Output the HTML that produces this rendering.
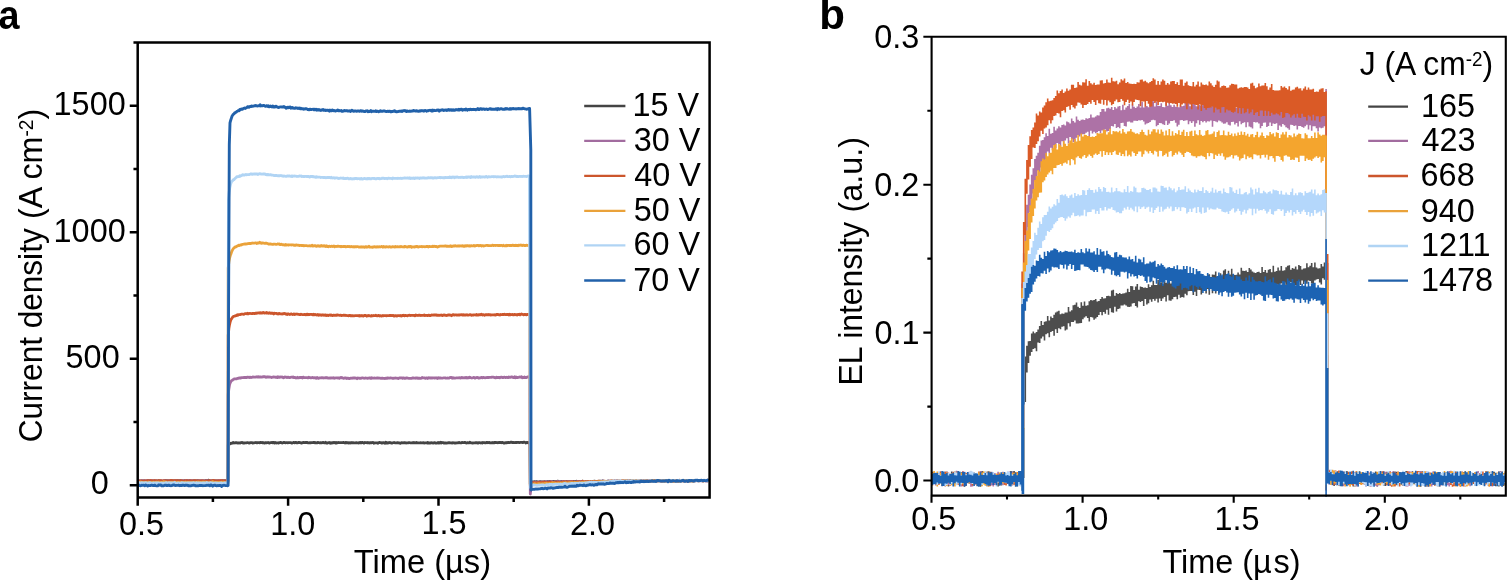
<!DOCTYPE html>
<html><head><meta charset="utf-8"><title>Figure</title>
<style>
html,body{margin:0;padding:0;background:#fff;}
body{width:1507px;height:580px;overflow:hidden;}
svg{display:block;}
text{font-family:"Liberation Sans",Arial,Helvetica,sans-serif;fill:#000;}
</style></head><body>
<svg width="1507" height="580" viewBox="0 0 1507 580">
<rect width="1507" height="580" fill="#fff"/>
<g clip-path="url(#ca)">
<path d="M137.7 480.9l1 -0.1 1 0 1 0.2 1 -0.2 1 0.1 1 0 1 0.3 1 -0.2 1 0 1 -0.2 1 -0.2 1 0.5 1 0 1 -0.2 1 0.1 1 0.1 1 0 1 0 1 -0.3 1 0.4 1 -0.6 1 0.5 1 -0.1 1 0.1 1 0.2 1 -0.1 1 -0.6 1 -0.1 1 0.6 1 -0.4 1 0.2 1 0.2 1 -0.6 1 -0.1 1 0.6 1 -0.1 1 -0.1 1 0.1 1 -0.2 1 -0.1 1 0.3 1 -0.2 1 -0.2 1 0.5 1 -0.1 1 0.1 1 -0.3 1 0.1 1 -0.1 1 0 1 0.2 1 -0.2 1 0.3 1 0 1 0.3 1 -0.7 1 0.5 1 -0.2 1 0 1 -0.3 1 0.2 1 0.3 1 -0.2 1 0 1 -0.1 1 0.4 1 -0.3 1 -0.5 1 0.3 1 -0.2 1 -0.3 1 0.6 1 0.4 1 -0.3 1 -0.3 1 0.1 1 0.4 1 -0.2 1 0 1 0 1 0 1 0.2 1 -0.1 1 -0.1 1 -0.2 1 0.3 1 -0.3 1 0.4 1 -0.5 1 0.3 0.3 0 0.2 -35.9 0.7 -1 0.7 0.1 0.7 -0.4 0.7 -0.5 0.7 0.1 0.7 -0.1 0.7 -0.8 0.7 0.6 0.7 -0.1 0.7 0 0.7 -0.3 0.7 0.1 0.7 0.1 0.7 0.3 0.7 -0.2 0.7 -0.1 0.7 0.3 0.7 -0.4 0.7 0 0.7 -0.3 0.7 0.7 0.7 -0.1 0.7 0 0.7 -0.1 0.7 -0.1 0.7 0 0.7 -0.1 0.7 0 0.7 0.1 0.7 0.3 0.7 -0.2 0.7 -0.2 0.7 -0.1 0.7 0 0.7 0.5 0.7 -0.2 0.7 -0.1 0.7 -0.1 0.7 -0.2 0.7 0.2 0.7 0.2 0.7 -0.3 0.7 0.1 0.7 0 0.7 0.1 0.7 -0.4 0.7 0.3 0.7 -0.2 0.7 0.4 0.7 -0.3 0.7 0.3 0.7 0.2 0.7 -0.4 0.7 -0.1 0.7 0.2 0.7 -0.1 0.7 -0.2 0.7 0.3 0.7 0.4 0.7 -0.5 0.7 0 0.7 -0.2 0.7 0.3 0.7 -0.4 0.7 0.1 0.7 0.5 0.7 -0.5 0.7 0.4 0.7 0.1 0.7 -0.2 0.7 0 0.7 0.3 0.7 -0.4 0.7 -0.1 0.7 -0.2 0.7 0.3 0.7 0.3 0.7 -0.1 0.7 -0.4 0.7 0 0.7 0.1 0.7 0.2 0.7 -0.1 0.7 0 0.7 0.1 0.7 -0.2 0.7 0.1 0.7 0 0.7 0 0.7 0.1 0.7 0.3 0.7 -0.3 0.7 -0.1 0.7 -0.4 0.7 0.5 0.7 -0.5 0.7 0.1 0.7 0.5 0.7 0 0.7 -0.2 0.7 -0.4 0.7 0.3 0.7 0 0.7 0.2 0.7 0.4 0.7 -0.5 0.7 -0.2 0.7 -0.1 0.7 0.3 0.7 0 0.7 -0.3 0.7 0.3 0.7 -0.3 0.7 0.5 0.7 0 0.7 0 0.7 -0.3 0.7 0.2 0.7 -0.1 0.7 -0.1 0.7 0 0.7 -0.2 0.7 0 0.7 0.5 0.7 -0.2 0.7 0.1 0.7 0.1 0.7 -0.6 0.7 0.2 0.7 0.3 0.7 0 0.7 -0.2 0.7 0.3 0.7 -0.1 0.7 -0.3 0.7 0 0.7 0.4 0.7 -0.1 0.7 -0.5 0.7 0.7 0.7 -0.1 0.7 0.1 0.7 -0.4 0.7 0.1 0.7 -0.2 0.7 0.8 0.7 -0.6 0.7 0.4 0.7 -0.5 0.7 0.2 0.7 -0.4 0.7 0.3 0.7 0.3 0.7 -0.5 0.7 0.5 0.7 -0.2 0.7 -0.3 0.7 0.1 0.7 0 0.7 0.1 0.7 -0.1 0.7 0 0.7 0.1 0.7 -0.2 0.7 0 0.7 0.3 0.7 0.2 0.7 -0.6 0.7 0.4 0.7 -0.2 0.7 0 0.7 0.4 0.7 -0.3 0.7 0.4 0.7 -0.5 0.7 0.3 0.7 -0.2 0.7 -0.1 0.7 0.3 0.7 -0.1 0.7 0.1 0.7 -0.1 0.7 -0.2 0.7 0.2 0.7 0 0.7 0.2 0.7 -0.4 0.7 0.2 0.7 -0.4 0.7 0.5 0.7 -0.3 0.7 -0.2 0.7 0.4 0.7 0.3 0.7 -0.6 0.7 0.1 0.7 0.1 0.7 -0.1 0.7 0.3 0.7 -0.3 0.7 0.1 0.7 0.3 0.7 -0.3 0.7 0.2 0.7 -0.3 0.7 0 0.7 -0.2 0.7 0.8 0.7 -0.4 0.7 0.1 0.7 -0.1 0.7 0.1 0.7 0 0.7 0.4 0.7 -0.7 0.7 -0.1 0.7 0.1 0.7 0 0.7 0.4 0.7 0 0.7 -0.4 0.7 0 0.7 0.2 0.7 0.4 0.7 -1 0.7 0.8 0.7 -0.4 0.7 0.5 0.7 -0.5 0.7 0.2 0.7 -0.3 0.7 0.2 0.7 0.5 0.7 -0.1 0.7 -0.3 0.7 -0.1 0.7 -0.2 0.7 0.3 0.7 0.1 0.7 0 0.7 0 0.7 -0.3 0.7 0.3 0.7 0 0.7 0.3 0.7 0.1 0.7 -0.4 0.7 -0.2 0.7 0.2 0.7 -0.1 0.7 -0.1 0.7 0.2 0.7 -0.2 0.7 0.3 0.7 -0.1 0.7 0 0.7 0 0.7 -0.2 0.7 0 0.7 0.1 0.7 0 0.7 0.1 0.7 0 0.7 -0.3 0.7 0.3 0.7 -0.3 0.7 0.2 0.7 0 0.7 -0.4 0.7 0.5 0.7 0 0.7 0 0.7 -0.1 0.7 0 0.7 -0.1 0.7 0.1 0.7 0 0.7 0.1 0.7 -0.3 0.7 0.4 0.7 -0.1 0.7 0 0.7 -0.1 0.7 0.2 0.7 -0.5 0.7 0.5 0.7 -0.1 0.7 0.1 0.7 0 0.7 -0.3 0.7 0.1 0.7 0.2 0.7 0 0.7 -0.1 0.7 -0.3 0.7 0.4 0.7 0.1 0.7 0 0.7 -0.2 0.7 -0.4 0.7 0.6 0.7 -0.3 0.7 -0.5 0.7 0.7 0.7 -0.5 0.7 0.1 0.7 0.1 0.7 0.4 0.7 -0.3 0.7 0.1 0.7 0.3 0.7 0 0.7 -0.4 0.7 0 0.7 -0.2 0.7 0.1 0.7 0.2 0.7 0 0.7 0 0.7 0.2 0.7 -0.4 0.7 0.1 0.7 0.2 0.7 0 0.7 0.1 0.7 -0.2 0.7 -0.1 0.7 0.1 0.7 -0.3 0.7 -0.1 0.7 0.4 0.7 -0.1 0.7 0.1 0.7 -0.5 0.7 0.3 0.7 0 0.7 -0.1 0.7 -0.3 0.7 0.4 0.7 0.3 0.7 -0.1 0.7 -0.2 0.7 0.1 0.7 0.1 0.7 -0.7 0.7 0.5 0.7 0.2 0.7 0 0.7 0.2 0.7 -0.1 0.7 -0.2 0.7 0 0.7 0.1 0.7 -0.3 0.7 0.1 0.7 0.2 0.7 0.3 0.7 -0.5 0.7 0 0.7 0.1 0.7 0.2 0.7 -0.3 0.7 0.3 0.7 -0.5 0.7 0.2 0.7 0 0.7 0.2 0.7 0 0.7 -0.5 0.7 0.1 0.7 0.3 0.7 -0.3 0.7 -0.2 0.7 0.6 0.7 -0.1 0.7 0 0.7 -0.2 0.7 0.3 0.7 -0.3 0.7 0.3 0.7 -0.5 0.7 0 0.7 0.3 0.7 -0.2 0.7 0.3 0.7 -0.1 0.7 -0.3 0.7 0.2 0.7 -0.1 0.7 0.3 0.7 -0.3 0.7 0 0.7 0.4 0.7 0.2 0.7 -0.1 0.7 -0.4 0.7 0 0.7 0.3 0.7 -0.4 0.7 -0.2 0.7 0.3 0.7 0 0.7 -0.2 0.7 -0.2 0.7 0 0.7 0.5 0.7 -0.4 0.7 0.2 0.7 0.1 0.7 0 0.7 -0.2 0.7 0.2 0.7 -0.3 0.7 0.1 0.7 -0.1 0.7 0.4 0.7 -0.2 0.7 -0.2 0.7 0.1 0.7 0 0.7 0.2 0.7 -0.5 0.7 0.1 0.7 0.1 0.7 0.7 0.7 -0.4 0.7 -0.2 0.7 0.2 0.7 0.3 0.7 -0.6 0.7 0 0.4 41.6 1.2 -2 1 0.1 1 -0.2 1 -0.1 1 0.1 1 -0.2 1 0.3 1 0.2 1 -0.4 1 0 1 0.2 1 0 1 -0.1 1 -0.2 1 0.2 1 0.1 1 -0.4 1 0.2 1 -0.4 1 0.2 1 -0.2 1 0.4 1 -0.3 1 0.4 1 -0.1 1 0 1 -0.6 1 0.5 1 0.1 1 0 1 -0.4 1 0.2 1 -0.1 1 0.1 1 0.4 1 -0.5 1 0.2 1 0.2 1 -0.3 1 0.1 1 0 1 0 1 -0.3 1 0.3 1 0.3 1 -0.7 1 0.5 1 -0.1 1 -0.2 1 0.6 1 -0.3 1 -0.5 1 0.3 1 0.1 1 -0.2 1 0.2 1 -0.2 1 0.2 1 0.2 1 -0.5 1 0.2 1 -0.2 1 0.1 1 -0.3 1 0.2 1 0 1 0.3 1 0 1 -0.5 1 0.1 1 0.3 1 -0.6 1 0.3 1 0.1 1 0.3 1 -0.1 1 -0.3 1 0 1 0 1 0.4 1 -0.4 1 0 1 0.1 1 -0.1 1 0 1 -0.2 1 0.2 1 -0.1 1 0.4 1 -0.2 1 -0.1 1 0.1 1 -0.2 1 0.3 1 -0.2 1 0.1 1 -0.4 1 0.3 1 -0.4 1 -0.1 1 0.4 1 -0.2 1 0.2 1 0.5 1 -0.7 1 0.1 1 0.1 1 0.1 1 -0.2 1 0 1 0.2 1 0 1 -0.4 1 0.2 1 0 1 -0.2 1 0.3 1 -0.3 1 0.4 1 -0.2 1 0 1 -0.1 1 0 1 -0.4 1 0.2 1 0.3 1 -0.5 1 0.6 1 -0.5 1 0.5 1 -0.4 1 0.4 1 -0.2 1 -0.3 1 0.6 1 0 1 -0.3 1 -0.1 1 0 1 -0.2 1 0.5 1 -0.4 1 0.1 1 -0.1 1 0 1 -0.2 1 0.6 1 -0.3 1 0.2 1 -0.2 1 -0.2 1 0.1 1 0 1 0.1 1 -0.1 1 0 1 -0.3 1 0.2 1 0.5 1 -0.5 1 -0.1 1 0.3 1 0.2 1 -0.6 1 0.2 1 -0.1 1 -0.2 1 0.5 1 -0.1 1 0 1 -0.2 1 0.2 1 -0.2 1 0.1 1 -0.2 1 0 1 0.5 1 -0.4 1 0.2" fill="none" stroke="#444444" stroke-width="2.8" stroke-linejoin="round"/>
<path d="M137.7 481.2l1 -0.6 1 0.2 1 0.1 1 0.1 1 -0.3 1 0.2 1 -0.2 1 0.1 1 0 1 -0.3 1 0.3 1 0.2 1 -0.4 1 0.1 1 0.2 1 -0.3 1 0.2 1 -0.2 1 0.4 1 0.3 1 -0.1 1 -0.4 1 0.2 1 -0.2 1 0 1 0.3 1 -0.6 1 0.5 1 -0.2 1 0.3 1 -0.3 1 -0.1 1 0.2 1 0.1 1 -0.2 1 0.1 1 -0.2 1 -0.4 1 0.7 1 0 1 -0.2 1 0 1 0.2 1 -0.3 1 -0.1 1 0.2 1 0.3 1 -0.6 1 0.6 1 -0.4 1 -0.1 1 0.5 1 -0.3 1 -0.3 1 0.2 1 0.3 1 0.1 1 -0.4 1 0.2 1 0.1 1 -0.3 1 0.2 1 -0.1 1 -0.1 1 0 1 0.1 1 0 1 -0.1 1 0 1 0.3 1 -0.2 1 0.2 1 0.1 1 -0.2 1 0.4 1 -0.7 1 0.4 1 -0.3 1 0.5 1 0 1 -0.8 1 0.2 1 0.3 1 0.1 1 0 1 -0.2 1 0.1 1 0 1 -0.1 1 0.2 0.3 -0.2 0.2 -86.3 0.7 -5.8 0.7 -4.3 0.7 -1.7 0.7 -1.4 0.7 -0.8 0.7 -0.3 0.7 -0.7 0.7 -0.3 0.7 -0.4 0.7 0.1 0.7 -0.1 0.7 0 0.7 -0.5 0.7 0.1 0.7 -0.3 0.7 -0.2 0.7 0.1 0.7 0 0.7 -0.4 0.7 0 0.7 0 0.7 0 0.7 -0.3 0.7 0.4 0.7 -0.4 0.7 0.2 0.7 -0.4 0.7 0.3 0.7 -0.1 0.7 -0.2 0.7 0.5 0.7 -0.4 0.7 0.3 0.7 -0.2 0.7 -0.3 0.7 0 0.7 0.2 0.7 -0.1 0.7 0 0.7 -0.1 0.7 -0.3 0.7 0.4 0.7 -0.5 0.7 0.6 0.7 -0.3 0.7 0 0.7 0.2 0.7 0.1 0.7 -0.4 0.7 -0.1 0.7 0.2 0.7 -0.2 0.7 0.2 0.7 0.5 0.7 -0.5 0.7 0.3 0.7 -0.4 0.7 0.4 0.7 -0.2 0.7 0.1 0.7 0.1 0.7 0.3 0.7 -0.4 0.7 0 0.7 -0.2 0.7 0.3 0.7 -0.1 0.7 0.2 0.7 -0.2 0.7 0.4 0.7 -0.8 0.7 0.4 0.7 0.3 0.7 -0.3 0.7 -0.1 0.7 0.2 0.7 -0.3 0.7 0.4 0.7 0.5 0.7 -0.3 0.7 -0.5 0.7 0.1 0.7 0.1 0.7 0.4 0.7 -0.4 0.7 0 0.7 0.4 0.7 0 0.7 -0.3 0.7 -0.1 0.7 -0.1 0.7 0.2 0.7 -0.3 0.7 0.7 0.7 -0.3 0.7 0.2 0.7 0.4 0.7 -0.2 0.7 -0.5 0.7 0.5 0.7 0 0.7 -0.4 0.7 0 0.7 0.2 0.7 -0.3 0.7 0.7 0.7 -0.9 0.7 0.3 0.7 0.2 0.7 0 0.7 0.1 0.7 0 0.7 -0.1 0.7 0.3 0.7 -0.7 0.7 0.5 0.7 -0.1 0.7 0.2 0.7 0 0.7 -0.3 0.7 0.1 0.7 0.3 0.7 -0.1 0.7 -0.2 0.7 0.6 0.7 0.1 0.7 -0.8 0.7 0.4 0.7 0.5 0.7 -0.4 0.7 -0.1 0.7 -0.1 0.7 -0.1 0.7 0.1 0.7 -0.1 0.7 0.3 0.7 -0.2 0.7 0 0.7 -0.2 0.7 0.3 0.7 -0.2 0.7 0.2 0.7 0.3 0.7 -0.2 0.7 0.1 0.7 -0.1 0.7 0 0.7 -0.1 0.7 0 0.7 0.2 0.7 -0.4 0.7 0.6 0.7 -0.3 0.7 -0.2 0.7 0.1 0.7 0 0.7 0.2 0.7 -0.2 0.7 0.4 0.7 -0.4 0.7 -0.4 0.7 0.4 0.7 -0.3 0.7 0.5 0.7 0.2 0.7 -0.1 0.7 -0.4 0.7 0.1 0.7 0.6 0.7 -0.3 0.7 -0.1 0.7 0.2 0.7 0.4 0.7 -0.3 0.7 -0.2 0.7 0 0.7 0.1 0.7 -0.3 0.7 -0.1 0.7 0.3 0.7 -0.3 0.7 0.2 0.7 0.1 0.7 0.5 0.7 -0.7 0.7 0.1 0.7 0 0.7 0.2 0.7 0.1 0.7 -0.3 0.7 -0.1 0.7 -0.2 0.7 0.2 0.7 0.3 0.7 -0.1 0.7 -0.2 0.7 0.1 0.7 0.1 0.7 0.1 0.7 -0.2 0.7 0 0.7 -0.3 0.7 0.1 0.7 0.7 0.7 -0.9 0.7 0.4 0.7 0.1 0.7 -0.1 0.7 -0.1 0.7 0.2 0.7 0 0.7 0 0.7 -0.4 0.7 0.4 0.7 -0.2 0.7 0.1 0.7 0.1 0.7 0.1 0.7 0.1 0.7 -0.3 0.7 0.3 0.7 0 0.7 0 0.7 0.1 0.7 -0.3 0.7 -0.1 0.7 0.3 0.7 -0.5 0.7 0.3 0.7 -0.1 0.7 0 0.7 -0.3 0.7 0.2 0.7 0.2 0.7 0.2 0.7 0 0.7 -0.3 0.7 0 0.7 -0.1 0.7 0.2 0.7 -0.1 0.7 0.2 0.7 0.2 0.7 -0.4 0.7 -0.3 0.7 0.2 0.7 -0.2 0.7 0.1 0.7 0.5 0.7 -0.2 0.7 -0.4 0.7 0.5 0.7 0.1 0.7 -0.4 0.7 0 0.7 0 0.7 0.2 0.7 0.1 0.7 0.1 0.7 0 0.7 0 0.7 0 0.7 -0.2 0.7 -0.4 0.7 0.3 0.7 0.1 0.7 -0.2 0.7 0.3 0.7 -0.3 0.7 -0.1 0.7 0.5 0.7 -0.2 0.7 -0.1 0.7 0.2 0.7 0 0.7 -0.2 0.7 -0.6 0.7 0.4 0.7 0 0.7 -0.1 0.7 0.3 0.7 0.2 0.7 -0.4 0.7 -0.1 0.7 0.7 0.7 -0.6 0.7 -0.2 0.7 0.3 0.7 0.1 0.7 -0.3 0.7 0.4 0.7 -0.3 0.7 -0.1 0.7 0.2 0.7 0.1 0.7 -0.3 0.7 0.2 0.7 -0.1 0.7 0.7 0.7 -0.8 0.7 0.4 0.7 -0.3 0.7 0 0.7 0.2 0.7 0 0.7 0.1 0.7 -0.2 0.7 -0.2 0.7 0 0.7 0.2 0.7 0 0.7 0.2 0.7 -0.2 0.7 0.1 0.7 0.1 0.7 -0.3 0.7 -0.4 0.7 0.1 0.7 -0.1 0.7 0.7 0.7 -0.6 0.7 0.5 0.7 -0.1 0.7 0.2 0.7 -0.2 0.7 -0.2 0.7 0 0.7 0 0.7 0 0.7 -0.1 0.7 0.1 0.7 0.3 0.7 -0.7 0.7 0.4 0.7 -0.2 0.7 0.2 0.7 0.1 0.7 -0.2 0.7 0.2 0.7 -0.5 0.7 0.6 0.7 -0.4 0.7 0.3 0.7 -0.1 0.7 -0.7 0.7 0.4 0.7 0.3 0.7 0.2 0.7 -0.2 0.7 -0.1 0.7 -0.3 0.7 0.6 0.7 0.1 0.7 -0.4 0.7 -0.1 0.7 -0.3 0.7 0.5 0.7 0.4 0.7 -0.4 0.7 0.1 0.7 -0.2 0.7 -0.3 0.7 0.5 0.7 -0.6 0.7 0.3 0.7 0.1 0.7 0.1 0.7 -0.1 0.7 0 0.7 -0.3 0.7 -0.1 0.7 0.3 0.7 -0.2 0.7 -0.1 0.7 0 0.7 0.1 0.7 -0.3 0.7 0.1 0.7 0 0.7 0.3 0.7 0.1 0.7 0.3 0.7 -0.7 0.7 0.1 0.7 0.4 0.7 -0.3 0.7 0 0.7 0.4 0.7 -0.4 0.7 -0.2 0.7 -0.1 0.7 0.4 0.7 0 0.7 -0.4 0.7 0.1 0.7 0.3 0.7 0 0.7 -0.3 0.7 0.3 0.7 0 0.7 -0.5 0.7 0.3 0.7 0.1 0.7 -0.2 0.7 -0.4 0.7 0.4 0.7 0.3 0.7 0.1 0.7 -0.8 0.7 1 0.7 -0.8 0.7 0.5 0.7 0 0.7 0 0.7 -0.2 0.7 -0.3 0.7 0.3 0.7 -0.3 0.7 -0.4 0.7 1.2 0.7 -0.5 0.7 0.3 0.7 -0.6 0.7 0.5 0.7 0 0.7 0 0.7 -0.4 0.7 -0.2 0.7 0.2 0.7 -0.5 0.7 0.1 0.4 117.3 1.2 -11.5 1 -0.2 1 0 1 -0.2 1 0.5 1 -0.1 1 -0.2 1 0 1 -0.6 1 0.5 1 -0.2 1 0.2 1 0 1 -0.2 1 -0.3 1 0.4 1 -0.2 1 0 1 0 1 0 1 -0.4 1 0.7 1 -0.2 1 0.2 1 0.2 1 -0.5 1 -0.4 1 0.2 1 -0.1 1 0.2 1 0.1 1 -0.5 1 0.5 1 -0.4 1 0.4 1 -0.1 1 -0.1 1 0.1 1 -0.1 1 -0.1 1 -0.2 1 0.3 1 0.4 1 0 1 -0.1 1 -0.2 1 -0.3 1 0.5 1 -0.4 1 0 1 0 1 0 1 -0.1 1 0.1 1 -0.2 1 0.1 1 0.6 1 -0.6 1 0 1 0.2 1 0 1 -0.4 1 0.2 1 0.2 1 -0.2 1 0 1 0.3 1 -0.5 1 0.1 1 -0.1 1 0.4 1 -0.7 1 0.2 1 0.1 1 0.2 1 0 1 0.1 1 -0.6 1 0.5 1 -0.3 1 -0.1 1 0.3 1 -0.3 1 -0.3 1 0.4 1 -0.3 1 0.2 1 0.2 1 0 1 0.2 1 -0.4 1 -0.3 1 0.2 1 0 1 -0.1 1 0.4 1 -0.3 1 -0.3 1 0.6 1 -0.2 1 0.1 1 -0.1 1 0.1 1 -0.1 1 0.3 1 -0.2 1 0 1 0 1 -0.5 1 0.3 1 0 1 0.1 1 -0.4 1 0.7 1 -0.3 1 -0.3 1 -0.2 1 0.3 1 0.1 1 -0.2 1 0.2 1 -0.2 1 0.3 1 -0.3 1 0.2 1 0.2 1 0.3 1 -0.8 1 0.1 1 -0.1 1 0.4 1 -0.4 1 0.1 1 0.1 1 -0.2 1 0 1 0.1 1 -0.4 1 0.2 1 0.2 1 0.1 1 -0.1 1 -0.3 1 0.2 1 0.3 1 -0.1 1 -0.1 1 -0.2 1 0.3 1 -0.2 1 -0.2 1 0.1 1 0.5 1 -0.3 1 0.2 1 -0.4 1 0.4 1 -0.4 1 0.1 1 0.6 1 -0.4 1 -0.3 1 0.1 1 0.1 1 0.2 1 -0.4 1 -0.3 1 0.3 1 0.1 1 0 1 0.2 1 -0.2 1 0.1 1 -0.4 1 0.4 1 0.3 1 -0.3 1 -0.1 1 -0.1" fill="none" stroke="#a26c9f" stroke-width="2.8" stroke-linejoin="round"/>
<path d="M137.7 480.8l1 0.2 1 0.2 1 -0.2 1 -0.1 1 0.5 1 -0.3 1 -0.3 1 0.3 1 -0.1 1 -0.3 1 0.2 1 0 1 -0.4 1 0.4 1 -0.1 1 0 1 -0.3 1 0.3 1 0.1 1 0 1 -0.3 1 0.4 1 -0.4 1 0.2 1 0.4 1 -0.5 1 0.1 1 0.3 1 -0.3 1 0 1 0.2 1 0.1 1 -0.7 1 0.3 1 0 1 0 1 0 1 0 1 0.3 1 -0.3 1 0.2 1 0.1 1 -0.3 1 0.2 1 0.4 1 -0.3 1 -0.2 1 0.1 1 -0.2 1 0.3 1 0.1 1 -0.4 1 0.2 1 0.3 1 -0.4 1 0.1 1 -0.2 1 0 1 0.1 1 0.6 1 -0.6 1 0 1 0 1 0.1 1 0.1 1 -0.1 1 0.5 1 -0.5 1 0.3 1 -0.2 1 0 1 -0.4 1 0.3 1 0 1 -0.1 1 -0.4 1 0.7 1 -0.3 1 0 1 0 1 0 1 0.2 1 -0.4 1 0.1 1 0.3 1 -0.1 1 -0.1 1 0 1 -0.1 1 0.2 0.3 0 0.2 -145.6 0.7 -7 0.7 -4 0.7 -2.9 0.7 -1.9 0.7 -0.8 0.7 -1.3 0.7 -0.7 0.7 -0.4 0.7 -0.1 0.7 -0.3 0.7 -0.3 0.7 -0.1 0.7 -0.7 0.7 0.4 0.7 -0.6 0.7 0 0.7 0 0.7 -0.3 0.7 -0.2 0.7 0 0.7 0.1 0.7 0.1 0.7 -0.1 0.7 -0.5 0.7 0 0.7 -0.1 0.7 0.2 0.7 -0.6 0.7 0.7 0.7 -0.4 0.7 -0.2 0.7 0.2 0.7 0.2 0.7 -0.2 0.7 0.1 0.7 -0.3 0.7 0.2 0.7 0 0.7 -0.4 0.7 0.3 0.7 -0.3 0.7 0 0.7 -0.3 0.7 0.1 0.7 0.2 0.7 -0.5 0.7 0.5 0.7 -0.1 0.7 0 0.7 -0.6 0.7 0.5 0.7 0.2 0.7 -0.3 0.7 0.2 0.7 -0.5 0.7 0.7 0.7 -0.3 0.7 0.4 0.7 -0.6 0.7 0.6 0.7 -0.1 0.7 0.2 0.7 -0.3 0.7 0.1 0.7 0.7 0.7 -0.7 0.7 0.1 0.7 0.1 0.7 -0.1 0.7 0.5 0.7 0.2 0.7 -0.5 0.7 -0.2 0.7 0.6 0.7 0 0.7 0 0.7 0.1 0.7 -0.4 0.7 0.2 0.7 -0.3 0.7 0.1 0.7 0.5 0.7 -0.3 0.7 0.7 0.7 -0.5 0.7 -0.1 0.7 0.3 0.7 0.3 0.7 -0.3 0.7 -0.3 0.7 0.3 0.7 0.3 0.7 -0.4 0.7 -0.1 0.7 0.5 0.7 -0.2 0.7 -0.3 0.7 0.2 0.7 0 0.7 0.2 0.7 0 0.7 0.2 0.7 0 0.7 -0.5 0.7 0.4 0.7 0.2 0.7 -0.1 0.7 0.1 0.7 -0.3 0.7 -0.1 0.7 0.5 0.7 -0.5 0.7 -0.2 0.7 0.7 0.7 -0.3 0.7 0.1 0.7 -0.2 0.7 0 0.7 0 0.7 0.2 0.7 0.2 0.7 -0.6 0.7 0.7 0.7 -0.4 0.7 0.1 0.7 0.4 0.7 -0.2 0.7 -0.3 0.7 0.8 0.7 -0.6 0.7 0.3 0.7 0 0.7 0.3 0.7 -0.4 0.7 0.3 0.7 -0.4 0.7 0.5 0.7 -0.4 0.7 0.1 0.7 0.5 0.7 -0.4 0.7 0 0.7 0.5 0.7 -0.4 0.7 -0.2 0.7 0.3 0.7 -0.4 0.7 0.5 0.7 0.1 0.7 -0.4 0.7 0 0.7 0.2 0.7 0 0.7 -0.2 0.7 0.3 0.7 -0.5 0.7 0.3 0.7 0 0.7 0.1 0.7 0.1 0.7 -0.3 0.7 0.4 0.7 -0.1 0.7 -0.1 0.7 -0.2 0.7 0.1 0.7 0.3 0.7 -0.3 0.7 0.3 0.7 0.2 0.7 0 0.7 0.1 0.7 -0.4 0.7 -0.1 0.7 0.5 0.7 -0.2 0.7 0.2 0.7 -0.2 0.7 0.2 0.7 0 0.7 -0.1 0.7 0 0.7 0 0.7 0 0.7 0 0.7 0.1 0.7 -0.3 0.7 0.5 0.7 -0.4 0.7 0.3 0.7 -0.3 0.7 0 0.7 0.5 0.7 -0.5 0.7 -0.2 0.7 0.1 0.7 0.1 0.7 0.6 0.7 -0.5 0.7 0.2 0.7 -0.4 0.7 0.3 0.7 0 0.7 0.3 0.7 -0.6 0.7 0.3 0.7 0 0.7 -0.3 0.7 0.2 0.7 -0.1 0.7 -0.4 0.7 0.6 0.7 0 0.7 -0.2 0.7 -0.2 0.7 0.6 0.7 -0.3 0.7 0.2 0.7 0.1 0.7 -0.4 0.7 0.3 0.7 -0.3 0.7 0.1 0.7 0 0.7 0 0.7 0.2 0.7 -0.2 0.7 -0.1 0.7 0 0.7 0.1 0.7 -0.3 0.7 0.1 0.7 0.1 0.7 -0.1 0.7 0.1 0.7 -0.1 0.7 0.6 0.7 -0.2 0.7 -0.2 0.7 -0.1 0.7 0.5 0.7 -0.4 0.7 -0.1 0.7 0 0.7 0 0.7 0.3 0.7 -0.3 0.7 0.4 0.7 -0.6 0.7 0.3 0.7 -0.4 0.7 0.6 0.7 -0.4 0.7 0 0.7 0.2 0.7 0.1 0.7 -0.5 0.7 0.1 0.7 -0.2 0.7 0.3 0.7 -0.1 0.7 0 0.7 -0.1 0.7 0.1 0.7 -0.1 0.7 0.3 0.7 0.2 0.7 -0.8 0.7 0.4 0.7 -0.1 0.7 0.2 0.7 -0.3 0.7 0.2 0.7 -0.2 0.7 0.3 0.7 -0.1 0.7 -0.1 0.7 0.1 0.7 -0.1 0.7 -0.3 0.7 0.5 0.7 -0.1 0.7 -0.1 0.7 0.2 0.7 0.1 0.7 -0.5 0.7 0 0.7 0.5 0.7 0 0.7 -0.5 0.7 -0.1 0.7 0.1 0.7 0 0.7 -0.2 0.7 0.3 0.7 -0.3 0.7 0.1 0.7 0.4 0.7 -0.3 0.7 0.1 0.7 0.1 0.7 0.1 0.7 -0.3 0.7 0.1 0.7 -0.2 0.7 0.6 0.7 -0.3 0.7 -0.4 0.7 0.3 0.7 0.1 0.7 -0.1 0.7 0.3 0.7 -0.1 0.7 -0.4 0.7 0.1 0.7 -0.3 0.7 0.4 0.7 -0.1 0.7 0.6 0.7 -0.6 0.7 -0.5 0.7 0.3 0.7 0.2 0.7 -0.3 0.7 0.1 0.7 0.1 0.7 0.1 0.7 -0.1 0.7 -0.2 0.7 0.4 0.7 -0.3 0.7 0 0.7 -0.2 0.7 0.1 0.7 0.3 0.7 -0.5 0.7 0.4 0.7 0.1 0.7 -0.2 0.7 0.1 0.7 -0.3 0.7 0.5 0.7 0 0.7 -0.2 0.7 -0.4 0.7 0.1 0.7 0.4 0.7 0.2 0.7 -0.3 0.7 0.2 0.7 -0.4 0.7 0.1 0.7 0 0.7 0.1 0.7 -0.5 0.7 0.6 0.7 0.1 0.7 -0.6 0.7 0 0.7 0.3 0.7 -0.2 0.7 -0.4 0.7 0.7 0.7 -0.1 0.7 -0.2 0.7 0.6 0.7 -0.5 0.7 -0.2 0.7 0.2 0.7 -0.2 0.7 0 0.7 0.3 0.7 -0.3 0.7 0.1 0.7 0.4 0.7 -0.2 0.7 0 0.7 0 0.7 -0.1 0.7 0.2 0.7 -0.3 0.7 0.4 0.7 -0.6 0.7 0.1 0.7 -0.2 0.7 0.2 0.7 0.2 0.7 0.2 0.7 -0.5 0.7 0.2 0.7 -0.1 0.7 -0.1 0.7 -0.1 0.7 0.2 0.7 -0.4 0.7 0.4 0.7 0 0.7 -0.1 0.7 -0.1 0.7 -0.1 0.7 0.7 0.7 -0.7 0.7 0.6 0.7 -0.2 0.7 -0.2 0.7 -0.2 0.7 0.5 0.7 0.1 0.7 -0.6 0.7 0.2 0.7 0.3 0.7 -0.2 0.7 0.4 0.7 -0.6 0.7 0.2 0.7 -0.4 0.7 0.7 0.7 -0.6 0.7 -0.3 0.7 0.4 0.7 0 0.7 0.5 0.7 -0.5 0.7 0 0.7 0.2 0.7 0.2 0.7 -0.4 0.7 0.2 0.7 -0.1 0.7 -0.2 0.7 0.1 0.4 170.3 1.2 -2 1 -0.2 1 0.1 1 0 1 0.5 1 -0.2 1 -0.3 1 0.2 1 -0.4 1 0.1 1 0.2 1 -0.5 1 0.2 1 -0.2 1 0.3 1 0.3 1 -0.5 1 0.2 1 -0.3 1 -0.1 1 0 1 0.6 1 0.1 1 -0.4 1 -0.3 1 0.3 1 -0.2 1 0.2 1 -0.1 1 0 1 0 1 -0.3 1 0.1 1 -0.3 1 0.2 1 -0.2 1 0.3 1 -0.2 1 0.2 1 0 1 -0.4 1 0.1 1 0 1 0.3 1 0.2 1 -0.2 1 -0.3 1 0.4 1 -0.6 1 0.6 1 -0.5 1 -0.5 1 1.2 1 -0.3 1 -0.5 1 0.2 1 -0.1 1 0.1 1 -0.4 1 0.2 1 0.2 1 -0.1 1 0.2 1 -0.3 1 0.5 1 -0.7 1 0.2 1 -0.5 1 0.2 1 0.5 1 -0.5 1 0.3 1 -0.1 1 -0.3 1 0.2 1 -0.1 1 0 1 0.3 1 -0.1 1 -0.3 1 -0.1 1 0.3 1 -0.1 1 0.2 1 0.4 1 -0.5 1 -0.2 1 0 1 -0.2 1 0 1 0 1 0.1 1 0 1 0.2 1 -0.2 1 0 1 -0.2 1 0.6 1 -0.3 1 0.3 1 -0.2 1 0.1 1 -0.3 1 0.2 1 0.4 1 -0.9 1 0.5 1 0.1 1 -0.2 1 0 1 0.1 1 -0.4 1 0.2 1 -0.3 1 0.1 1 0 1 0.1 1 0 1 0.1 1 -0.4 1 0.7 1 -0.2 1 -0.1 1 -0.2 1 0 1 0.2 1 -0.1 1 -0.4 1 0.5 1 0.5 1 -1.1 1 0.6 1 -0.1 1 -0.1 1 0.3 1 -0.6 1 0.3 1 0.3 1 -0.4 1 0 1 0.1 1 -0.2 1 0.5 1 -0.6 1 0.4 1 -0.5 1 0.5 1 -0.2 1 -0.6 1 0.6 1 -0.3 1 0.2 1 0.4 1 -0.6 1 0 1 0.6 1 -0.3 1 0.3 1 -0.3 1 -0.3 1 0.2 1 0.3 1 -0.1 1 -0.2 1 0 1 0 1 -0.1 1 0.5 1 -0.4 1 -0.3 1 0.1 1 0.3 1 0 1 -0.2 1 -0.1 1 0.1 1 -0.4 1 0.1 1 0.5" fill="none" stroke="#cc562c" stroke-width="2.8" stroke-linejoin="round"/>
<path d="M137.7 482.6l1 -0.1 1 0.2 1 -0.7 1 0.3 1 0 1 0.1 1 -0.1 1 0 1 0.3 1 -0.2 1 -0.3 1 0.6 1 -0.1 1 -0.3 1 0.3 1 -0.4 1 0.4 1 -0.2 1 -0.2 1 0.1 1 -0.1 1 0.2 1 0 1 0 1 -0.1 1 -0.7 1 0.8 1 -0.4 1 0.5 1 0.1 1 -0.1 1 -0.2 1 0.1 1 0 1 -0.1 1 0 1 -0.1 1 0.5 1 -0.3 1 0.2 1 -0.3 1 0.1 1 0 1 0.1 1 0.1 1 -0.1 1 -0.2 1 -0.1 1 0.6 1 -0.5 1 0 1 0.4 1 -0.1 1 -0.1 1 -0.2 1 0.6 1 -0.4 1 0 1 -0.1 1 -0.3 1 0 1 0.4 1 0 1 -0.2 1 -0.2 1 0 1 0.2 1 -0.2 1 0.5 1 0.1 1 0.3 1 -0.4 1 -0.3 1 -0.1 1 -0.6 1 0.7 1 0.1 1 0.2 1 -0.1 1 0 1 -0.1 1 0.1 1 0.2 1 -0.5 1 0.1 1 -0.2 1 0.7 1 -0.1 1 -0.1 1 -0.5 0.3 0.3 0.2 -214.4 0.7 -5.9 0.7 -4.1 0.7 -2.4 0.7 -1.8 0.7 -2.2 0.7 -1.5 0.7 -1.2 0.7 -0.8 0.7 -0.6 0.7 -0.5 0.7 -0.1 0.7 -0.6 0.7 -0.2 0.7 -0.4 0.7 -0.5 0.7 0.4 0.7 -0.7 0.7 0.2 0.7 -0.2 0.7 -0.6 0.7 0 0.7 -0.1 0.7 -0.1 0.7 -0.2 0.7 0.3 0.7 -0.3 0.7 0 0.7 -0.2 0.7 0 0.7 -0.3 0.7 0.1 0.7 0 0.7 -0.1 0.7 -0.2 0.7 -0.2 0.7 0.2 0.7 0 0.7 -0.2 0.7 -0.2 0.7 0.3 0.7 0.4 0.7 -0.7 0.7 0.2 0.7 0 0.7 -0.7 0.7 0.7 0.7 -0.2 0.7 0.5 0.7 -0.3 0.7 0 0.7 0.2 0.7 0.1 0.7 -0.1 0.7 0.2 0.7 -0.2 0.7 0.3 0.7 0.3 0.7 0.4 0.7 -0.2 0.7 -0.1 0.7 0.3 0.7 0 0.7 0.2 0.7 -0.1 0.7 -0.2 0.7 0.1 0.7 0 0.7 0.1 0.7 0 0.7 -0.1 0.7 -0.3 0.7 0.3 0.7 -0.2 0.7 0.5 0.7 0 0.7 -0.3 0.7 0.5 0.7 0.1 0.7 -0.1 0.7 0.3 0.7 0.1 0.7 -0.6 0.7 0.5 0.7 -0.1 0.7 0 0.7 0.2 0.7 -0.3 0.7 0 0.7 0 0.7 0.1 0.7 0.1 0.7 -0.2 0.7 0.1 0.7 0.4 0.7 -0.1 0.7 0.1 0.7 -0.5 0.7 0.3 0.7 0.1 0.7 0.1 0.7 -0.1 0.7 0.4 0.7 -0.2 0.7 0 0.7 0.1 0.7 0.1 0.7 -0.2 0.7 0.4 0.7 -0.2 0.7 0 0.7 0 0.7 0.1 0.7 0.1 0.7 0.1 0.7 -0.1 0.7 0.1 0.7 -0.2 0.7 0.3 0.7 -0.3 0.7 -0.4 0.7 0.8 0.7 -0.3 0.7 -0.2 0.7 0.2 0.7 -0.1 0.7 0.7 0.7 -0.4 0.7 -0.4 0.7 0.5 0.7 -0.2 0.7 0.5 0.7 -0.6 0.7 -0.3 0.7 0.6 0.7 -0.1 0.7 0 0.7 -0.4 0.7 0.6 0.7 0.3 0.7 -0.7 0.7 0.7 0.7 -0.4 0.7 0.6 0.7 -0.4 0.7 -0.1 0.7 0.3 0.7 -0.1 0.7 -0.2 0.7 0.3 0.7 -0.3 0.7 -0.2 0.7 0.8 0.7 -0.5 0.7 0 0.7 0.2 0.7 -0.4 0.7 0.1 0.7 0.2 0.7 0 0.7 0.1 0.7 0.3 0.7 -0.4 0.7 0.3 0.7 0 0.7 -0.4 0.7 0.4 0.7 -0.3 0.7 0.5 0.7 -0.2 0.7 0 0.7 -0.3 0.7 0.3 0.7 -0.2 0.7 0.4 0.7 -0.2 0.7 -0.2 0.7 0.4 0.7 0 0.7 -0.3 0.7 0.4 0.7 -0.3 0.7 0 0.7 0.1 0.7 -0.2 0.7 0.1 0.7 0.1 0.7 0.4 0.7 0 0.7 -0.4 0.7 0.4 0.7 -0.4 0.7 0.1 0.7 0.2 0.7 -0.2 0.7 0.5 0.7 -0.5 0.7 -0.3 0.7 0.6 0.7 -0.4 0.7 0 0.7 -0.6 0.7 0.9 0.7 0 0.7 0 0.7 0 0.7 0.2 0.7 -0.4 0.7 0.2 0.7 -0.4 0.7 0.1 0.7 0.3 0.7 -0.1 0.7 -0.4 0.7 0.4 0.7 -0.1 0.7 -0.2 0.7 0.3 0.7 -0.2 0.7 -0.3 0.7 0.1 0.7 0.7 0.7 -0.8 0.7 0.4 0.7 0.1 0.7 0 0.7 -0.4 0.7 0.2 0.7 0.1 0.7 0.1 0.7 -0.3 0.7 -0.1 0.7 0.5 0.7 0 0.7 -0.2 0.7 -0.2 0.7 0.2 0.7 0 0.7 0.1 0.7 -0.5 0.7 0.3 0.7 0 0.7 -0.2 0.7 0.2 0.7 0 0.7 -0.1 0.7 0.2 0.7 -0.4 0.7 0.3 0.7 0.1 0.7 -0.1 0.7 0.2 0.7 -0.5 0.7 -0.1 0.7 0.4 0.7 0 0.7 0.4 0.7 -0.3 0.7 -0.4 0.7 0.4 0.7 -0.4 0.7 -0.1 0.7 0.9 0.7 -0.5 0.7 0 0.7 0 0.7 0.3 0.7 -0.4 0.7 0.2 0.7 -0.5 0.7 -0.1 0.7 0.7 0.7 0 0.7 -0.3 0.7 0 0.7 0 0.7 -0.2 0.7 0.4 0.7 -0.2 0.7 0 0.7 0 0.7 0.1 0.7 -0.1 0.7 0 0.7 -0.4 0.7 0.4 0.7 0.3 0.7 -0.6 0.7 0.1 0.7 0.2 0.7 0 0.7 -0.1 0.7 -0.5 0.7 0.5 0.7 -0.4 0.7 0.1 0.7 0.3 0.7 -0.2 0.7 0.2 0.7 0.5 0.7 -0.5 0.7 -0.1 0.7 -0.3 0.7 0 0.7 -0.1 0.7 0.1 0.7 -0.1 0.7 0.1 0.7 0 0.7 -0.1 0.7 -0.2 0.7 0 0.7 0.4 0.7 -0.1 0.7 0.2 0.7 0 0.7 -0.3 0.7 0.2 0.7 -0.5 0.7 0.8 0.7 -0.2 0.7 -0.3 0.7 -0.3 0.7 0.4 0.7 -0.5 0.7 0.2 0.7 0.3 0.7 -0.1 0.7 -0.2 0.7 0.3 0.7 -0.4 0.7 0.2 0.7 -0.1 0.7 -0.1 0.7 0.3 0.7 -0.4 0.7 0.6 0.7 -0.5 0.7 0.5 0.7 -0.6 0.7 0.3 0.7 -0.4 0.7 0 0.7 0.3 0.7 0.1 0.7 -0.4 0.7 0.5 0.7 -0.5 0.7 0.2 0.7 0.1 0.7 0 0.7 -0.5 0.7 0.7 0.7 -0.2 0.7 -0.2 0.7 -0.2 0.7 -0.1 0.7 0 0.7 0.4 0.7 -0.2 0.7 -0.1 0.7 0.1 0.7 0.4 0.7 -0.4 0.7 0 0.7 0.4 0.7 -0.2 0.7 -0.1 0.7 -0.2 0.7 -0.2 0.7 0.1 0.7 0.1 0.7 0.1 0.7 0.1 0.7 0 0.7 -0.1 0.7 0 0.7 -0.2 0.7 -0.3 0.7 0.4 0.7 -0.1 0.7 0 0.7 0.1 0.7 -0.2 0.7 0 0.7 0.2 0.7 0.1 0.7 -0.2 0.7 0.2 0.7 -0.1 0.7 -0.2 0.7 0.2 0.7 0.4 0.7 -0.6 0.7 0.4 0.7 0.1 0.7 0 0.7 -0.5 0.7 0.6 0.7 -0.4 0.7 -0.1 0.7 0 0.7 0.2 0.7 -0.2 0.7 0 0.7 0.3 0.7 -0.5 0.7 0 0.7 0.4 0.7 -0.1 0.7 0.1 0.7 -0.5 0.7 0.5 0.7 -0.1 0.7 0.3 0.7 -0.7 0.7 0.3 0.7 -0.1 0.7 -0.3 0.7 0.2 0.7 0.4 0.7 -0.4 0.7 0 0.7 0.3 0.7 0 0.7 0 0.7 -0.4 0.7 0.2 0.7 0.2 0.7 -0.3 0.7 -0.1 0.7 0.4 0.4 240.5 1.2 -2 1 -0.2 1 0.4 1 -0.6 1 0.5 1 0 1 -0.3 1 -0.2 1 0.1 1 0.1 1 0 1 -0.1 1 0.1 1 -0.3 1 0.1 1 -0.4 1 0.5 1 -0.2 1 -0.2 1 0.4 1 -0.2 1 -0.8 1 0.6 1 -0.3 1 0.5 1 0.3 1 -0.7 1 0.1 1 -0.1 1 0.1 1 0 1 0.1 1 -0.5 1 0.5 1 -0.6 1 0.3 1 0.1 1 -0.1 1 -0.4 1 0 1 0 1 0.1 1 0.2 1 -0.5 1 0.3 1 0 1 0 1 -0.1 1 0.2 1 -0.2 1 0 1 -0.1 1 0.2 1 -0.8 1 0.7 1 -0.4 1 0 1 -0.2 1 -0.2 1 0.2 1 0 1 0.2 1 -0.5 1 0.6 1 -0.3 1 -0.1 1 -0.1 1 -0.1 1 -0.1 1 0.1 1 0.1 1 -0.1 1 -0.3 1 0.2 1 -0.1 1 0.2 1 0.3 1 -0.3 1 -0.2 1 -0.4 1 0.1 1 -0.1 1 0.5 1 -0.4 1 0.2 1 -0.2 1 0.1 1 0.3 1 -0.5 1 0 1 -0.1 1 0.4 1 -0.4 1 -0.1 1 0 1 -0.1 1 0.5 1 0.4 1 -0.8 1 0.4 1 -0.1 1 -0.3 1 0.1 1 0.1 1 -0.2 1 0.6 1 -0.8 1 0.5 1 -0.1 1 -0.2 1 0.2 1 0.1 1 -0.1 1 0 1 0.1 1 -0.6 1 0.7 1 0.2 1 -0.3 1 0 1 -0.5 1 0.3 1 -0.2 1 0 1 0.4 1 -0.4 1 0.1 1 -0.4 1 0.4 1 0 1 -0.1 1 0 1 0.5 1 -0.7 1 0.1 1 0 1 0.4 1 0.2 1 -0.4 1 -0.2 1 0.1 1 0.3 1 -0.5 1 0.6 1 -0.1 1 -0.3 1 0.2 1 0 1 0.1 1 -0.5 1 0.4 1 -0.3 1 -0.1 1 0.2 1 -0.1 1 -0.2 1 -0.1 1 0.1 1 0.6 1 0.1 1 -0.3 1 0.1 1 -0.4 1 0.1 1 0.1 1 -0.4 1 0.1 1 0.2 1 -0.1 1 -0.2 1 0.3 1 -0.1 1 0.3 1 -0.3 1 0 1 0 1 0 1 -0.1 1 0" fill="none" stroke="#eaa23a" stroke-width="2.8" stroke-linejoin="round"/>
<path d="M137.7 483.1l1 -0.6 1 0.4 1 -0.1 1 -0.1 1 0.2 1 0.1 1 -0.1 1 -0.2 1 0.2 1 0.5 1 -0.6 1 -0.2 1 0.5 1 0 1 0 1 -0.3 1 0.4 1 -0.4 1 0 1 0.1 1 0.1 1 0.2 1 -0.1 1 -0.1 1 0.2 1 -0.2 1 0.2 1 -0.5 1 0 1 0.5 1 -0.5 1 0.2 1 0.1 1 -0.1 1 0 1 0.4 1 -0.9 1 0.8 1 0.3 1 -0.5 1 0 1 0.2 1 0.2 1 -0.7 1 0.3 1 0 1 0.1 1 -0.1 1 0.1 1 -0.2 1 0.1 1 -0.1 1 0 1 0.1 1 0 1 -0.3 1 0.6 1 -0.3 1 -0.3 1 0.5 1 -0.4 1 0.3 1 -0.1 1 0.1 1 -0.1 1 -0.1 1 0.1 1 0.4 1 -0.9 1 0.5 1 0.1 1 -0.3 1 -0.1 1 0.8 1 -0.6 1 0.6 1 -0.4 1 -0.1 1 0.1 1 0 1 0.2 1 -0.2 1 -0.1 1 0 1 0.3 1 -0.1 1 -0.4 1 0.1 1 0.2 1 -0.2 0.3 0.1 0.4 -283.1 0.7 -7.4 0.7 -4.7 0.7 -3.2 0.7 -2 0.7 -1.4 0.7 -0.4 0.7 -1.2 0.7 0.1 0.7 -1 0.7 -0.6 0.7 -0.6 0.7 -0.9 0.7 0.2 0.7 -0.2 0.7 0.1 0.7 -0.9 0.7 0.5 0.7 -0.7 0.7 0 0.7 -0.8 0.7 0.4 0.7 -0.3 0.7 0.2 0.7 -0.3 0.7 -0.4 0.7 0.4 0.7 -0.1 0.7 -0.1 0.7 0 0.7 -0.1 0.7 -0.3 0.7 -0.3 0.7 -0.1 0.7 0.6 0.7 -0.2 0.7 -0.2 0.7 -0.1 0.7 0.1 0.7 0 0.7 -0.1 0.7 -0.1 0.7 0.7 0.7 -0.4 0.7 -0.2 0.7 -0.2 0.7 0.1 0.7 0.4 0.7 0 0.7 -0.2 0.7 0 0.7 0 0.7 -0.2 0.7 0.7 0.7 -0.2 0.7 0.6 0.7 -0.6 0.7 0.3 0.7 0.3 0.7 -0.1 0.7 -0.2 0.7 0.2 0.7 0.3 0.7 0.1 0.7 0 0.7 0.3 0.7 0.1 0.7 -0.1 0.7 0 0.7 0 0.7 0.2 0.7 0.2 0.7 -0.2 0.7 0.2 0.7 -0.2 0.7 -0.2 0.7 0.2 0.7 0.4 0.7 -0.1 0.7 0.3 0.7 -0.3 0.7 0.2 0.7 0.1 0.7 0 0.7 -0.4 0.7 0.1 0.7 0.1 0.7 -0.2 0.7 0.3 0.7 0.1 0.7 -0.3 0.7 0.5 0.7 -0.5 0.7 0.1 0.7 0 0.7 -0.1 0.7 0.2 0.7 0 0.7 0.3 0.7 -0.2 0.7 0 0.7 -0.2 0.7 -0.2 0.7 0.3 0.7 -0.2 0.7 0.5 0.7 -0.2 0.7 0.3 0.7 -0.1 0.7 0 0.7 -0.1 0.7 0 0.7 0.1 0.7 0.1 0.7 -0.3 0.7 0.3 0.7 0.5 0.7 -0.6 0.7 0 0.7 0 0.7 -0.2 0.7 0.6 0.7 -0.2 0.7 0.1 0.7 0.4 0.7 0.2 0.7 -0.7 0.7 0.5 0.7 -0.1 0.7 0 0.7 0 0.7 0 0.7 0.4 0.7 -0.2 0.7 0 0.7 0.2 0.7 0 0.7 -0.1 0.7 0.1 0.7 0.3 0.7 -0.2 0.7 -0.1 0.7 -0.1 0.7 0.1 0.7 -0.1 0.7 0.3 0.7 0.1 0.7 -0.5 0.7 0.5 0.7 0.2 0.7 -0.1 0.7 -0.2 0.7 0.6 0.7 -0.4 0.7 -0.1 0.7 0.1 0.7 0.2 0.7 0.3 0.7 0.1 0.7 -0.2 0.7 -0.3 0.7 0.2 0.7 0 0.7 0.1 0.7 -0.3 0.7 0.5 0.7 0.1 0.7 -0.1 0.7 0.1 0.7 -0.3 0.7 -0.1 0.7 0.2 0.7 0.5 0.7 -0.1 0.7 -0.3 0.7 0.4 0.7 -0.3 0.7 0.4 0.7 -0.2 0.7 -0.2 0.7 0.3 0.7 -0.4 0.7 0 0.7 -0.1 0.7 0.4 0.7 -0.1 0.7 0 0.7 -0.1 0.7 0.4 0.7 -0.4 0.7 -0.1 0.7 0.5 0.7 0 0.7 -0.2 0.7 -0.5 0.7 0.2 0.7 0.3 0.7 -0.1 0.7 0.3 0.7 -0.6 0.7 0.4 0.7 -0.3 0.7 0.4 0.7 -0.3 0.7 0.3 0.7 -0.4 0.7 -0.2 0.7 0.1 0.7 0.1 0.7 -0.1 0.7 0.5 0.7 0 0.7 -0.3 0.7 -0.3 0.7 0.2 0.7 -0.1 0.7 0.5 0.7 -0.3 0.7 0 0.7 -0.2 0.7 -0.3 0.7 0.2 0.7 -0.1 0.7 0.4 0.7 -0.1 0.7 -0.2 0.7 0.1 0.7 0.4 0.7 -0.6 0.7 0 0.7 0.2 0.7 -0.1 0.7 0 0.7 0.2 0.7 0.3 0.7 -0.8 0.7 0.4 0.7 0 0.7 -0.1 0.7 0 0.7 0 0.7 0.2 0.7 -0.3 0.7 0.1 0.7 0 0.7 0 0.7 -0.1 0.7 0.3 0.7 -0.3 0.7 0.1 0.7 -0.1 0.7 -0.2 0.7 0 0.7 0 0.7 0.2 0.7 -0.2 0.7 -0.1 0.7 0.3 0.7 0.1 0.7 -0.5 0.7 0.7 0.7 -0.4 0.7 0 0.7 0.2 0.7 -0.2 0.7 -0.1 0.7 0.6 0.7 -0.8 0.7 0.2 0.7 0.2 0.7 -0.4 0.7 0.2 0.7 0.1 0.7 0.4 0.7 -0.7 0.7 0.2 0.7 0.1 0.7 -0.1 0.7 -0.3 0.7 0.3 0.7 0 0.7 0 0.7 0.2 0.7 -0.1 0.7 -0.1 0.7 -0.1 0.7 -0.3 0.7 0.2 0.7 0.1 0.7 -0.2 0.7 0.1 0.7 -0.2 0.7 0.5 0.7 0.1 0.7 -0.5 0.7 0.1 0.7 -0.1 0.7 0.3 0.7 -0.2 0.7 -0.1 0.7 -0.1 0.7 0.1 0.7 -0.3 0.7 0.4 0.7 -0.3 0.7 0.2 0.7 -0.1 0.7 0.2 0.7 -0.2 0.7 0.2 0.7 -0.4 0.7 0.3 0.7 -0.2 0.7 0.1 0.7 -0.1 0.7 0.2 0.7 -0.7 0.7 0.5 0.7 -0.4 0.7 0.6 0.7 -0.7 0.7 0.2 0.7 -0.2 0.7 0.8 0.7 -0.7 0.7 0.3 0.7 -0.2 0.7 -0.3 0.7 0.4 0.7 0.2 0.7 -0.2 0.7 0.2 0.7 -0.3 0.7 0.1 0.7 -0.1 0.7 0.1 0.7 0.4 0.7 -0.4 0.7 0 0.7 -0.2 0.7 -0.1 0.7 0.5 0.7 -0.6 0.7 0.1 0.7 0.1 0.7 -0.1 0.7 0.6 0.7 -1 0.7 0.6 0.7 0 0.7 -0.4 0.7 0.1 0.7 0.3 0.7 0.2 0.7 -0.6 0.7 -0.1 0.7 0.5 0.7 0.1 0.7 -0.4 0.7 -0.4 0.7 0.8 0.7 -0.4 0.7 0.3 0.7 -0.3 0.7 -0.1 0.7 0 0.7 0.4 0.7 0 0.7 -0.8 0.7 0.3 0.7 0.6 0.7 -0.5 0.7 -0.2 0.7 0.2 0.7 0 0.7 0 0.7 -0.1 0.7 0 0.7 0 0.7 0.2 0.7 -0.3 0.7 0.1 0.7 0 0.7 0.3 0.7 -0.2 0.7 -0.1 0.7 0.1 0.7 0 0.7 0.1 0.7 -0.1 0.7 0.3 0.7 -0.1 0.7 -0.4 0.7 -0.1 0.7 0.3 0.7 -0.1 0.7 -0.1 0.7 -0.3 0.7 -0.1 0.7 0.5 0.7 0 0.7 0 0.7 -0.4 0.7 0.5 0.7 -0.4 0.7 0.2 0.7 0 0.7 -0.3 0.7 0.1 0.7 -0.4 0.7 0.3 0.7 -0.2 0.7 0.5 0.7 -0.1 0.7 0.1 0.7 -0.1 0.7 -0.2 0.7 0.2 0.7 -0.2 0.7 0.2 0.7 0 0.7 -0.3 0.7 0.2 0.7 0 0.7 -0.1 0.7 0.2 0.7 0.2 0.7 -0.5 0.7 0 0.7 -0.4 0.7 0.5 0.9 311.3 1.2 -1.7 1 -0.6 1 -0.4 1 0.2 1 0.1 1 0.1 1 0.1 1 -0.2 1 -0.2 1 0.2 1 -0.3 1 0.1 1 -0.1 1 0.6 1 -0.4 1 -0.4 1 -0.1 1 0.1 1 -0.4 1 0.2 1 -0.1 1 0.4 1 -0.4 1 -0.1 1 -0.2 1 0 1 0.2 1 -0.1 1 0.3 1 -0.5 1 0.3 1 -0.2 1 -0.1 1 -0.5 1 0.1 1 0.4 1 0.1 1 -0.3 1 0.1 1 -0.3 1 -0.1 1 -0.1 1 0.3 1 -0.2 1 -0.1 1 -0.1 1 0.1 1 -0.1 1 -0.3 1 0.5 1 -0.3 1 -0.1 1 0.2 1 -0.1 1 -0.3 1 0.1 1 -0.4 1 0 1 -0.4 1 0.7 1 -0.7 1 0.5 1 -0.4 1 0 1 0.1 1 0 1 0.1 1 0.2 1 -0.4 1 0.1 1 -0.4 1 0.2 1 -0.1 1 -0.2 1 0 1 0 1 0 1 0 1 -0.3 1 -0.1 1 0.3 1 -0.6 1 0.2 1 0.4 1 -1 1 0.4 1 0.3 1 -0.6 1 0.9 1 -1.2 1 0.9 1 0 1 -0.1 1 -0.3 1 0.1 1 -0.2 1 0.3 1 -0.4 1 0.2 1 0.2 1 -0.4 1 0.1 1 0.1 1 -0.3 1 0.6 1 -0.2 1 -0.5 1 0.4 1 -0.2 1 0 1 0.2 1 -0.2 1 0.4 1 -0.4 1 0.3 1 -0.2 1 0.2 1 -0.3 1 0 1 -0.2 1 0.4 1 0.1 1 0.2 1 -0.1 1 -0.3 1 -0.1 1 0.1 1 -0.1 1 0.4 1 -0.2 1 -0.4 1 0.1 1 0.4 1 -0.2 1 -0.2 1 0.3 1 -0.3 1 0 1 0 1 -0.4 1 0.6 1 -0.4 1 0.1 1 0 1 0.3 1 -0.2 1 0 1 -0.4 1 0.4 1 -0.3 1 0.4 1 0 1 -0.1 1 0.4 1 -0.3 1 0 1 -0.1 1 -0.1 1 0.2 1 0.1 1 -0.6 1 0.5 1 -0.1 1 0.1 1 -0.1 1 -0.4 1 0 1 0.7 1 -0.4 1 -0.4 1 0.4 1 -0.1 1 -0.4 1 -0.1 1 0.2 1 0.4 1 -0.1 1 0 1 0.1" fill="none" stroke="#b0d4f4" stroke-width="2.8" stroke-linejoin="round"/>
<path d="M137.7 485.4l1 -0.5 1 0.7 1 0.1 1 -0.4 1 0.1 1 -0.2 1 0.5 1 -0.7 1 0.4 1 0.7 1 -0.6 1 0.1 1 -0.1 1 -0.4 1 0.4 1 0.1 1 -0.4 1 0.4 1 0.3 1 -0.1 1 -0.8 1 0.2 1 -0.2 1 0.8 1 -0.1 1 0 1 -0.5 1 0 1 0.3 1 0 1 -0.3 1 0.3 1 0.2 1 -0.1 1 -0.4 1 -0.3 1 0.5 1 0.1 1 -0.1 1 0 1 -0.1 1 0.4 1 -0.2 1 0 1 -0.3 1 0.1 1 0.2 1 -0.3 1 -0.1 1 0.3 1 0.5 1 -0.3 1 0.3 1 -0.4 1 -0.1 1 -0.3 1 0.2 1 0.6 1 -0.3 1 0.1 1 0 1 -0.2 1 -0.1 1 0.1 1 0.2 1 -0.1 1 0 1 -0.1 1 -0.2 1 0.1 1 -0.2 1 0.6 1 -0.9 1 0.5 1 0.8 1 -0.8 1 -0.2 1 0.3 1 0.4 1 -0.4 1 0.2 1 -0.2 1 -0.1 1 1 1 -0.9 1 -0.2 1 0.1 1 0.2 1 0 1 0.1 0.4 -0.2 0.2 -65.5 0.3 -120 0.7 -155.4 0.7 -21.7 0.7 -2.7 0.7 -2.1 0.7 -2.1 0.7 -1 0.7 -0.9 0.7 -0.5 0.7 -1 0.7 -0.1 0.7 -0.4 0.7 -0.8 0.7 -0.3 0.7 -0.4 0.7 0.1 0.7 -1.3 0.7 0.3 0.7 -0.7 0.7 0.1 0.7 0.1 0.7 -0.7 0.7 -0.1 0.7 -0.5 0.7 0.5 0.7 -0.5 0.7 -0.2 0.7 -0.9 0.7 -0.1 0.7 0.5 0.7 -0.5 0.7 -0.2 0.7 0.1 0.7 -0.7 0.7 0.5 0.7 -0.3 0.7 0 0.7 -0.4 0.7 0.2 0.7 -0.4 0.7 0.4 0.7 0.1 0.7 -0.1 0.7 -0.1 0.7 0 0.7 -1 0.7 1.1 0.7 -0.3 0.7 0.1 0.7 0 0.7 -0.3 0.7 0.3 0.7 0.4 0.7 0.3 0.7 -0.6 0.7 0 0.7 0.7 0.7 -0.6 0.7 0.9 0.7 -0.5 0.7 -0.3 0.7 0.6 0.7 0.3 0.7 -0.9 0.7 1 0.7 -0.5 0.7 0.5 0.7 -0.5 0.7 -0.3 0.7 0.7 0.7 0.2 0.7 0.4 0.7 -0.1 0.7 -0.3 0.7 -0.2 0.7 0 0.7 0.1 0.7 -0.1 0.7 0.2 0.7 -0.6 0.7 0.8 0.7 0 0.7 0.9 0.7 -0.5 0.7 -0.4 0.7 0.4 0.7 -0.5 0.7 0.3 0.7 -0.4 0.7 1.1 0.7 -0.2 0.7 -0.5 0.7 0.4 0.7 0.3 0.7 -0.1 0.7 0.1 0.7 -0.4 0.7 0.2 0.7 0.2 0.7 0.3 0.7 -0.4 0.7 -0.1 0.7 0.7 0.7 -0.5 0.7 0.6 0.7 -0.2 0.7 0.3 0.7 0.3 0.7 -0.3 0.7 0.1 0.7 -0.4 0.7 0.1 0.7 0.4 0.7 0.4 0.7 0 0.7 0.3 0.7 -0.5 0.7 0 0.7 0.3 0.7 -0.2 0.7 0 0.7 -0.2 0.7 0.6 0.7 -0.5 0.7 0.5 0.7 -0.5 0.7 0.8 0.7 -0.6 0.7 0.6 0.7 -0.6 0.7 0.4 0.7 0.5 0.7 -0.5 0.7 0.3 0.7 -0.2 0.7 -0.5 0.7 0.9 0.7 0 0.7 -0.4 0.7 0.6 0.7 -0.4 0.7 0 0.7 0.3 0.7 -0.2 0.7 0.9 0.7 -1.1 0.7 0.7 0.7 0.1 0.7 -0.9 0.7 0.1 0.7 0.7 0.7 -0.3 0.7 0.3 0.7 0.2 0.7 -0.4 0.7 -0.2 0.7 -0.5 0.7 0.9 0.7 -0.3 0.7 0.4 0.7 0 0.7 -0.5 0.7 0.9 0.7 -0.1 0.7 -0.1 0.7 -0.6 0.7 0.2 0.7 0 0.7 0.1 0.7 -0.2 0.7 0.4 0.7 0 0.7 0.1 0.7 -0.3 0.7 0.6 0.7 -0.4 0.7 -0.8 0.7 0.6 0.7 0.2 0.7 0.3 0.7 -0.4 0.7 0.1 0.7 -0.1 0.7 0.4 0.7 -0.4 0.7 0 0.7 0 0.7 0.4 0.7 -0.4 0.7 -0.3 0.7 0.7 0.7 -0.4 0.7 0.3 0.7 0.1 0.7 0.2 0.7 0 0.7 -0.5 0.7 0.1 0.7 -0.3 0.7 0.9 0.7 -0.4 0.7 0.3 0.7 -0.5 0.7 -0.5 0.7 1.1 0.7 -0.4 0.7 0 0.7 0 0.7 0.1 0.7 0 0.7 -0.6 0.7 0.8 0.7 -0.5 0.7 0 0.7 0.7 0.7 -0.2 0.7 -0.4 0.7 -0.5 0.7 0.6 0.7 0.1 0.7 -0.1 0.7 -0.4 0.7 0.2 0.7 -0.2 0.7 0.5 0.7 0.1 0.7 0.1 0.7 -0.5 0.7 0.3 0.7 0.1 0.7 -0.4 0.7 0.2 0.7 0.6 0.7 -0.5 0.7 0.2 0.7 -0.4 0.7 0.1 0.7 -0.5 0.7 0.5 0.7 0.3 0.7 0.3 0.7 -0.3 0.7 -0.1 0.7 -0.2 0.7 -0.2 0.7 0.1 0.7 0.2 0.7 -0.4 0.7 0.5 0.7 -0.6 0.7 -0.3 0.7 0.3 0.7 -0.3 0.7 0.1 0.7 0.8 0.7 -0.5 0.7 0.2 0.7 0.2 0.7 0 0.7 -0.5 0.7 0.5 0.7 -0.3 0.7 -0.1 0.7 0.1 0.7 -0.6 0.7 0.2 0.7 0.2 0.7 0.2 0.7 -0.3 0.7 0 0.7 0.3 0.7 0.2 0.7 -0.3 0.7 0.2 0.7 -0.5 0.7 0 0.7 0.1 0.7 -0.2 0.7 0 0.7 0.6 0.7 -0.6 0.7 -0.2 0.7 0.4 0.7 0.4 0.7 -0.6 0.7 0.3 0.7 -0.5 0.7 0 0.7 -0.1 0.7 0.2 0.7 0.5 0.7 -0.9 0.7 0.8 0.7 -0.8 0.7 0.2 0.7 0.3 0.7 0 0.7 -0.2 0.7 -0.5 0.7 0.5 0.7 -0.4 0.7 1.1 0.7 -0.9 0.7 0.1 0.7 -0.4 0.7 0.2 0.7 -0.3 0.7 0.7 0.7 -0.4 0.7 0.2 0.7 -0.4 0.7 0.1 0.7 0.5 0.7 -0.7 0.7 -0.3 0.7 0.7 0.7 -0.5 0.7 0.2 0.7 0.4 0.7 -0.6 0.7 0.5 0.7 -0.5 0.7 0.7 0.7 -0.1 0.7 -0.6 0.7 0.1 0.7 -0.2 0.7 0.3 0.7 0.2 0.7 -0.8 0.7 0.7 0.7 -0.7 0.7 0.2 0.7 -0.3 0.7 1.1 0.7 -0.6 0.7 0 0.7 -0.3 0.7 0.5 0.7 -0.9 0.7 0.6 0.7 0.6 0.7 -0.8 0.7 0.1 0.7 0.2 0.7 -0.5 0.7 0.3 0.7 0.2 0.7 -0.2 0.7 0 0.7 -0.2 0.7 0.2 0.7 -0.1 0.7 0.4 0.7 -0.3 0.7 -0.3 0.7 -0.6 0.7 0.9 0.7 0 0.7 -0.5 0.7 -0.4 0.7 0.3 0.7 0.6 0.7 -0.6 0.7 0.1 0.7 0.2 0.7 0.3 0.7 -0.4 0.7 0 0.7 -0.1 0.7 0.6 0.7 -0.2 0.7 -0.3 0.7 -0.4 0.7 0.1 0.7 0.5 0.7 -0.4 0.7 0.4 0.7 -0.1 0.7 -0.1 0.7 0.1 0.7 0 0.7 -0.4 0.7 0.1 0.7 0.8 0.7 -1.1 0.7 0.3 0.7 0.4 0.7 -0.4 0.7 -0.2 0.7 -0.1 0.7 0.5 0.7 0.2 0.7 0.1 0.7 -0.4 0.7 0.2 0.7 -0.6 0.7 0.4 0.7 -0.3 0.7 0.3 0.7 0.1 0.7 0.1 0.7 -0.6 0.7 0.7 0.7 -0.6 0.7 -0.1 0.7 0.2 0.7 -0.4 0.7 0.5 0.7 0 0.7 -0.1 0.7 0.2 0.7 -0.3 0.7 0.1 0.7 -0.4 0.7 0.4 0.7 -0.2 0.7 0.1 0.7 0.1 0.7 0.1 0.7 -0.6 0.7 0 0.7 0.4 0.7 0.2 0.7 0 0.7 0.2 0.7 0.1 0.7 -0.2 0.7 -0.2 0.7 -0.3 0.7 0 1.2 41.5 0.2 340 1 -0.7 1 0.1 1 -0.1 1 -0.1 1 -0.2 1 0.2 1 -0.2 1 -0.1 1 0 1 -0.4 1 -0.2 1 0.4 1 -0.1 1 -0.3 1 -0.1 1 0.7 1 -1 1 0.1 1 0.1 1 -0.5 1 0.3 1 0.4 1 -0.3 1 -0.2 1 -0.1 1 -0.2 1 0.1 1 -0.4 1 -0.1 1 0.1 1 0.1 1 -0.2 1 0 1 -0.9 1 0.9 1 0.3 1 -0.4 1 -0.6 1 -0.2 1 0.2 1 -0.4 1 0.4 1 -0.4 1 0.3 1 0.1 1 -1.1 1 0.6 1 -0.4 1 -0.3 1 0.2 1 0 1 0.3 1 -0.8 1 0.7 1 0.2 1 -0.5 1 -0.1 1 -0.3 1 -0.4 1 0.5 1 -0.2 1 0.1 1 0.4 1 -0.6 1 -0.2 1 0.3 1 -0.9 1 -0.1 1 0.2 1 -0.2 1 0.3 1 -0.3 1 0.5 1 -0.1 1 -0.3 1 -0.5 1 0.2 1 0 1 -0.6 1 0.3 1 0.1 1 -0.3 1 0.4 1 -0.2 1 -0.7 1 0.2 1 -0.4 1 0.4 1 -0.6 1 0.5 1 -0.2 1 0.2 1 -0.4 1 -0.5 1 1 1 -0.7 1 0.5 1 -0.4 1 0.1 1 0.3 1 -0.5 1 0.3 1 -1 1 0.7 1 -0.4 1 0 1 0 1 0.1 1 0.3 1 -1.1 1 0.6 1 -0.3 1 0.5 1 -0.5 1 0.2 1 -0.3 1 0.3 1 0 1 -0.4 1 0.1 1 -0.5 1 0.6 1 0.1 1 -0.4 1 0.5 1 -1 1 0 1 0.2 1 0.2 1 0.2 1 -0.1 1 0 1 0.2 1 -0.3 1 -0.3 1 0 1 1 1 -1.4 1 0.7 1 0.5 1 -0.3 1 -0.5 1 0.3 1 0.2 1 0.1 1 -0.6 1 0.5 1 -0.2 1 0.2 1 0.1 1 -0.5 1 -0.4 1 0.6 1 0.4 1 -0.4 1 -0.1 1 0.6 1 -1 1 0.5 1 -0.4 1 0.2 1 0 1 0.4 1 -0.8 1 0.1 1 -0.3 1 0.6 1 -0.3 1 0.3 1 -0.5 1 0.2 1 0.4 1 -0.4 1 0.3 1 -0.1 1 -0.3 1 -0.3 1 0.7" fill="none" stroke="#2161aa" stroke-width="2.9" stroke-linejoin="round"/>
</g>
<path d="M137.7 42.5H709.6V497.6H137.7Z M137.7 497.6v6.8 M288.1 497.6v6.8 M438.5 497.6v6.8 M588.9 497.6v6.8 M212.9 497.6v3.1 M363.3 497.6v3.1 M513.7 497.6v3.1 M664.1 497.6v3.1 M137.7 485.3h-6.7 M137.7 358.8h-6.7 M137.7 232.2h-6.7 M137.7 105.7h-6.7 M137.7 422h-3 M137.7 295.5h-3 M137.7 169h-3 M137.7 42.4h-3" fill="none" stroke="#000" stroke-width="2.5" stroke-linecap="square"/>
<text transform="matrix(1 0 0 1.04 53.6 115)" font-size="32.4">1500</text>
<text transform="matrix(1 0 0 1.04 53.6 241.8)" font-size="32.4">1000</text>
<text transform="matrix(1 0 0 1.04 65.6 368)" font-size="32.4">500</text>
<text transform="matrix(1 0 0 1.04 90.8 494.4)" font-size="32.4">0</text>
<text transform="matrix(1 0 0 1.04 118.9 534.6)" font-size="32.4">0.5</text>
<text transform="matrix(1 0 0 1.04 270.3 534.5)" font-size="32.4">1.0</text>
<text transform="matrix(1 0 0 1.04 421.5 534.4)" font-size="32.4">1.5</text>
<text transform="matrix(1 0 0 1.04 570 534.6)" font-size="32.4">2.0</text>
<text transform="matrix(1.0075 0 0 1.04 353.8 573.4)" font-size="32.4">Time (&#181;s)</text>
<text transform="matrix(0 -0.974 1.04 0 42 442.2)" font-size="32.4">Current density</text>
<text transform="matrix(0 -0.995 1.04 0 42 218.9)" font-size="32.4">(A cm<tspan font-size="19.2" dy="-9.1">-2</tspan><tspan dy="9.1">)</tspan></text>
<text transform="matrix(0.9 0 0 0.97 -1.4 29.1)" font-size="42" font-weight="bold">a</text>
<path d="M584.2 106H625.4" stroke="#444444" stroke-width="2.3"/>
<text transform="matrix(1 0 0 1.04 632.5 116)" font-size="32.4">15 V</text>
<path d="M584.2 140.9H625.4" stroke="#a26c9f" stroke-width="2.3"/>
<text transform="matrix(1 0 0 1.04 633.8 150.9)" font-size="32.4">30 V</text>
<path d="M584.2 175.9H625.4" stroke="#cc562c" stroke-width="2.3"/>
<text transform="matrix(1 0 0 1.04 634.3 185.9)" font-size="32.4">40 V</text>
<path d="M584.2 210.9H625.4" stroke="#eaa23a" stroke-width="2.3"/>
<text transform="matrix(1 0 0 1.04 633.7 220.9)" font-size="32.4">50 V</text>
<path d="M584.2 245.3H625.4" stroke="#b0d4f4" stroke-width="2.3"/>
<text transform="matrix(1 0 0 1.04 633.4 255.3)" font-size="32.4">60 V</text>
<path d="M584.2 280.5H625.4" stroke="#2161aa" stroke-width="2.3"/>
<text transform="matrix(1 0 0 1.04 633.3 290.5)" font-size="32.4">70 V</text>
<g clip-path="url(#cb)"><g filter="url(#bl)">
<path d="M930.1 473.1l1.6 0 0 -1.3 1.6 0 0 0.9 1.6 0 0 2 1.6 0 0 -0.7 1.6 0 0 -1.1 1.6 0 0 -1 1.6 0 0 1 1.6 0 0 1 1.6 0 0 1.6 1.6 0 0 -3.8 1.6 0 0 3.3 1.6 0 0 -0.6 1.6 0 0 -2.8 1.6 0 0 3.6 1.6 0 0 -3.8 1.6 0 0 3.8 1.6 0 0 0.4 1.6 0 0 -1.8 1.6 0 0 -1.6 1.6 0 0 2.2 1.6 0 0 -2.5 1.6 0 0 2.5 1.6 0 0 -2.4 1.6 0 0 3.6 1.6 0 0 -0.7 1.6 0 0 0.6 1.6 0 0 -3 1.6 0 0 1.6 1.6 0 0 -1.1 1.6 0 0 2.1 1.6 0 0 -2.5 1.6 0 0 -1.7 1.6 0 0 4.8 1.6 0 0 -0.9 1.6 0 0 -3.1 1.6 0 0 0.1 1.6 0 0 -0.1 1.6 0 0 3.5 1.6 0 0 -1.6 1.6 0 0 2 1.6 0 0 -1.3 1.6 0 0 -0.8 1.6 0 0 1.5 1.6 0 0 -0.7 1.6 0 0 0.3 1.6 0 0 1 1.6 0 0 0.1 1.6 0 0 -3.4 1.6 0 0 3.5 1.6 0 0 -4.9 1.6 0 0 0.6 1.6 0 0 -0.6 1.6 0 0 1.3 1.6 0 0 3.6 1.6 0 0 -0.2 1.6 0 0 -0.8 1.6 0 0 -47.6 1.6 0 0 -30.2 1.6 0 0 -40.5 1.6 0 0 -10.8 1.6 0 0 -4.5 1.6 0 0 -0.1 1.6 0 0 -7.5 1.6 0 0 -2 1.6 0 0 1.6 1.6 0 0 -1.3 1.6 0 0 -2.4 1.6 0 0 -3.5 1.6 0 0 -5 1.6 0 0 3.9 1.6 0 0 -3.1 1.6 0 0 -0.5 1.6 0 0 -5.3 1.6 0 0 4.6 1.6 0 0 -4.2 1.6 0 0 1.6 1.6 0 0 -3.3 1.6 0 0 -2.3 1.6 0 0 -0.8 1.6 0 0 -0.9 1.6 0 0 3.5 1.6 0 0 -0.6 1.6 0 0 0.1 1.6 0 0 -1.3 1.6 0 0 0 1.6 0 0 -5.3 1.6 0 0 4.3 1.6 0 0 -1.2 1.6 0 0 -5 1.6 0 0 -0.4 1.6 0 0 -2.4 1.6 0 0 4.3 1.6 0 0 1.2 1.6 0 0 -5.7 1.6 0 0 3.5 1.6 0 0 -4.2 1.6 0 0 4.3 1.6 0 0 -0.6 1.6 0 0 -3.9 1.6 0 0 -1.3 1.6 0 0 0.4 1.6 0 0 -0.3 1.6 0 0 -1.1 1.6 0 0 2.4 1.6 0 0 -0.3 1.6 0 0 -2.1 1.6 0 0 -2 1.6 0 0 1.5 1.6 0 0 -0.2 1.6 0 0 -2.2 1.6 0 0 -0.3 1.6 0 0 0.4 1.6 0 0 -5.7 1.6 0 0 -0.7 1.6 0 0 5.9 1.6 0 0 -2.8 1.6 0 0 1.1 1.6 0 0 -1 1.6 0 0 1.1 1.6 0 0 -0.6 1.6 0 0 -0.2 1.6 0 0 -0.7 1.6 0 0 -3.9 1.6 0 0 3.3 1.6 0 0 -6.1 1.6 0 0 0.4 1.6 0 0 3.7 1.6 0 0 -3.4 1.6 0 0 -2.7 1.6 0 0 5.8 1.6 0 0 -3.1 1.6 0 0 0.4 1.6 0 0 0.7 1.6 0 0 -0.2 1.6 0 0 0.6 1.6 0 0 -3.9 1.6 0 0 2.7 1.6 0 0 -1.7 1.6 0 0 -4.5 1.6 0 0 4.4 1.6 0 0 -0.1 1.6 0 0 -5.3 1.6 0 0 2.7 1.6 0 0 -0.2 1.6 0 0 2.1 1.6 0 0 -3.2 1.6 0 0 1.6 1.6 0 0 -1.4 1.6 0 0 0.8 1.6 0 0 1.4 1.6 0 0 -5.9 1.6 0 0 1.4 1.6 0 0 -2.7 1.6 0 0 5 1.6 0 0 -0.1 1.6 0 0 0.5 1.6 0 0 -1.2 1.6 0 0 -0.4 1.6 0 0 0.6 1.6 0 0 -0.7 1.6 0 0 -0.4 1.6 0 0 -4.7 1.6 0 0 3.2 1.6 0 0 -3.3 1.6 0 0 4.9 1.6 0 0 -0.8 1.6 0 0 -6.1 1.6 0 0 6.2 1.6 0 0 -0.3 1.6 0 0 -2.8 1.6 0 0 1.3 1.6 0 0 0.3 1.6 0 0 -3 1.6 0 0 -0.2 1.6 0 0 2.6 1.6 0 0 -2.5 1.6 0 0 0.4 1.6 0 0 -3.4 1.6 0 0 5.2 1.6 0 0 -0.9 1.6 0 0 -2.5 1.6 0 0 3 1.6 0 0 -5.7 1.6 0 0 -1.3 1.6 0 0 5.1 1.6 0 0 -3.6 1.6 0 0 3.7 1.6 0 0 -5.6 1.6 0 0 5.5 1.6 0 0 0.7 1.6 0 0 -0.3 1.6 0 0 -2.3 1.6 0 0 2.2 1.6 0 0 -6.9 1.6 0 0 3 1.6 0 0 0.4 1.6 0 0 -0.6 1.6 0 0 1.5 1.6 0 0 -3.9 1.6 0 0 1.4 1.6 0 0 2.1 1.6 0 0 0.9 1.6 0 0 0.6 1.6 0 0 -1 1.6 0 0 -0.4 1.6 0 0 1.4 1.6 0 0 -6.2 1.6 0 0 5.1 1.6 0 0 -2 1.6 0 0 2.7 1.6 0 0 -3 1.6 0 0 -0.8 1.6 0 0 3.4 1.6 0 0 -6.6 1.6 0 0 6.1 1.6 0 0 -0.7 1.6 0 0 -3.6 1.6 0 0 2.9 1.6 0 0 -4.4 1.6 0 0 4.8 1.6 0 0 -0.6 1.6 0 0 -2.9 1.6 0 0 -1.6 1.6 0 0 -0.4 1.6 0 0 4.5 1.6 0 0 -1.8 1.6 0 0 0.8 1.6 0 0 -2.2 1.6 0 0 3 1.6 0 0 -4.7 1.6 0 0 1 1.6 0 0 3.6 1.6 0 0 -0.9 1.6 0 0 -0.3 1.6 0 0 -5 1.6 0 0 3.9 1.6 0 0 -1.4 1.6 0 0 -2.9 1.6 0 0 4.3 1.6 0 0 -4.8 1.6 0 0 5.1 1.6 0 0 1.1 1.6 0 0 -0.4 1.6 0 0 -4.1 1.6 0 0 2.3 1.6 0 0 -3.8 1.6 0 0 -9.6 1.6 0 0 102.3 1.6 0 0 116.7 1.6 0 0 -0.5 1.6 0 0 -0.1 1.6 0 0 2.1 1.6 0 0 -0.3 1.6 0 0 -1.9 1.6 0 0 -0.4 1.6 0 0 3.5 1.6 0 0 1.1 1.6 0 0 -3.8 1.6 0 0 2.4 1.6 0 0 -3.2 1.6 0 0 1.4 1.6 0 0 2.2 1.6 0 0 -2.7 1.6 0 0 1.8 1.6 0 0 -0.9 1.6 0 0 -1.1 1.6 0 0 1.9 1.6 0 0 -2.3 1.6 0 0 3.2 1.6 0 0 0.1 1.6 0 0 -1.4 1.6 0 0 1.3 1.6 0 0 -1.7 1.6 0 0 1 1.6 0 0 -1.2 1.6 0 0 -0.5 1.6 0 0 1.5 1.6 0 0 -2.1 1.6 0 0 0.9 1.6 0 0 -0.5 1.6 0 0 4 1.6 0 0 0 1.6 0 0 -2.6 1.6 0 0 1.5 1.6 0 0 -3 1.6 0 0 2.8 1.6 0 0 -2 1.6 0 0 2.6 1.6 0 0 -1.9 1.6 0 0 -1.7 1.6 0 0 0.2 1.6 0 0 2.9 1.6 0 0 -0.6 1.6 0 0 -0.3 1.6 0 0 1 1.6 0 0 -0.7 1.6 0 0 -3 1.6 0 0 0.6 1.6 0 0 3.2 1.6 0 0 -1.9 1.6 0 0 -1.7 1.6 0 0 3.4 1.6 0 0 -2.8 1.6 0 0 0.4 1.6 0 0 -0.6 1.6 0 0 4 1.6 0 0 -4.3 1.6 0 0 -0.4 1.6 0 0 4.2 1.6 0 0 -1.9 1.6 0 0 2.4 1.6 0 0 -2.3 1.6 0 0 -0.6 1.6 0 0 -0.2 1.6 0 0 -0.7 1.6 0 0 3.1 1.6 0 0 0.7 1.6 0 0 -3.6 1.6 0 0 3.8 1.6 0 0 -0.7 1.6 0 0 0 1.6 0 0 -2.8 1.6 0 0 1.9 1.6 0 0 -2.3 1.6 0 0 1.1 1.6 0 0 -1.1 1.6 0 0 0.3 1.6 0 0 -0.6 1.6 0 0 3.4 1.6 0 0 -0.4 1.6 0 0 -1.4 1.6 0 0 0.3 1.6 0 0 -1.2 1.6 0 0 -0.2 1.6 0 0 2.8 1.6 0 0 0.6 1.6 0 0 -3 1.6 0 0 0.3 1.6 0 0 2.2 1.6 0 0 0.7 1.6 0 0 0.1 1.6 0 0 -0.7 1.6 0 0 -0.1 1.6 0 0 0.2 1.6 0 0 0.5 1.6 0 0 -0.3 1.6 0 0 -0.7 1.6 0 0 0.9 1.6 0 0 -0.3 1.6 0 0 -1.1 1.6 0 0 -2.4 1.6 0 0 -0.1 1.6 0 0 2.7 1.6 0 0 1.1 1.6 0 0 -0.5 1.6 0 0 -2.1 1.6 0 0 1.5 1.6 0 0 -0.9 1.6 0 0 -1 1.6 0 0 0.5 1.6 0 0 -1.2 1.6 0 0 13.8 -1.6 0 0 0.5 -1.6 0 0 -2.1 -1.6 0 0 1.9 -1.6 0 0 0.1 -1.6 0 0 -2.5 -1.6 0 0 3.1 -1.6 0 0 -1 -1.6 0 0 0.7 -1.6 0 0 -4.3 -1.6 0 0 1.2 -1.6 0 0 1.6 -1.6 0 0 -0.4 -1.6 0 0 0.8 -1.6 0 0 -3.1 -1.6 0 0 3 -1.6 0 0 -1 -1.6 0 0 0 -1.6 0 0 0.4 -1.6 0 0 -0.9 -1.6 0 0 0.4 -1.6 0 0 -2 -1.6 0 0 2 -1.6 0 0 -1.1 -1.6 0 0 1.7 -1.6 0 0 -1.9 -1.6 0 0 1.5 -1.6 0 0 2 -1.6 0 0 -2.3 -1.6 0 0 -0.6 -1.6 0 0 -0.2 -1.6 0 0 -1.1 -1.6 0 0 4.6 -1.6 0 0 -0.9 -1.6 0 0 -2.3 -1.6 0 0 1 -1.6 0 0 -2.6 -1.6 0 0 0.1 -1.6 0 0 0.2 -1.6 0 0 3 -1.6 0 0 -1.2 -1.6 0 0 0.5 -1.6 0 0 0.5 -1.6 0 0 -1.3 -1.6 0 0 -1.2 -1.6 0 0 2 -1.6 0 0 1 -1.6 0 0 -2.2 -1.6 0 0 1.1 -1.6 0 0 0.7 -1.6 0 0 -2.7 -1.6 0 0 4.3 -1.6 0 0 0 -1.6 0 0 -3.8 -1.6 0 0 -0.8 -1.6 0 0 4.8 -1.6 0 0 -4.9 -1.6 0 0 4.9 -1.6 0 0 -2.4 -1.6 0 0 -2.5 -1.6 0 0 1.7 -1.6 0 0 1.6 -1.6 0 0 -2.6 -1.6 0 0 0.6 -1.6 0 0 0.4 -1.6 0 0 1.1 -1.6 0 0 0.8 -1.6 0 0 -3 -1.6 0 0 -0.7 -1.6 0 0 0.1 -1.6 0 0 1.4 -1.6 0 0 -0.8 -1.6 0 0 3.7 -1.6 0 0 -2 -1.6 0 0 -1.1 -1.6 0 0 -0.4 -1.6 0 0 2.6 -1.6 0 0 0.8 -1.6 0 0 -0.4 -1.6 0 0 -3.5 -1.6 0 0 1.2 -1.6 0 0 1.8 -1.6 0 0 1.2 -1.6 0 0 -2.5 -1.6 0 0 -1.6 -1.6 0 0 0.6 -1.6 0 0 -0.2 -1.6 0 0 3.5 -1.6 0 0 -0.4 -1.6 0 0 -0.5 -1.6 0 0 -0.8 -1.6 0 0 -2.3 -1.6 0 0 0 -1.6 0 0 0.6 -1.6 0 0 1.3 -1.6 0 0 1.6 -1.6 0 0 0.9 -1.6 0 0 0 -1.6 0 0 -2 -1.6 0 0 -0.7 -1.6 0 0 1.4 -1.6 0 0 -1.9 -1.6 0 0 -1.6 -1.6 0 0 3.3 -1.6 0 0 0.9 -1.6 0 0 -2.4 -1.6 0 0 -0.7 -1.6 0 0 -1.3 -1.6 0 0 3.1 -1.6 0 0 1.3 -1.6 0 0 -1.8 -1.6 0 0 -3.7 -1.6 0 0 -0.4 -1.6 0 0 3.7 -1.6 0 0 1 -1.6 0 0 -205.1 -1.6 0 0 -1.4 -1.6 0 0 6.2 -1.6 0 0 -1.9 -1.6 0 0 -3.5 -1.6 0 0 0.4 -1.6 0 0 1.1 -1.6 0 0 5 -1.6 0 0 -2.2 -1.6 0 0 -2.3 -1.6 0 0 -0.6 -1.6 0 0 3.2 -1.6 0 0 -2.3 -1.6 0 0 2.6 -1.6 0 0 -3.6 -1.6 0 0 4.5 -1.6 0 0 -3.4 -1.6 0 0 4.3 -1.6 0 0 -0.8 -1.6 0 0 0.2 -1.6 0 0 1.7 -1.6 0 0 -4.9 -1.6 0 0 0.7 -1.6 0 0 1.1 -1.6 0 0 3.8 -1.6 0 0 -5 -1.6 0 0 -0.2 -1.6 0 0 1.1 -1.6 0 0 0.8 -1.6 0 0 2.3 -1.6 0 0 -2.5 -1.6 0 0 2.3 -1.6 0 0 -2.8 -1.6 0 0 -0.2 -1.6 0 0 -0.6 -1.6 0 0 1.4 -1.6 0 0 0.5 -1.6 0 0 -0.1 -1.6 0 0 -0.3 -1.6 0 0 -1 -1.6 0 0 6.6 -1.6 0 0 -5.2 -1.6 0 0 3.1 -1.6 0 0 -2 -1.6 0 0 -1.9 -1.6 0 0 1.1 -1.6 0 0 3.8 -1.6 0 0 -4.2 -1.6 0 0 6 -1.6 0 0 -2.1 -1.6 0 0 -3.5 -1.6 0 0 5.7 -1.6 0 0 -4.8 -1.6 0 0 5.2 -1.6 0 0 -3.6 -1.6 0 0 0.6 -1.6 0 0 0.5 -1.6 0 0 1.1 -1.6 0 0 -4.3 -1.6 0 0 1.3 -1.6 0 0 3.2 -1.6 0 0 0 -1.6 0 0 -0.8 -1.6 0 0 0.8 -1.6 0 0 -1.2 -1.6 0 0 -0.8 -1.6 0 0 5.1 -1.6 0 0 -4.8 -1.6 0 0 5.3 -1.6 0 0 -3.7 -1.6 0 0 3.4 -1.6 0 0 -4.3 -1.6 0 0 5.8 -1.6 0 0 -5.6 -1.6 0 0 4.3 -1.6 0 0 -3.9 -1.6 0 0 1.4 -1.6 0 0 3.6 -1.6 0 0 -4.6 -1.6 0 0 -0.1 -1.6 0 0 6.1 -1.6 0 0 -4.2 -1.6 0 0 3.2 -1.6 0 0 -4 -1.6 0 0 0.1 -1.6 0 0 0.3 -1.6 0 0 3.9 -1.6 0 0 -1.4 -1.6 0 0 3.7 -1.6 0 0 -0.5 -1.6 0 0 0.7 -1.6 0 0 -2.9 -1.6 0 0 4.4 -1.6 0 0 -2.4 -1.6 0 0 0.1 -1.6 0 0 2.4 -1.6 0 0 1.5 -1.6 0 0 -0.4 -1.6 0 0 -5.2 -1.6 0 0 6.3 -1.6 0 0 -4.6 -1.6 0 0 1.7 -1.6 0 0 2.3 -1.6 0 0 -2.5 -1.6 0 0 4.1 -1.6 0 0 -3.7 -1.6 0 0 1.9 -1.6 0 0 -1.6 -1.6 0 0 2.6 -1.6 0 0 -2.2 -1.6 0 0 3.7 -1.6 0 0 1.4 -1.6 0 0 -5.6 -1.6 0 0 7.1 -1.6 0 0 -5.2 -1.6 0 0 1.2 -1.6 0 0 -0.8 -1.6 0 0 6.2 -1.6 0 0 -1.6 -1.6 0 0 -2.9 -1.6 0 0 0.4 -1.6 0 0 3.1 -1.6 0 0 0.5 -1.6 0 0 -0.3 -1.6 0 0 -1.2 -1.6 0 0 -0.9 -1.6 0 0 1 -1.6 0 0 -0.1 -1.6 0 0 2.9 -1.6 0 0 0.7 -1.6 0 0 2.4 -1.6 0 0 -4.8 -1.6 0 0 6 -1.6 0 0 -0.4 -1.6 0 0 -4 -1.6 0 0 6.4 -1.6 0 0 -5 -1.6 0 0 4 -1.6 0 0 -1.6 -1.6 0 0 3.2 -1.6 0 0 -3.2 -1.6 0 0 3 -1.6 0 0 1.8 -1.6 0 0 1.7 -1.6 0 0 1.1 -1.6 0 0 -2.1 -1.6 0 0 -0.7 -1.6 0 0 4.7 -1.6 0 0 -3.6 -1.6 0 0 -1.7 -1.6 0 0 1.2 -1.6 0 0 1.8 -1.6 0 0 3.6 -1.6 0 0 0.3 -1.6 0 0 0.4 -1.6 0 0 -0.1 -1.6 0 0 -3.1 -1.6 0 0 1.7 -1.6 0 0 -0.2 -1.6 0 0 4.6 -1.6 0 0 -3.2 -1.6 0 0 6.2 -1.6 0 0 0.9 -1.6 0 0 -4.2 -1.6 0 0 0.6 -1.6 0 0 2.5 -1.6 0 0 -1.1 -1.6 0 0 4.9 -1.6 0 0 -3.9 -1.6 0 0 6.6 -1.6 0 0 -4.9 -1.6 0 0 1.1 -1.6 0 0 5.2 -1.6 0 0 -3.9 -1.6 0 0 1 -1.6 0 0 6.2 -1.6 0 0 -4.1 -1.6 0 0 2.2 -1.6 0 0 4.3 -1.6 0 0 -0.3 -1.6 0 0 8.7 -1.6 0 0 -3.1 -1.6 0 0 0.9 -1.6 0 0 3 -1.6 0 0 3.7 -1.6 0 0 7.2 -1.6 0 0 9.4 -1.6 0 0 29.5 -1.6 0 0 76.1 -1.6 0 0 6.5 -1.6 0 0 -2 -1.6 0 0 0.5 -1.6 0 0 -0.5 -1.6 0 0 4.1 -1.6 0 0 -4.7 -1.6 0 0 0 -1.6 0 0 2.5 -1.6 0 0 -0.6 -1.6 0 0 0 -1.6 0 0 -0.5 -1.6 0 0 1.2 -1.6 0 0 -1.9 -1.6 0 0 3 -1.6 0 0 -3.2 -1.6 0 0 4.1 -1.6 0 0 -3.6 -1.6 0 0 1.4 -1.6 0 0 -1.2 -1.6 0 0 0.7 -1.6 0 0 -1.9 -1.6 0 0 3.7 -1.6 0 0 0.6 -1.6 0 0 -4.3 -1.6 0 0 1 -1.6 0 0 -0.4 -1.6 0 0 4.2 -1.6 0 0 -4.7 -1.6 0 0 3.5 -1.6 0 0 -2.8 -1.6 0 0 0.6 -1.6 0 0 -1.1 -1.6 0 0 1.9 -1.6 0 0 -0.7 -1.6 0 0 -0.8 -1.6 0 0 3.4 -1.6 0 0 0.7 -1.6 0 0 -4 -1.6 0 0 0.6 -1.6 0 0 2 -1.6 0 0 -3 -1.6 0 0 -0.2 -1.6 0 0 1.1 -1.6 0 0 -0.1 -1.6 0 0 1.8 -1.6 0 0 -1.9 -1.6 0 0 3.4 -1.6 0 0 -3.3 -1.6 0 0 -0.8 -1.6 0 0 -0.1 -1.6 0 0 1.3 -1.6 0 0 -1.6 -1.6 0 0 0.6 -1.6 0 0 1.8 -1.6 0 0 -0.5 -1.6 0 0 -2 -1.6 0 0 0.9 -1.6 0 0 -0.7 -1.6 0z" fill="#4e4e4e"/>
<path d="M930.1 475.6l1.6 0 0 -0.1 1.6 0 0 -1.1 1.6 0 0 -0.7 1.6 0 0 -0.7 1.6 0 0 0.6 1.6 0 0 -2 1.6 0 0 0.5 1.6 0 0 3.5 1.6 0 0 -0.9 1.6 0 0 -3.1 1.6 0 0 0.8 1.6 0 0 3.4 1.6 0 0 -2.6 1.6 0 0 2.3 1.6 0 0 -1.6 1.6 0 0 -3.1 1.6 0 0 4.9 1.6 0 0 -3.7 1.6 0 0 2 1.6 0 0 -3.1 1.6 0 0 0.9 1.6 0 0 3.9 1.6 0 0 -2.6 1.6 0 0 -1.4 1.6 0 0 3.3 1.6 0 0 -2.3 1.6 0 0 2.4 1.6 0 0 0.2 1.6 0 0 -0.6 1.6 0 0 0.2 1.6 0 0 -3.8 1.6 0 0 4 1.6 0 0 -0.8 1.6 0 0 -0.3 1.6 0 0 -1.2 1.6 0 0 -1.8 1.6 0 0 2.3 1.6 0 0 -1.6 1.6 0 0 3.8 1.6 0 0 -2.5 1.6 0 0 2.4 1.6 0 0 -3.7 1.6 0 0 1.7 1.6 0 0 2.1 1.6 0 0 -3.7 1.6 0 0 2 1.6 0 0 0.2 1.6 0 0 1.7 1.6 0 0 -4.3 1.6 0 0 2.4 1.6 0 0 -2.1 1.6 0 0 4 1.6 0 0 -2.8 1.6 0 0 1.6 1.6 0 0 -0.8 1.6 0 0 -0.5 1.6 0 0 -189.6 1.6 0 0 -30.4 1.6 0 0 -21.1 1.6 0 0 -27.4 1.6 0 0 -9.9 1.6 0 0 -10.4 1.6 0 0 -9.6 1.6 0 0 -6.6 1.6 0 0 -9.3 1.6 0 0 -3.1 1.6 0 0 -3 1.6 0 0 -7.1 1.6 0 0 -5.1 1.6 0 0 -0.7 1.6 0 0 -2.7 1.6 0 0 -3.9 1.6 0 0 2.7 1.6 0 0 -7.2 1.6 0 0 5 1.6 0 0 -0.7 1.6 0 0 -6.3 1.6 0 0 3.6 1.6 0 0 -2 1.6 0 0 -2.2 1.6 0 0 1.4 1.6 0 0 -2.7 1.6 0 0 -0.3 1.6 0 0 0.8 1.6 0 0 -3.8 1.6 0 0 0.6 1.6 0 0 1.2 1.6 0 0 -4.9 1.6 0 0 2.6 1.6 0 0 1.5 1.6 0 0 -6.2 1.6 0 0 3.4 1.6 0 0 1.3 1.6 0 0 -1.4 1.6 0 0 -0.2 1.6 0 0 0.5 1.6 0 0 -1.8 1.6 0 0 0.5 1.6 0 0 -0.7 1.6 0 0 -3.6 1.6 0 0 3.1 1.6 0 0 0 1.6 0 0 -1.1 1.6 0 0 -1.1 1.6 0 0 0.2 1.6 0 0 -3.4 1.6 0 0 -3 1.6 0 0 -0.1 1.6 0 0 2.4 1.6 0 0 -3.1 1.6 0 0 -0.5 1.6 0 0 1 1.6 0 0 -1.8 1.6 0 0 3 1.6 0 0 -3.1 1.6 0 0 1.5 1.6 0 0 -2 1.6 0 0 -0.3 1.6 0 0 4.1 1.6 0 0 -5.5 1.6 0 0 5.1 1.6 0 0 -2.4 1.6 0 0 -1.4 1.6 0 0 -2.3 1.6 0 0 5 1.6 0 0 -4.1 1.6 0 0 2.2 1.6 0 0 1.3 1.6 0 0 -1.5 1.6 0 0 -2.5 1.6 0 0 3.4 1.6 0 0 -5.4 1.6 0 0 5.4 1.6 0 0 -1 1.6 0 0 -0.6 1.6 0 0 1.3 1.6 0 0 -6.1 1.6 0 0 -0.4 1.6 0 0 0.6 1.6 0 0 5.3 1.6 0 0 -4.7 1.6 0 0 3.9 1.6 0 0 0.3 1.6 0 0 -2.9 1.6 0 0 3.9 1.6 0 0 0.2 1.6 0 0 -6.3 1.6 0 0 4.7 1.6 0 0 -3.5 1.6 0 0 3 1.6 0 0 1.8 1.6 0 0 -2.2 1.6 0 0 1.9 1.6 0 0 0.3 1.6 0 0 0.2 1.6 0 0 -1.9 1.6 0 0 0.9 1.6 0 0 -0.5 1.6 0 0 -5.1 1.6 0 0 1.2 1.6 0 0 1.1 1.6 0 0 3.3 1.6 0 0 -3.7 1.6 0 0 0.4 1.6 0 0 1.4 1.6 0 0 1.9 1.6 0 0 0.2 1.6 0 0 -1.3 1.6 0 0 0.9 1.6 0 0 -4.8 1.6 0 0 3.5 1.6 0 0 -1.6 1.6 0 0 -2 1.6 0 0 2.5 1.6 0 0 3 1.6 0 0 -0.8 1.6 0 0 -4.8 1.6 0 0 6.2 1.6 0 0 -0.7 1.6 0 0 -2.7 1.6 0 0 -2 1.6 0 0 0.3 1.6 0 0 0.9 1.6 0 0 0.3 1.6 0 0 2.5 1.6 0 0 1.7 1.6 0 0 -3.5 1.6 0 0 3.6 1.6 0 0 -4.9 1.6 0 0 4.7 1.6 0 0 0.5 1.6 0 0 -6.9 1.6 0 0 6.4 1.6 0 0 -2.6 1.6 0 0 3.2 1.6 0 0 -6.6 1.6 0 0 6.8 1.6 0 0 -4 1.6 0 0 -1.4 1.6 0 0 4.3 1.6 0 0 1.4 1.6 0 0 0 1.6 0 0 -0.1 1.6 0 0 -4.5 1.6 0 0 1.9 1.6 0 0 -3 1.6 0 0 2.3 1.6 0 0 0.4 1.6 0 0 2.7 1.6 0 0 0 1.6 0 0 -5.9 1.6 0 0 0.3 1.6 0 0 4.5 1.6 0 0 -2.9 1.6 0 0 0.8 1.6 0 0 3.3 1.6 0 0 0.5 1.6 0 0 -3.8 1.6 0 0 -1.9 1.6 0 0 -0.2 1.6 0 0 5.3 1.6 0 0 1.6 1.6 0 0 -1.2 1.6 0 0 1.3 1.6 0 0 -6.6 1.6 0 0 5.6 1.6 0 0 -4.1 1.6 0 0 4.6 1.6 0 0 -5.5 1.6 0 0 4.1 1.6 0 0 -2.8 1.6 0 0 2.1 1.6 0 0 -1.3 1.6 0 0 4.7 1.6 0 0 0.1 1.6 0 0 -1.4 1.6 0 0 -4.1 1.6 0 0 -0.2 1.6 0 0 1.9 1.6 0 0 1 1.6 0 0 3.4 1.6 0 0 -6.1 1.6 0 0 2.5 1.6 0 0 0.4 1.6 0 0 -1.8 1.6 0 0 4.7 1.6 0 0 -22.1 1.6 0 0 173.9 1.6 0 0 206.9 1.6 0 0 3.9 1.6 0 0 -2.5 1.6 0 0 -0.8 1.6 0 0 2.1 1.6 0 0 2.3 1.6 0 0 -3.8 1.6 0 0 4.3 1.6 0 0 -0.3 1.6 0 0 -3.4 1.6 0 0 1.7 1.6 0 0 1.3 1.6 0 0 -2.5 1.6 0 0 0.9 1.6 0 0 2.5 1.6 0 0 -0.4 1.6 0 0 -3 1.6 0 0 0 1.6 0 0 3.6 1.6 0 0 -1.9 1.6 0 0 -1.1 1.6 0 0 2.1 1.6 0 0 0.9 1.6 0 0 -1.4 1.6 0 0 -3.1 1.6 0 0 1.4 1.6 0 0 2.6 1.6 0 0 -3.3 1.6 0 0 1.1 1.6 0 0 1.9 1.6 0 0 0.1 1.6 0 0 0.4 1.6 0 0 -1 1.6 0 0 0.2 1.6 0 0 0.3 1.6 0 0 -3.2 1.6 0 0 0.7 1.6 0 0 1.5 1.6 0 0 -2.8 1.6 0 0 1.8 1.6 0 0 -1.8 1.6 0 0 0.9 1.6 0 0 1.2 1.6 0 0 -0.4 1.6 0 0 -0.5 1.6 0 0 0.1 1.6 0 0 -0.7 1.6 0 0 3 1.6 0 0 -0.1 1.6 0 0 0.5 1.6 0 0 -3.8 1.6 0 0 0.2 1.6 0 0 2.7 1.6 0 0 0.2 1.6 0 0 1.1 1.6 0 0 -4.5 1.6 0 0 1.9 1.6 0 0 -1.8 1.6 0 0 2.1 1.6 0 0 0.6 1.6 0 0 -1.3 1.6 0 0 -0.9 1.6 0 0 0.3 1.6 0 0 2.8 1.6 0 0 -0.8 1.6 0 0 -2.7 1.6 0 0 2.7 1.6 0 0 -1.8 1.6 0 0 1.7 1.6 0 0 -1.9 1.6 0 0 3.8 1.6 0 0 0.1 1.6 0 0 -0.2 1.6 0 0 -1.4 1.6 0 0 0.4 1.6 0 0 -3.5 1.6 0 0 -0.3 1.6 0 0 4.7 1.6 0 0 -3.6 1.6 0 0 2 1.6 0 0 -2 1.6 0 0 2.7 1.6 0 0 -2.3 1.6 0 0 3.5 1.6 0 0 -1.7 1.6 0 0 0.6 1.6 0 0 0.4 1.6 0 0 -0.2 1.6 0 0 -0.6 1.6 0 0 -0.4 1.6 0 0 -0.1 1.6 0 0 -1.2 1.6 0 0 -0.6 1.6 0 0 -0.9 1.6 0 0 1.9 1.6 0 0 2.1 1.6 0 0 -1.6 1.6 0 0 0.7 1.6 0 0 0.9 1.6 0 0 -0.4 1.6 0 0 0.5 1.6 0 0 -1.5 1.6 0 0 2 1.6 0 0 -2 1.6 0 0 0.7 1.6 0 0 1.4 1.6 0 0 -0.8 1.6 0 0 -4 1.6 0 0 2.5 1.6 0 0 2.2 1.6 0 0 -2.2 1.6 0 0 -0.8 1.6 0 0 2.8 1.6 0 0 9.5 -1.6 0 0 -2.1 -1.6 0 0 -1.1 -1.6 0 0 2.1 -1.6 0 0 2.4 -1.6 0 0 -4 -1.6 0 0 1.6 -1.6 0 0 0.5 -1.6 0 0 -0.2 -1.6 0 0 -2.4 -1.6 0 0 4.8 -1.6 0 0 -0.4 -1.6 0 0 0 -1.6 0 0 -4 -1.6 0 0 1 -1.6 0 0 2.7 -1.6 0 0 -1.6 -1.6 0 0 -1.2 -1.6 0 0 -1.3 -1.6 0 0 0.2 -1.6 0 0 -0.2 -1.6 0 0 0.4 -1.6 0 0 -0.2 -1.6 0 0 2.6 -1.6 0 0 1.7 -1.6 0 0 -1.6 -1.6 0 0 -0.9 -1.6 0 0 2.4 -1.6 0 0 -0.5 -1.6 0 0 0.5 -1.6 0 0 -3.6 -1.6 0 0 -0.5 -1.6 0 0 3.8 -1.6 0 0 -2.3 -1.6 0 0 1.5 -1.6 0 0 -3.2 -1.6 0 0 2.5 -1.6 0 0 2.1 -1.6 0 0 -1.3 -1.6 0 0 -3 -1.6 0 0 2.6 -1.6 0 0 -2.5 -1.6 0 0 3.3 -1.6 0 0 -3.5 -1.6 0 0 -0.2 -1.6 0 0 1.7 -1.6 0 0 1.2 -1.6 0 0 0.2 -1.6 0 0 1.5 -1.6 0 0 -1.8 -1.6 0 0 1.9 -1.6 0 0 -0.8 -1.6 0 0 -3.1 -1.6 0 0 3.1 -1.6 0 0 -2.1 -1.6 0 0 2.3 -1.6 0 0 -0.5 -1.6 0 0 -3.1 -1.6 0 0 1.1 -1.6 0 0 -0.3 -1.6 0 0 0.2 -1.6 0 0 0.1 -1.6 0 0 2.2 -1.6 0 0 0.8 -1.6 0 0 0.1 -1.6 0 0 -4.7 -1.6 0 0 3.3 -1.6 0 0 -2.2 -1.6 0 0 0.6 -1.6 0 0 1 -1.6 0 0 -0.9 -1.6 0 0 1.8 -1.6 0 0 -1.4 -1.6 0 0 0.6 -1.6 0 0 1.1 -1.6 0 0 -2.2 -1.6 0 0 1.7 -1.6 0 0 -2.8 -1.6 0 0 -0.7 -1.6 0 0 1.4 -1.6 0 0 -0.2 -1.6 0 0 2 -1.6 0 0 1.5 -1.6 0 0 -0.7 -1.6 0 0 -2.4 -1.6 0 0 0.3 -1.6 0 0 3.1 -1.6 0 0 -2.9 -1.6 0 0 0.9 -1.6 0 0 2 -1.6 0 0 -2.8 -1.6 0 0 -0.9 -1.6 0 0 1.5 -1.6 0 0 -2.5 -1.6 0 0 1.3 -1.6 0 0 3.2 -1.6 0 0 -4.3 -1.6 0 0 -0.4 -1.6 0 0 0.2 -1.6 0 0 3 -1.6 0 0 -3.1 -1.6 0 0 -0.2 -1.6 0 0 1.1 -1.6 0 0 3.4 -1.6 0 0 -3.1 -1.6 0 0 -0.2 -1.6 0 0 0 -1.6 0 0 -1.6 -1.6 0 0 3 -1.6 0 0 -3.3 -1.6 0 0 4.1 -1.6 0 0 -4.1 -1.6 0 0 3.3 -1.6 0 0 -0.9 -1.6 0 0 1.3 -1.6 0 0 -358.6 -1.6 0 0 1.6 -1.6 0 0 0.4 -1.6 0 0 -0.8 -1.6 0 0 4.2 -1.6 0 0 -3.3 -1.6 0 0 -2 -1.6 0 0 -0.1 -1.6 0 0 4.5 -1.6 0 0 -5.4 -1.6 0 0 4.1 -1.6 0 0 -4.6 -1.6 0 0 1.5 -1.6 0 0 1.4 -1.6 0 0 -0.6 -1.6 0 0 -1 -1.6 0 0 -0.1 -1.6 0 0 3.5 -1.6 0 0 -4.1 -1.6 0 0 0.6 -1.6 0 0 -1.1 -1.6 0 0 -0.1 -1.6 0 0 5 -1.6 0 0 -1.5 -1.6 0 0 -1 -1.6 0 0 -2.1 -1.6 0 0 -1.1 -1.6 0 0 2.7 -1.6 0 0 -1.3 -1.6 0 0 4.5 -1.6 0 0 -6.8 -1.6 0 0 0.9 -1.6 0 0 -0.6 -1.6 0 0 2.5 -1.6 0 0 -3.4 -1.6 0 0 3.5 -1.6 0 0 1 -1.6 0 0 -4.5 -1.6 0 0 0.2 -1.6 0 0 3.2 -1.6 0 0 2.2 -1.6 0 0 -4.8 -1.6 0 0 -1.2 -1.6 0 0 0.2 -1.6 0 0 -0.3 -1.6 0 0 6.3 -1.6 0 0 -1.1 -1.6 0 0 -0.7 -1.6 0 0 -4.3 -1.6 0 0 4.9 -1.6 0 0 -5 -1.6 0 0 0.7 -1.6 0 0 1.3 -1.6 0 0 -3 -1.6 0 0 5.3 -1.6 0 0 -3.5 -1.6 0 0 1.6 -1.6 0 0 -2.8 -1.6 0 0 0.1 -1.6 0 0 3.5 -1.6 0 0 -0.7 -1.6 0 0 -2.4 -1.6 0 0 1.2 -1.6 0 0 0.3 -1.6 0 0 -1.4 -1.6 0 0 -1.2 -1.6 0 0 -0.6 -1.6 0 0 1.6 -1.6 0 0 -0.8 -1.6 0 0 -0.5 -1.6 0 0 5.8 -1.6 0 0 -6.1 -1.6 0 0 0.8 -1.6 0 0 -0.1 -1.6 0 0 1.2 -1.6 0 0 -1.4 -1.6 0 0 1.1 -1.6 0 0 -1.1 -1.6 0 0 3.7 -1.6 0 0 -4.5 -1.6 0 0 2.9 -1.6 0 0 3.5 -1.6 0 0 -5.5 -1.6 0 0 1.8 -1.6 0 0 -1.8 -1.6 0 0 3.1 -1.6 0 0 -4 -1.6 0 0 0.1 -1.6 0 0 0.6 -1.6 0 0 -0.9 -1.6 0 0 0.2 -1.6 0 0 4.5 -1.6 0 0 1.7 -1.6 0 0 -3.7 -1.6 0 0 -2.5 -1.6 0 0 0.7 -1.6 0 0 -0.1 -1.6 0 0 2.6 -1.6 0 0 1.4 -1.6 0 0 -4.2 -1.6 0 0 4.3 -1.6 0 0 -0.7 -1.6 0 0 -1.1 -1.6 0 0 -0.3 -1.6 0 0 2 -1.6 0 0 1.3 -1.6 0 0 -5.9 -1.6 0 0 -0.5 -1.6 0 0 0.5 -1.6 0 0 1.8 -1.6 0 0 1 -1.6 0 0 0.5 -1.6 0 0 0.8 -1.6 0 0 -2.8 -1.6 0 0 -1.6 -1.6 0 0 0.5 -1.6 0 0 -0.3 -1.6 0 0 0.9 -1.6 0 0 -0.3 -1.6 0 0 0 -1.6 0 0 1.7 -1.6 0 0 0.1 -1.6 0 0 -1.2 -1.6 0 0 0.4 -1.6 0 0 4.6 -1.6 0 0 -0.5 -1.6 0 0 -3.1 -1.6 0 0 0.1 -1.6 0 0 5.3 -1.6 0 0 -1.2 -1.6 0 0 1 -1.6 0 0 -4 -1.6 0 0 2.6 -1.6 0 0 -0.7 -1.6 0 0 3.2 -1.6 0 0 1.9 -1.6 0 0 0.6 -1.6 0 0 -2 -1.6 0 0 3.3 -1.6 0 0 -2.3 -1.6 0 0 2.3 -1.6 0 0 -1.9 -1.6 0 0 1.3 -1.6 0 0 1 -1.6 0 0 -1.6 -1.6 0 0 1.9 -1.6 0 0 -2.8 -1.6 0 0 5.1 -1.6 0 0 -4.2 -1.6 0 0 1.1 -1.6 0 0 1.1 -1.6 0 0 0.4 -1.6 0 0 0.3 -1.6 0 0 1.8 -1.6 0 0 -1.4 -1.6 0 0 2.7 -1.6 0 0 3.8 -1.6 0 0 0.4 -1.6 0 0 -2.6 -1.6 0 0 -2.3 -1.6 0 0 6.4 -1.6 0 0 -5.2 -1.6 0 0 2.4 -1.6 0 0 5.1 -1.6 0 0 -4.5 -1.6 0 0 5.4 -1.6 0 0 -2.7 -1.6 0 0 -0.9 -1.6 0 0 5 -1.6 0 0 -2.7 -1.6 0 0 5 -1.6 0 0 -2.6 -1.6 0 0 5.3 -1.6 0 0 -1.6 -1.6 0 0 8.1 -1.6 0 0 1.1 -1.6 0 0 0 -1.6 0 0 6.9 -1.6 0 0 4.9 -1.6 0 0 -1.7 -1.6 0 0 11.6 -1.6 0 0 -0.8 -1.6 0 0 11.9 -1.6 0 0 5.6 -1.6 0 0 12.9 -1.6 0 0 15.1 -1.6 0 0 20.1 -1.6 0 0 20 -1.6 0 0 158.9 -1.6 0 0 58 -1.6 0 0 -0.2 -1.6 0 0 -0.9 -1.6 0 0 1.9 -1.6 0 0 -2.5 -1.6 0 0 2 -1.6 0 0 1.1 -1.6 0 0 -3.4 -1.6 0 0 2.7 -1.6 0 0 -2.8 -1.6 0 0 1.5 -1.6 0 0 -1.3 -1.6 0 0 3.1 -1.6 0 0 -2.3 -1.6 0 0 -0.9 -1.6 0 0 0.2 -1.6 0 0 -0.2 -1.6 0 0 3.1 -1.6 0 0 1.3 -1.6 0 0 -0.9 -1.6 0 0 -3.4 -1.6 0 0 4 -1.6 0 0 -2.1 -1.6 0 0 0.4 -1.6 0 0 -2.3 -1.6 0 0 0.2 -1.6 0 0 0.5 -1.6 0 0 3 -1.6 0 0 -2.7 -1.6 0 0 1.7 -1.6 0 0 -1.3 -1.6 0 0 2.9 -1.6 0 0 0.4 -1.6 0 0 -3.9 -1.6 0 0 -1 -1.6 0 0 3.7 -1.6 0 0 -3.6 -1.6 0 0 4 -1.6 0 0 0.5 -1.6 0 0 -4.4 -1.6 0 0 0.1 -1.6 0 0 1.6 -1.6 0 0 -1.3 -1.6 0 0 0.8 -1.6 0 0 -1.5 -1.6 0 0 2.9 -1.6 0 0 0.5 -1.6 0 0 0.3 -1.6 0 0 -1.7 -1.6 0 0 -1.9 -1.6 0 0 2.4 -1.6 0 0 -2.2 -1.6 0 0 0 -1.6 0 0 0.4 -1.6 0 0 3.1 -1.6 0 0 -1.7 -1.6 0 0 -1.5 -1.6 0 0 0.8 -1.6 0z" fill="#ad72a6"/>
<path d="M930.1 475.3l1.6 0 0 -3 1.6 0 0 2.9 1.6 0 0 -0.9 1.6 0 0 0.6 1.6 0 0 0.6 1.6 0 0 -3.9 1.6 0 0 3.1 1.6 0 0 -2.3 1.6 0 0 -0.9 1.6 0 0 3.4 1.6 0 0 0.9 1.6 0 0 -2 1.6 0 0 1.3 1.6 0 0 -3.4 1.6 0 0 3.7 1.6 0 0 -2.8 1.6 0 0 3.2 1.6 0 0 -0.8 1.6 0 0 0.3 1.6 0 0 -3.5 1.6 0 0 1.6 1.6 0 0 -0.4 1.6 0 0 2.6 1.6 0 0 -0.8 1.6 0 0 -3.3 1.6 0 0 1.8 1.6 0 0 -0.9 1.6 0 0 1.5 1.6 0 0 1.4 1.6 0 0 -3.9 1.6 0 0 3.6 1.6 0 0 0.4 1.6 0 0 -2.3 1.6 0 0 2.5 1.6 0 0 -3.2 1.6 0 0 0.3 1.6 0 0 1.8 1.6 0 0 -0.7 1.6 0 0 0.2 1.6 0 0 1.7 1.6 0 0 0 1.6 0 0 -1.1 1.6 0 0 1.2 1.6 0 0 -0.5 1.6 0 0 -0.7 1.6 0 0 -1.4 1.6 0 0 0.6 1.6 0 0 1.6 1.6 0 0 -3 1.6 0 0 -0.2 1.6 0 0 0.8 1.6 0 0 -0.2 1.6 0 0 2.3 1.6 0 0 -3.2 1.6 0 0 1.5 1.6 0 0 2 1.6 0 0 -203.9 1.6 0 0 -49.6 1.6 0 0 -43.1 1.6 0 0 -18.8 1.6 0 0 -14.9 1.6 0 0 -8.9 1.6 0 0 -6.2 1.6 0 0 -2.4 1.6 0 0 -5.1 1.6 0 0 -9.1 1.6 0 0 2.1 1.6 0 0 -4.1 1.6 0 0 1.1 1.6 0 0 -4.9 1.6 0 0 -2.2 1.6 0 0 -3.2 1.6 0 0 -3.6 1.6 0 0 2.7 1.6 0 0 -0.5 1.6 0 0 -0.5 1.6 0 0 -2.3 1.6 0 0 -2 1.6 0 0 -5.6 1.6 0 0 2.8 1.6 0 0 -2.3 1.6 0 0 -1.5 1.6 0 0 3.7 1.6 0 0 -1.7 1.6 0 0 -2.8 1.6 0 0 2.1 1.6 0 0 -1.1 1.6 0 0 -4.8 1.6 0 0 0 1.6 0 0 3.1 1.6 0 0 -0.4 1.6 0 0 -5.5 1.6 0 0 2.8 1.6 0 0 0.8 1.6 0 0 -3.3 1.6 0 0 0.2 1.6 0 0 -3.2 1.6 0 0 6.5 1.6 0 0 -4.8 1.6 0 0 2.3 1.6 0 0 1.2 1.6 0 0 -1.8 1.6 0 0 2.4 1.6 0 0 -0.5 1.6 0 0 0 1.6 0 0 -4 1.6 0 0 -0.3 1.6 0 0 3.3 1.6 0 0 -0.5 1.6 0 0 -3.6 1.6 0 0 3 1.6 0 0 0.2 1.6 0 0 -4.9 1.6 0 0 3.5 1.6 0 0 0.1 1.6 0 0 -0.6 1.6 0 0 3.4 1.6 0 0 -1.8 1.6 0 0 -3.1 1.6 0 0 1.2 1.6 0 0 -2.1 1.6 0 0 4.6 1.6 0 0 -1.1 1.6 0 0 1.5 1.6 0 0 0.3 1.6 0 0 0.4 1.6 0 0 -0.4 1.6 0 0 0.2 1.6 0 0 -1.7 1.6 0 0 0.3 1.6 0 0 -2.8 1.6 0 0 -0.1 1.6 0 0 2 1.6 0 0 -0.9 1.6 0 0 1.5 1.6 0 0 1.1 1.6 0 0 -1.3 1.6 0 0 -1 1.6 0 0 -2.8 1.6 0 0 1.3 1.6 0 0 5.2 1.6 0 0 -3.6 1.6 0 0 3.6 1.6 0 0 -3.3 1.6 0 0 -2 1.6 0 0 1.4 1.6 0 0 4 1.6 0 0 -1.7 1.6 0 0 1.4 1.6 0 0 -3.1 1.6 0 0 -0.4 1.6 0 0 -0.1 1.6 0 0 3 1.6 0 0 -1.7 1.6 0 0 2.7 1.6 0 0 -5.5 1.6 0 0 0 1.6 0 0 6.4 1.6 0 0 -3 1.6 0 0 -1.2 1.6 0 0 3.6 1.6 0 0 0.9 1.6 0 0 0.2 1.6 0 0 -4.3 1.6 0 0 4.4 1.6 0 0 -1.7 1.6 0 0 -3.2 1.6 0 0 5 1.6 0 0 -4.1 1.6 0 0 2.2 1.6 0 0 0.4 1.6 0 0 -0.6 1.6 0 0 1 1.6 0 0 -4 1.6 0 0 1.8 1.6 0 0 2.2 1.6 0 0 1.6 1.6 0 0 -2.3 1.6 0 0 -4.2 1.6 0 0 1.1 1.6 0 0 5.9 1.6 0 0 -1.4 1.6 0 0 -0.7 1.6 0 0 0.5 1.6 0 0 1.8 1.6 0 0 -0.3 1.6 0 0 -2.2 1.6 0 0 -1.4 1.6 0 0 0.1 1.6 0 0 0.5 1.6 0 0 0.1 1.6 0 0 4.1 1.6 0 0 -0.8 1.6 0 0 -0.6 1.6 0 0 0.6 1.6 0 0 -0.8 1.6 0 0 0 1.6 0 0 0.5 1.6 0 0 1.6 1.6 0 0 -5.6 1.6 0 0 -0.8 1.6 0 0 3.1 1.6 0 0 2.5 1.6 0 0 -1 1.6 0 0 -3.8 1.6 0 0 2.8 1.6 0 0 -0.7 1.6 0 0 0 1.6 0 0 -2.5 1.6 0 0 3.1 1.6 0 0 3.6 1.6 0 0 -2.3 1.6 0 0 -3.5 1.6 0 0 6 1.6 0 0 0.4 1.6 0 0 0 1.6 0 0 0.1 1.6 0 0 -0.3 1.6 0 0 -4.3 1.6 0 0 1.6 1.6 0 0 -1.1 1.6 0 0 1.6 1.6 0 0 1.5 1.6 0 0 -3.3 1.6 0 0 4.5 1.6 0 0 -1 1.6 0 0 -0.3 1.6 0 0 -2 1.6 0 0 -0.6 1.6 0 0 1.7 1.6 0 0 -0.3 1.6 0 0 2.4 1.6 0 0 -2.1 1.6 0 0 -2.1 1.6 0 0 3.4 1.6 0 0 -2.4 1.6 0 0 2 1.6 0 0 0 1.6 0 0 -0.6 1.6 0 0 3.1 1.6 0 0 -0.4 1.6 0 0 0.3 1.6 0 0 -2.2 1.6 0 0 -1 1.6 0 0 -0.3 1.6 0 0 3.7 1.6 0 0 -0.7 1.6 0 0 162.6 1.6 0 0 216.5 1.6 0 0 2 1.6 0 0 1.2 1.6 0 0 0.6 1.6 0 0 -3.8 1.6 0 0 3.1 1.6 0 0 -3 1.6 0 0 4 1.6 0 0 0.5 1.6 0 0 -2.5 1.6 0 0 -1.2 1.6 0 0 4 1.6 0 0 -3.6 1.6 0 0 1.7 1.6 0 0 -2 1.6 0 0 -0.2 1.6 0 0 3.1 1.6 0 0 -3.1 1.6 0 0 4.1 1.6 0 0 -1.1 1.6 0 0 0 1.6 0 0 0.9 1.6 0 0 -1.1 1.6 0 0 -1.6 1.6 0 0 3.2 1.6 0 0 -1.6 1.6 0 0 -0.2 1.6 0 0 1.5 1.6 0 0 -2.2 1.6 0 0 2 1.6 0 0 -1.6 1.6 0 0 0 1.6 0 0 -1 1.6 0 0 -1.3 1.6 0 0 0.1 1.6 0 0 2.6 1.6 0 0 1.1 1.6 0 0 0.1 1.6 0 0 -2.9 1.6 0 0 0.2 1.6 0 0 -0.2 1.6 0 0 -0.3 1.6 0 0 1.7 1.6 0 0 -2.1 1.6 0 0 1.5 1.6 0 0 0.2 1.6 0 0 -1.3 1.6 0 0 1.2 1.6 0 0 -0.8 1.6 0 0 -1 1.6 0 0 3.1 1.6 0 0 -1.9 1.6 0 0 2.4 1.6 0 0 -0.9 1.6 0 0 -2.3 1.6 0 0 -0.7 1.6 0 0 0.2 1.6 0 0 1.2 1.6 0 0 -0.6 1.6 0 0 -0.2 1.6 0 0 1.7 1.6 0 0 1.8 1.6 0 0 0.7 1.6 0 0 -3.4 1.6 0 0 0 1.6 0 0 0.2 1.6 0 0 0.9 1.6 0 0 -0.5 1.6 0 0 -0.3 1.6 0 0 1 1.6 0 0 -0.7 1.6 0 0 2.2 1.6 0 0 -1.5 1.6 0 0 -0.5 1.6 0 0 0.3 1.6 0 0 1.6 1.6 0 0 0.4 1.6 0 0 -2.5 1.6 0 0 2.6 1.6 0 0 -3.4 1.6 0 0 3.1 1.6 0 0 -3 1.6 0 0 2.3 1.6 0 0 -3.1 1.6 0 0 3.7 1.6 0 0 0.2 1.6 0 0 -2.5 1.6 0 0 -0.6 1.6 0 0 2.4 1.6 0 0 -0.6 1.6 0 0 -1.1 1.6 0 0 1.9 1.6 0 0 -0.4 1.6 0 0 -1 1.6 0 0 1.4 1.6 0 0 0.6 1.6 0 0 -4.1 1.6 0 0 4.1 1.6 0 0 -4.6 1.6 0 0 1 1.6 0 0 2.3 1.6 0 0 -2.5 1.6 0 0 4 1.6 0 0 -2.1 1.6 0 0 1 1.6 0 0 0.3 1.6 0 0 -3.4 1.6 0 0 4.2 1.6 0 0 -4 1.6 0 0 4 1.6 0 0 -2.8 1.6 0 0 2 1.6 0 0 -1.1 1.6 0 0 8.6 -1.6 0 0 2.1 -1.6 0 0 -0.9 -1.6 0 0 1.5 -1.6 0 0 -1.3 -1.6 0 0 -0.1 -1.6 0 0 -0.7 -1.6 0 0 2 -1.6 0 0 -3.2 -1.6 0 0 3.3 -1.6 0 0 0.8 -1.6 0 0 -3.9 -1.6 0 0 4.2 -1.6 0 0 -2.7 -1.6 0 0 0.8 -1.6 0 0 -0.8 -1.6 0 0 0.8 -1.6 0 0 -0.5 -1.6 0 0 0.8 -1.6 0 0 -0.1 -1.6 0 0 -1.6 -1.6 0 0 2.5 -1.6 0 0 -1.6 -1.6 0 0 -0.6 -1.6 0 0 -1.4 -1.6 0 0 1.6 -1.6 0 0 -1.3 -1.6 0 0 2.7 -1.6 0 0 1.7 -1.6 0 0 -3.5 -1.6 0 0 3.7 -1.6 0 0 -1.1 -1.6 0 0 -2.1 -1.6 0 0 -0.4 -1.6 0 0 3.2 -1.6 0 0 0.4 -1.6 0 0 -1.7 -1.6 0 0 -3.1 -1.6 0 0 0.2 -1.6 0 0 1.9 -1.6 0 0 -0.8 -1.6 0 0 -0.9 -1.6 0 0 0.7 -1.6 0 0 3.5 -1.6 0 0 -1.8 -1.6 0 0 -0.7 -1.6 0 0 1.5 -1.6 0 0 -2.1 -1.6 0 0 -0.9 -1.6 0 0 -0.6 -1.6 0 0 4.6 -1.6 0 0 -4 -1.6 0 0 2.4 -1.6 0 0 0.3 -1.6 0 0 -2.4 -1.6 0 0 -0.4 -1.6 0 0 0.9 -1.6 0 0 1.3 -1.6 0 0 -0.6 -1.6 0 0 -1.5 -1.6 0 0 -0.7 -1.6 0 0 2.9 -1.6 0 0 -0.6 -1.6 0 0 0.7 -1.6 0 0 -2 -1.6 0 0 -0.7 -1.6 0 0 -0.3 -1.6 0 0 2 -1.6 0 0 2.8 -1.6 0 0 -2.6 -1.6 0 0 1.3 -1.6 0 0 1.1 -1.6 0 0 -3.9 -1.6 0 0 4.2 -1.6 0 0 -1.1 -1.6 0 0 -1.4 -1.6 0 0 0.6 -1.6 0 0 -2.5 -1.6 0 0 0.2 -1.6 0 0 0.2 -1.6 0 0 -0.5 -1.6 0 0 1 -1.6 0 0 -1.4 -1.6 0 0 1.1 -1.6 0 0 2.6 -1.6 0 0 -0.9 -1.6 0 0 1.2 -1.6 0 0 -1.3 -1.6 0 0 -2.5 -1.6 0 0 0.7 -1.6 0 0 -0.8 -1.6 0 0 2.3 -1.6 0 0 0.1 -1.6 0 0 -0.2 -1.6 0 0 2.1 -1.6 0 0 -4.4 -1.6 0 0 1.7 -1.6 0 0 2.3 -1.6 0 0 -1.6 -1.6 0 0 0.7 -1.6 0 0 -0.1 -1.6 0 0 -2.3 -1.6 0 0 1.9 -1.6 0 0 -0.9 -1.6 0 0 2.8 -1.6 0 0 -4 -1.6 0 0 3.6 -1.6 0 0 -2 -1.6 0 0 -1.5 -1.6 0 0 2.5 -1.6 0 0 -3.3 -1.6 0 0 0.6 -1.6 0 0 -1.7 -1.6 0 0 1.2 -1.6 0 0 8.7 -1.6 0 0 -374.5 -1.6 0 0 0.2 -1.6 0 0 0.7 -1.6 0 0 5 -1.6 0 0 -5.5 -1.6 0 0 0 -1.6 0 0 4.2 -1.6 0 0 -5.7 -1.6 0 0 5.8 -1.6 0 0 -4.1 -1.6 0 0 -1.2 -1.6 0 0 5.3 -1.6 0 0 -3.5 -1.6 0 0 -0.3 -1.6 0 0 -3 -1.6 0 0 4.3 -1.6 0 0 -0.6 -1.6 0 0 -3.7 -1.6 0 0 4 -1.6 0 0 -3.6 -1.6 0 0 1.3 -1.6 0 0 1.9 -1.6 0 0 -3.1 -1.6 0 0 -1.2 -1.6 0 0 -0.2 -1.6 0 0 4.4 -1.6 0 0 0.7 -1.6 0 0 -5.9 -1.6 0 0 3.3 -1.6 0 0 -1.2 -1.6 0 0 -1 -1.6 0 0 1.4 -1.6 0 0 -0.1 -1.6 0 0 -1.7 -1.6 0 0 3.1 -1.6 0 0 -4.6 -1.6 0 0 4.4 -1.6 0 0 -4.9 -1.6 0 0 5.2 -1.6 0 0 -5.5 -1.6 0 0 0 -1.6 0 0 5.6 -1.6 0 0 -4.2 -1.6 0 0 0.8 -1.6 0 0 2.3 -1.6 0 0 -5.6 -1.6 0 0 2.8 -1.6 0 0 1.3 -1.6 0 0 -4.8 -1.6 0 0 3.5 -1.6 0 0 1 -1.6 0 0 -5 -1.6 0 0 5.5 -1.6 0 0 -5.7 -1.6 0 0 5.2 -1.6 0 0 -5.6 -1.6 0 0 4.1 -1.6 0 0 1.1 -1.6 0 0 -0.7 -1.6 0 0 -1.5 -1.6 0 0 0 -1.6 0 0 -1.2 -1.6 0 0 3.2 -1.6 0 0 -5.7 -1.6 0 0 0.4 -1.6 0 0 5.5 -1.6 0 0 -3.5 -1.6 0 0 0.3 -1.6 0 0 -1.9 -1.6 0 0 4.8 -1.6 0 0 -6.1 -1.6 0 0 1.1 -1.6 0 0 0.3 -1.6 0 0 0.3 -1.6 0 0 1.6 -1.6 0 0 -1.8 -1.6 0 0 -3 -1.6 0 0 6 -1.6 0 0 -6.3 -1.6 0 0 5 -1.6 0 0 -4.5 -1.6 0 0 -0.4 -1.6 0 0 -0.7 -1.6 0 0 5.3 -1.6 0 0 -4.7 -1.6 0 0 -1.2 -1.6 0 0 5.8 -1.6 0 0 -5.8 -1.6 0 0 -0.2 -1.6 0 0 1.2 -1.6 0 0 2.4 -1.6 0 0 -3.7 -1.6 0 0 3.6 -1.6 0 0 -2.8 -1.6 0 0 -0.5 -1.6 0 0 0.4 -1.6 0 0 -0.8 -1.6 0 0 0.6 -1.6 0 0 -0.9 -1.6 0 0 3.1 -1.6 0 0 -4.1 -1.6 0 0 0.6 -1.6 0 0 -0.6 -1.6 0 0 0.2 -1.6 0 0 3.2 -1.6 0 0 -3.4 -1.6 0 0 1.4 -1.6 0 0 -2 -1.6 0 0 5.5 -1.6 0 0 0.2 -1.6 0 0 -3 -1.6 0 0 -2.9 -1.6 0 0 5.9 -1.6 0 0 -5.2 -1.6 0 0 -0.1 -1.6 0 0 4.8 -1.6 0 0 -6 -1.6 0 0 -0.2 -1.6 0 0 -0.5 -1.6 0 0 2.4 -1.6 0 0 3.5 -1.6 0 0 -3.9 -1.6 0 0 1.4 -1.6 0 0 -3.3 -1.6 0 0 2.2 -1.6 0 0 3.3 -1.6 0 0 -4.5 -1.6 0 0 -1.7 -1.6 0 0 3.1 -1.6 0 0 0.2 -1.6 0 0 -2.9 -1.6 0 0 1.9 -1.6 0 0 2.7 -1.6 0 0 1.2 -1.6 0 0 -2.9 -1.6 0 0 -1.9 -1.6 0 0 5.1 -1.6 0 0 -5.6 -1.6 0 0 4.8 -1.6 0 0 -5 -1.6 0 0 4 -1.6 0 0 -0.5 -1.6 0 0 -2.9 -1.6 0 0 4.6 -1.6 0 0 -3 -1.6 0 0 -1.8 -1.6 0 0 3.6 -1.6 0 0 -1.8 -1.6 0 0 2.2 -1.6 0 0 1 -1.6 0 0 -0.1 -1.6 0 0 2.9 -1.6 0 0 -3.3 -1.6 0 0 -1.9 -1.6 0 0 -0.2 -1.6 0 0 3.3 -1.6 0 0 2.7 -1.6 0 0 -1.2 -1.6 0 0 -2.4 -1.6 0 0 4.9 -1.6 0 0 -3.6 -1.6 0 0 0.7 -1.6 0 0 5.7 -1.6 0 0 -2.4 -1.6 0 0 0.9 -1.6 0 0 6.1 -1.6 0 0 -3.7 -1.6 0 0 -0.5 -1.6 0 0 2.6 -1.6 0 0 0.4 -1.6 0 0 4.3 -1.6 0 0 3.3 -1.6 0 0 -3.3 -1.6 0 0 4.9 -1.6 0 0 2.3 -1.6 0 0 1.1 -1.6 0 0 5.4 -1.6 0 0 -3.3 -1.6 0 0 5.8 -1.6 0 0 4.7 -1.6 0 0 2.8 -1.6 0 0 3.9 -1.6 0 0 -0.3 -1.6 0 0 11.4 -1.6 0 0 7.8 -1.6 0 0 12.8 -1.6 0 0 14.2 -1.6 0 0 41.1 -1.6 0 0 191.7 -1.6 0 0 57.7 -1.6 0 0 1.7 -1.6 0 0 -4.1 -1.6 0 0 0.2 -1.6 0 0 3.2 -1.6 0 0 -0.6 -1.6 0 0 -0.2 -1.6 0 0 -2.4 -1.6 0 0 0.8 -1.6 0 0 1.2 -1.6 0 0 1.5 -1.6 0 0 -0.8 -1.6 0 0 -1.8 -1.6 0 0 1.8 -1.6 0 0 -2.9 -1.6 0 0 0.7 -1.6 0 0 -0.2 -1.6 0 0 0.4 -1.6 0 0 1.2 -1.6 0 0 -2 -1.6 0 0 4.2 -1.6 0 0 0.3 -1.6 0 0 -4.7 -1.6 0 0 1.7 -1.6 0 0 -0.2 -1.6 0 0 -1.3 -1.6 0 0 2.5 -1.6 0 0 1.8 -1.6 0 0 -2.9 -1.6 0 0 -1 -1.6 0 0 1 -1.6 0 0 2.2 -1.6 0 0 -2.6 -1.6 0 0 0.2 -1.6 0 0 0 -1.6 0 0 0.6 -1.6 0 0 -0.1 -1.6 0 0 2.5 -1.6 0 0 -3.2 -1.6 0 0 2 -1.6 0 0 -0.3 -1.6 0 0 -2.3 -1.6 0 0 -0.6 -1.6 0 0 0.7 -1.6 0 0 1.3 -1.6 0 0 1.9 -1.6 0 0 -3.3 -1.6 0 0 -0.1 -1.6 0 0 4.2 -1.6 0 0 -0.8 -1.6 0 0 0.2 -1.6 0 0 -4.1 -1.6 0 0 3.1 -1.6 0 0 -1.3 -1.6 0 0 -0.9 -1.6 0 0 -0.7 -1.6 0 0 3.4 -1.6 0 0 0.9 -1.6 0z" fill="#da5a27"/>
<path d="M930.1 475.7l1.6 0 0 -2.7 1.6 0 0 -2.1 1.6 0 0 4.8 1.6 0 0 -4.3 1.6 0 0 3.1 1.6 0 0 -1.5 1.6 0 0 2 1.6 0 0 -2.2 1.6 0 0 1.4 1.6 0 0 -2 1.6 0 0 2.8 1.6 0 0 -0.3 1.6 0 0 -1.5 1.6 0 0 2.4 1.6 0 0 -4.6 1.6 0 0 2.3 1.6 0 0 -2.3 1.6 0 0 4.4 1.6 0 0 -2.7 1.6 0 0 2.6 1.6 0 0 0.3 1.6 0 0 -1.4 1.6 0 0 -0.1 1.6 0 0 -0.5 1.6 0 0 0.5 1.6 0 0 1.2 1.6 0 0 -2.4 1.6 0 0 2.1 1.6 0 0 -0.1 1.6 0 0 -2.6 1.6 0 0 0.6 1.6 0 0 -0.3 1.6 0 0 -1.3 1.6 0 0 0.5 1.6 0 0 3.4 1.6 0 0 -4.2 1.6 0 0 2.8 1.6 0 0 -0.2 1.6 0 0 1.4 1.6 0 0 -0.5 1.6 0 0 -0.9 1.6 0 0 2.2 1.6 0 0 -3.2 1.6 0 0 2.1 1.6 0 0 -1.9 1.6 0 0 -0.2 1.6 0 0 0.6 1.6 0 0 2.5 1.6 0 0 -2.1 1.6 0 0 1 1.6 0 0 -1.9 1.6 0 0 0 1.6 0 0 1.2 1.6 0 0 -1.3 1.6 0 0 2.9 1.6 0 0 -3.5 1.6 0 0 -183.9 1.6 0 0 -25.7 1.6 0 0 -21.5 1.6 0 0 -10.4 1.6 0 0 -17.6 1.6 0 0 -7.7 1.6 0 0 -6.6 1.6 0 0 -9.7 1.6 0 0 -8.9 1.6 0 0 -4 1.6 0 0 -6 1.6 0 0 1.4 1.6 0 0 -10.1 1.6 0 0 -2.7 1.6 0 0 0.8 1.6 0 0 -6.3 1.6 0 0 3.1 1.6 0 0 -3.2 1.6 0 0 -0.3 1.6 0 0 -4.5 1.6 0 0 -3.2 1.6 0 0 -0.9 1.6 0 0 5.4 1.6 0 0 -5.4 1.6 0 0 1.1 1.6 0 0 1.6 1.6 0 0 -5.7 1.6 0 0 2.6 1.6 0 0 2.2 1.6 0 0 -2.4 1.6 0 0 -3 1.6 0 0 -2.2 1.6 0 0 4.1 1.6 0 0 -3.3 1.6 0 0 2.4 1.6 0 0 -6.5 1.6 0 0 5.7 1.6 0 0 -7.2 1.6 0 0 3.1 1.6 0 0 -2 1.6 0 0 0.3 1.6 0 0 1 1.6 0 0 0.1 1.6 0 0 1.1 1.6 0 0 -0.7 1.6 0 0 0.7 1.6 0 0 -1.1 1.6 0 0 -3 1.6 0 0 0.5 1.6 0 0 -0.3 1.6 0 0 0 1.6 0 0 -3.8 1.6 0 0 0.7 1.6 0 0 4.4 1.6 0 0 -2.2 1.6 0 0 -3.7 1.6 0 0 5.6 1.6 0 0 -3.2 1.6 0 0 0.5 1.6 0 0 -0.2 1.6 0 0 0.9 1.6 0 0 -1.5 1.6 0 0 2.8 1.6 0 0 -4.6 1.6 0 0 3.3 1.6 0 0 1.6 1.6 0 0 -2.2 1.6 0 0 -0.4 1.6 0 0 -2.1 1.6 0 0 2.6 1.6 0 0 0.9 1.6 0 0 1.2 1.6 0 0 -0.5 1.6 0 0 0.9 1.6 0 0 -2.3 1.6 0 0 -2.1 1.6 0 0 2.3 1.6 0 0 2.7 1.6 0 0 0.7 1.6 0 0 -5.8 1.6 0 0 4.6 1.6 0 0 -2.8 1.6 0 0 -2.3 1.6 0 0 0.1 1.6 0 0 3.3 1.6 0 0 -3 1.6 0 0 4.2 1.6 0 0 -4.4 1.6 0 0 2.3 1.6 0 0 3.9 1.6 0 0 -5 1.6 0 0 4.7 1.6 0 0 -6.4 1.6 0 0 6.9 1.6 0 0 -4.6 1.6 0 0 4.3 1.6 0 0 -2.4 1.6 0 0 1.2 1.6 0 0 -4 1.6 0 0 4.7 1.6 0 0 -3.3 1.6 0 0 -1.9 1.6 0 0 6.3 1.6 0 0 -4.2 1.6 0 0 4.2 1.6 0 0 -4.7 1.6 0 0 -0.7 1.6 0 0 5.3 1.6 0 0 -5.4 1.6 0 0 3.7 1.6 0 0 0.9 1.6 0 0 -5.3 1.6 0 0 4.9 1.6 0 0 1.1 1.6 0 0 -0.7 1.6 0 0 -4.5 1.6 0 0 -0.8 1.6 0 0 4.6 1.6 0 0 -0.2 1.6 0 0 -0.8 1.6 0 0 -2 1.6 0 0 5.5 1.6 0 0 -5 1.6 0 0 -1.6 1.6 0 0 4.8 1.6 0 0 -0.2 1.6 0 0 -4.4 1.6 0 0 4.7 1.6 0 0 0.2 1.6 0 0 -3.8 1.6 0 0 3.2 1.6 0 0 -1.3 1.6 0 0 2.7 1.6 0 0 -2.9 1.6 0 0 2.4 1.6 0 0 -3.2 1.6 0 0 2.4 1.6 0 0 -3.5 1.6 0 0 3.2 1.6 0 0 -2.6 1.6 0 0 3.5 1.6 0 0 -1.8 1.6 0 0 2.9 1.6 0 0 -2.2 1.6 0 0 -0.5 1.6 0 0 3.2 1.6 0 0 -2.2 1.6 0 0 -3.3 1.6 0 0 5.6 1.6 0 0 -1.8 1.6 0 0 -2.9 1.6 0 0 3.4 1.6 0 0 2 1.6 0 0 -2.7 1.6 0 0 0.5 1.6 0 0 -3.9 1.6 0 0 2.4 1.6 0 0 -1 1.6 0 0 3.2 1.6 0 0 -4.2 1.6 0 0 0.6 1.6 0 0 5.2 1.6 0 0 -3.7 1.6 0 0 -2.1 1.6 0 0 2.2 1.6 0 0 -2.8 1.6 0 0 5.7 1.6 0 0 -2.3 1.6 0 0 0.5 1.6 0 0 1.6 1.6 0 0 -3.7 1.6 0 0 2.9 1.6 0 0 -1.7 1.6 0 0 -1.1 1.6 0 0 0.5 1.6 0 0 4.2 1.6 0 0 0.2 1.6 0 0 -5.2 1.6 0 0 1.5 1.6 0 0 3.4 1.6 0 0 0.1 1.6 0 0 -2.2 1.6 0 0 2 1.6 0 0 -5.7 1.6 0 0 5.5 1.6 0 0 -5.6 1.6 0 0 2.1 1.6 0 0 1.3 1.6 0 0 -0.9 1.6 0 0 -0.1 1.6 0 0 0.8 1.6 0 0 144.5 1.6 0 0 193 1.6 0 0 0.8 1.6 0 0 -4 1.6 0 0 1 1.6 0 0 0.9 1.6 0 0 3.4 1.6 0 0 -2.3 1.6 0 0 -0.4 1.6 0 0 1.7 1.6 0 0 0.3 1.6 0 0 -1.9 1.6 0 0 3.2 1.6 0 0 -1.7 1.6 0 0 1 1.6 0 0 -0.8 1.6 0 0 -0.6 1.6 0 0 0.7 1.6 0 0 -2.7 1.6 0 0 0 1.6 0 0 0.8 1.6 0 0 -0.2 1.6 0 0 1.7 1.6 0 0 1.1 1.6 0 0 -3 1.6 0 0 3.6 1.6 0 0 -2.2 1.6 0 0 -0.2 1.6 0 0 2.4 1.6 0 0 -0.3 1.6 0 0 -2.4 1.6 0 0 -1.1 1.6 0 0 2.7 1.6 0 0 -0.8 1.6 0 0 -1 1.6 0 0 0.8 1.6 0 0 0.6 1.6 0 0 -1 1.6 0 0 -0.4 1.6 0 0 -0.6 1.6 0 0 1.5 1.6 0 0 -0.6 1.6 0 0 2.3 1.6 0 0 0.1 1.6 0 0 -3.3 1.6 0 0 3.1 1.6 0 0 -1 1.6 0 0 -2.6 1.6 0 0 3.9 1.6 0 0 -2.6 1.6 0 0 2.2 1.6 0 0 -1.9 1.6 0 0 -1.2 1.6 0 0 0 1.6 0 0 0.3 1.6 0 0 1.5 1.6 0 0 -0.1 1.6 0 0 1.7 1.6 0 0 0.2 1.6 0 0 -3.1 1.6 0 0 3.2 1.6 0 0 -4.4 1.6 0 0 4 1.6 0 0 -2.7 1.6 0 0 1.6 1.6 0 0 -0.9 1.6 0 0 -0.9 1.6 0 0 2.5 1.6 0 0 -2.9 1.6 0 0 0.4 1.6 0 0 1.1 1.6 0 0 0 1.6 0 0 1 1.6 0 0 -3.5 1.6 0 0 3.5 1.6 0 0 0.6 1.6 0 0 -1.5 1.6 0 0 -2.3 1.6 0 0 0 1.6 0 0 2.2 1.6 0 0 1 1.6 0 0 -2 1.6 0 0 1.1 1.6 0 0 -1.6 1.6 0 0 -0.1 1.6 0 0 0.9 1.6 0 0 -1.8 1.6 0 0 2.1 1.6 0 0 -2.1 1.6 0 0 2.1 1.6 0 0 2.1 1.6 0 0 -2 1.6 0 0 -0.9 1.6 0 0 2 1.6 0 0 1.1 1.6 0 0 -0.8 1.6 0 0 -2.3 1.6 0 0 2.9 1.6 0 0 0.6 1.6 0 0 -4.2 1.6 0 0 -0.6 1.6 0 0 0.7 1.6 0 0 0.4 1.6 0 0 0.5 1.6 0 0 1 1.6 0 0 -0.5 1.6 0 0 -0.6 1.6 0 0 2.2 1.6 0 0 0.6 1.6 0 0 -2.5 1.6 0 0 0.5 1.6 0 0 -2.4 1.6 0 0 3.4 1.6 0 0 0 1.6 0 0 12.3 -1.6 0 0 -4.4 -1.6 0 0 0.6 -1.6 0 0 2.4 -1.6 0 0 -0.6 -1.6 0 0 -2.8 -1.6 0 0 0.7 -1.6 0 0 1.5 -1.6 0 0 -2 -1.6 0 0 2.5 -1.6 0 0 -2.6 -1.6 0 0 0.5 -1.6 0 0 4.1 -1.6 0 0 -3.3 -1.6 0 0 -0.8 -1.6 0 0 2 -1.6 0 0 0.5 -1.6 0 0 -2.9 -1.6 0 0 0 -1.6 0 0 -0.2 -1.6 0 0 4.1 -1.6 0 0 -4 -1.6 0 0 0 -1.6 0 0 2.2 -1.6 0 0 -1.8 -1.6 0 0 3.1 -1.6 0 0 1.2 -1.6 0 0 -0.6 -1.6 0 0 -3.1 -1.6 0 0 -0.9 -1.6 0 0 4.7 -1.6 0 0 -3.6 -1.6 0 0 1.7 -1.6 0 0 1.8 -1.6 0 0 -4.4 -1.6 0 0 0.4 -1.6 0 0 0.6 -1.6 0 0 -1.2 -1.6 0 0 0.3 -1.6 0 0 1.8 -1.6 0 0 -0.8 -1.6 0 0 1.3 -1.6 0 0 -1.2 -1.6 0 0 0.6 -1.6 0 0 2.5 -1.6 0 0 -1.1 -1.6 0 0 -2.5 -1.6 0 0 0 -1.6 0 0 0.2 -1.6 0 0 3.4 -1.6 0 0 -0.5 -1.6 0 0 -0.5 -1.6 0 0 -1.9 -1.6 0 0 -0.9 -1.6 0 0 2.3 -1.6 0 0 1.8 -1.6 0 0 -0.1 -1.6 0 0 -2.6 -1.6 0 0 -1.3 -1.6 0 0 1.6 -1.6 0 0 -0.7 -1.6 0 0 -1.1 -1.6 0 0 -0.8 -1.6 0 0 0.2 -1.6 0 0 3.2 -1.6 0 0 -2.6 -1.6 0 0 1.5 -1.6 0 0 1.2 -1.6 0 0 -3.1 -1.6 0 0 3.2 -1.6 0 0 -2.4 -1.6 0 0 1.4 -1.6 0 0 1.8 -1.6 0 0 -2.1 -1.6 0 0 0.1 -1.6 0 0 -0.8 -1.6 0 0 0.3 -1.6 0 0 -1.1 -1.6 0 0 1.8 -1.6 0 0 -2.2 -1.6 0 0 3.4 -1.6 0 0 -1.3 -1.6 0 0 0.8 -1.6 0 0 -2.8 -1.6 0 0 0.5 -1.6 0 0 0.9 -1.6 0 0 -1.6 -1.6 0 0 -0.1 -1.6 0 0 0 -1.6 0 0 1.1 -1.6 0 0 -0.9 -1.6 0 0 1 -1.6 0 0 1.9 -1.6 0 0 -1.8 -1.6 0 0 -0.9 -1.6 0 0 1.8 -1.6 0 0 2.2 -1.6 0 0 -2.3 -1.6 0 0 -0.2 -1.6 0 0 2.8 -1.6 0 0 -4.9 -1.6 0 0 3.1 -1.6 0 0 1.5 -1.6 0 0 -2.6 -1.6 0 0 -2 -1.6 0 0 2.5 -1.6 0 0 -2.2 -1.6 0 0 4 -1.6 0 0 -2.9 -1.6 0 0 0.4 -1.6 0 0 -2 -1.6 0 0 3.4 -1.6 0 0 -2.7 -1.6 0 0 -1.5 -1.6 0 0 5.6 -1.6 0 0 -329.1 -1.6 0 0 3.6 -1.6 0 0 1.5 -1.6 0 0 -5.6 -1.6 0 0 1.2 -1.6 0 0 -1.7 -1.6 0 0 1.1 -1.6 0 0 1.4 -1.6 0 0 2.3 -1.6 0 0 -1.4 -1.6 0 0 0.3 -1.6 0 0 -1.5 -1.6 0 0 2.5 -1.6 0 0 -5.3 -1.6 0 0 0 -1.6 0 0 0 -1.6 0 0 6.3 -1.6 0 0 -4.3 -1.6 0 0 -0.3 -1.6 0 0 2.7 -1.6 0 0 -0.6 -1.6 0 0 0.5 -1.6 0 0 -3.3 -1.6 0 0 -0.1 -1.6 0 0 -1.3 -1.6 0 0 0.4 -1.6 0 0 5.8 -1.6 0 0 -1.5 -1.6 0 0 -3.2 -1.6 0 0 -0.9 -1.6 0 0 0.2 -1.6 0 0 5.6 -1.6 0 0 -3.4 -1.6 0 0 -2.2 -1.6 0 0 0.1 -1.6 0 0 3.6 -1.6 0 0 -5 -1.6 0 0 2.7 -1.6 0 0 -2.7 -1.6 0 0 0.1 -1.6 0 0 3.7 -1.6 0 0 -3.4 -1.6 0 0 0.4 -1.6 0 0 -1 -1.6 0 0 -0.3 -1.6 0 0 4.9 -1.6 0 0 -1.9 -1.6 0 0 0.5 -1.6 0 0 -1.6 -1.6 0 0 3 -1.6 0 0 -4.8 -1.6 0 0 3.6 -1.6 0 0 0.4 -1.6 0 0 2.2 -1.6 0 0 -3.8 -1.6 0 0 -1.6 -1.6 0 0 0.3 -1.6 0 0 3 -1.6 0 0 -3.6 -1.6 0 0 1.6 -1.6 0 0 0.8 -1.6 0 0 0.2 -1.6 0 0 2.3 -1.6 0 0 -3.3 -1.6 0 0 -3.3 -1.6 0 0 2.6 -1.6 0 0 -2 -1.6 0 0 2.3 -1.6 0 0 -1.3 -1.6 0 0 4.3 -1.6 0 0 -5.6 -1.6 0 0 -0.5 -1.6 0 0 3.3 -1.6 0 0 -3.2 -1.6 0 0 6.1 -1.6 0 0 -2.3 -1.6 0 0 -0.6 -1.6 0 0 -0.7 -1.6 0 0 0.6 -1.6 0 0 0 -1.6 0 0 1.6 -1.6 0 0 -1.6 -1.6 0 0 0 -1.6 0 0 -0.7 -1.6 0 0 -2.4 -1.6 0 0 -1.1 -1.6 0 0 -0.2 -1.6 0 0 1.2 -1.6 0 0 4.1 -1.6 0 0 -2.4 -1.6 0 0 -1.9 -1.6 0 0 -1.2 -1.6 0 0 3 -1.6 0 0 -1.8 -1.6 0 0 2.1 -1.6 0 0 1.5 -1.6 0 0 -5.3 -1.6 0 0 0.7 -1.6 0 0 4.9 -1.6 0 0 -3.3 -1.6 0 0 1.6 -1.6 0 0 1.2 -1.6 0 0 -5.1 -1.6 0 0 -0.3 -1.6 0 0 5.8 -1.6 0 0 -4.9 -1.6 0 0 -0.9 -1.6 0 0 3.7 -1.6 0 0 -1.6 -1.6 0 0 -1.8 -1.6 0 0 2.4 -1.6 0 0 -2.1 -1.6 0 0 -1 -1.6 0 0 3.9 -1.6 0 0 2.4 -1.6 0 0 -5.3 -1.6 0 0 0 -1.6 0 0 2.7 -1.6 0 0 1.9 -1.6 0 0 -2.9 -1.6 0 0 -1.5 -1.6 0 0 4.8 -1.6 0 0 -1.7 -1.6 0 0 1.6 -1.6 0 0 -5.8 -1.6 0 0 5.7 -1.6 0 0 -2.1 -1.6 0 0 2 -1.6 0 0 -3.7 -1.6 0 0 2.7 -1.6 0 0 -0.5 -1.6 0 0 -3.9 -1.6 0 0 1.4 -1.6 0 0 2.9 -1.6 0 0 -2.4 -1.6 0 0 2.3 -1.6 0 0 -2.6 -1.6 0 0 2.6 -1.6 0 0 -4 -1.6 0 0 5.9 -1.6 0 0 -5.6 -1.6 0 0 2.7 -1.6 0 0 1.1 -1.6 0 0 -1.4 -1.6 0 0 1.1 -1.6 0 0 3 -1.6 0 0 -1.6 -1.6 0 0 -1.6 -1.6 0 0 2.1 -1.6 0 0 1.3 -1.6 0 0 -2.9 -1.6 0 0 1.4 -1.6 0 0 2.3 -1.6 0 0 -0.6 -1.6 0 0 -1.9 -1.6 0 0 1.2 -1.6 0 0 7 -1.6 0 0 -4.2 -1.6 0 0 -1.1 -1.6 0 0 6.2 -1.6 0 0 -5 -1.6 0 0 3.4 -1.6 0 0 -1.1 -1.6 0 0 0.7 -1.6 0 0 2.5 -1.6 0 0 -1.7 -1.6 0 0 0.8 -1.6 0 0 0.4 -1.6 0 0 2.8 -1.6 0 0 -0.1 -1.6 0 0 6.2 -1.6 0 0 -3.4 -1.6 0 0 1.7 -1.6 0 0 2 -1.6 0 0 2.4 -1.6 0 0 3.5 -1.6 0 0 1.9 -1.6 0 0 10.1 -1.6 0 0 0.3 -1.6 0 0 4.6 -1.6 0 0 3.1 -1.6 0 0 8 -1.6 0 0 7.6 -1.6 0 0 6.4 -1.6 0 0 16.5 -1.6 0 0 11.7 -1.6 0 0 14.8 -1.6 0 0 16.8 -1.6 0 0 146.8 -1.6 0 0 53.8 -1.6 0 0 -0.9 -1.6 0 0 2.4 -1.6 0 0 2.4 -1.6 0 0 -0.7 -1.6 0 0 -3.8 -1.6 0 0 2.3 -1.6 0 0 -1.8 -1.6 0 0 -0.8 -1.6 0 0 -0.1 -1.6 0 0 0.3 -1.6 0 0 -0.2 -1.6 0 0 1.3 -1.6 0 0 0.7 -1.6 0 0 -1.1 -1.6 0 0 -0.5 -1.6 0 0 -0.5 -1.6 0 0 0.2 -1.6 0 0 0.5 -1.6 0 0 0.6 -1.6 0 0 1.3 -1.6 0 0 2.2 -1.6 0 0 -4.1 -1.6 0 0 3.2 -1.6 0 0 -1.2 -1.6 0 0 1.8 -1.6 0 0 -3.6 -1.6 0 0 1 -1.6 0 0 2.1 -1.6 0 0 -2.3 -1.6 0 0 1.7 -1.6 0 0 -2.2 -1.6 0 0 0 -1.6 0 0 -0.3 -1.6 0 0 0.3 -1.6 0 0 -0.8 -1.6 0 0 0.3 -1.6 0 0 1.4 -1.6 0 0 0.6 -1.6 0 0 -2.6 -1.6 0 0 0.2 -1.6 0 0 2.1 -1.6 0 0 2.3 -1.6 0 0 -1.2 -1.6 0 0 -0.1 -1.6 0 0 -1.8 -1.6 0 0 -1.3 -1.6 0 0 3.9 -1.6 0 0 -4.1 -1.6 0 0 0.8 -1.6 0 0 2 -1.6 0 0 -2.5 -1.6 0 0 -0.2 -1.6 0 0 4.5 -1.6 0 0 -2.3 -1.6 0 0 -2.1 -1.6 0 0 -0.3 -1.6 0 0 0.3 -1.6 0z" fill="#f4a52f"/>
<path d="M930.1 475.1l1.6 0 0 0 1.6 0 0 -0.5 1.6 0 0 0.5 1.6 0 0 0 1.6 0 0 -3.8 1.6 0 0 4.3 1.6 0 0 -3.7 1.6 0 0 1.8 1.6 0 0 2.1 1.6 0 0 -0.4 1.6 0 0 -2.4 1.6 0 0 0.6 1.6 0 0 1.5 1.6 0 0 -0.2 1.6 0 0 -3.6 1.6 0 0 1.2 1.6 0 0 0.5 1.6 0 0 -1.7 1.6 0 0 3.9 1.6 0 0 -0.5 1.6 0 0 -2.8 1.6 0 0 2.3 1.6 0 0 0 1.6 0 0 -2.1 1.6 0 0 -1.3 1.6 0 0 0.8 1.6 0 0 0.7 1.6 0 0 1.9 1.6 0 0 -1.5 1.6 0 0 2.5 1.6 0 0 -0.1 1.6 0 0 0.2 1.6 0 0 -2.4 1.6 0 0 -1.7 1.6 0 0 1.2 1.6 0 0 2.6 1.6 0 0 -2 1.6 0 0 1.6 1.6 0 0 -2.6 1.6 0 0 2 1.6 0 0 1.1 1.6 0 0 -0.2 1.6 0 0 0.7 1.6 0 0 -1 1.6 0 0 0.1 1.6 0 0 -0.6 1.6 0 0 -1.1 1.6 0 0 -1.7 1.6 0 0 0.7 1.6 0 0 1.5 1.6 0 0 1.1 1.6 0 0 0.8 1.6 0 0 -2 1.6 0 0 2.3 1.6 0 0 0 1.6 0 0 -2.6 1.6 0 0 -175.2 1.6 0 0 -16 1.6 0 0 -10.4 1.6 0 0 -6.6 1.6 0 0 -10.8 1.6 0 0 -0.2 1.6 0 0 -6.5 1.6 0 0 -6.3 1.6 0 0 -8.4 1.6 0 0 2.3 1.6 0 0 -7.2 1.6 0 0 -6.4 1.6 0 0 2.5 1.6 0 0 -6.6 1.6 0 0 -2.4 1.6 0 0 0.2 1.6 0 0 -3.3 1.6 0 0 -5.4 1.6 0 0 2.1 1.6 0 0 -1.7 1.6 0 0 -2.6 1.6 0 0 1.4 1.6 0 0 -6.7 1.6 0 0 3.8 1.6 0 0 -7.6 1.6 0 0 -0.6 1.6 0 0 0.9 1.6 0 0 -1.2 1.6 0 0 2 1.6 0 0 1.8 1.6 0 0 -2.5 1.6 0 0 -1 1.6 0 0 3.3 1.6 0 0 -4.9 1.6 0 0 3.2 1.6 0 0 -1.9 1.6 0 0 1.2 1.6 0 0 -0.5 1.6 0 0 -5 1.6 0 0 0.6 1.6 0 0 4.4 1.6 0 0 -5 1.6 0 0 -1.7 1.6 0 0 1.8 1.6 0 0 -0.1 1.6 0 0 2.9 1.6 0 0 -3.4 1.6 0 0 2.3 1.6 0 0 -4.6 1.6 0 0 1.8 1.6 0 0 2.7 1.6 0 0 -4.6 1.6 0 0 0.9 1.6 0 0 4 1.6 0 0 -0.1 1.6 0 0 0.7 1.6 0 0 -4.9 1.6 0 0 4.7 1.6 0 0 -1 1.6 0 0 -3.4 1.6 0 0 3.3 1.6 0 0 0.1 1.6 0 0 1 1.6 0 0 0.1 1.6 0 0 -3.1 1.6 0 0 2.8 1.6 0 0 -6.2 1.6 0 0 6.6 1.6 0 0 -1.4 1.6 0 0 0.7 1.6 0 0 -5.3 1.6 0 0 1.3 1.6 0 0 4.4 1.6 0 0 0.2 1.6 0 0 -0.1 1.6 0 0 -4.4 1.6 0 0 -0.1 1.6 0 0 1 1.6 0 0 1.1 1.6 0 0 0.2 1.6 0 0 -1 1.6 0 0 3.1 1.6 0 0 -4.8 1.6 0 0 0.2 1.6 0 0 0.8 1.6 0 0 3.2 1.6 0 0 0.1 1.6 0 0 -6 1.6 0 0 0.3 1.6 0 0 1.8 1.6 0 0 -0.3 1.6 0 0 2.7 1.6 0 0 -3.5 1.6 0 0 1.6 1.6 0 0 2 1.6 0 0 -1.9 1.6 0 0 3.9 1.6 0 0 -1.7 1.6 0 0 -3.6 1.6 0 0 3.1 1.6 0 0 -0.6 1.6 0 0 0 1.6 0 0 -3.3 1.6 0 0 5.8 1.6 0 0 -3.4 1.6 0 0 1.9 1.6 0 0 1.4 1.6 0 0 0.9 1.6 0 0 -3.4 1.6 0 0 2.9 1.6 0 0 -2.6 1.6 0 0 1.2 1.6 0 0 0.2 1.6 0 0 -3.9 1.6 0 0 5.8 1.6 0 0 -2.9 1.6 0 0 1.2 1.6 0 0 1.6 1.6 0 0 -1.4 1.6 0 0 -3.8 1.6 0 0 5.1 1.6 0 0 -3.3 1.6 0 0 3 1.6 0 0 -1.6 1.6 0 0 -0.2 1.6 0 0 2.9 1.6 0 0 -5 1.6 0 0 3.5 1.6 0 0 1 1.6 0 0 0.1 1.6 0 0 -6.1 1.6 0 0 0.5 1.6 0 0 4 1.6 0 0 1.4 1.6 0 0 -3.2 1.6 0 0 4.3 1.6 0 0 -5.6 1.6 0 0 5.7 1.6 0 0 0 1.6 0 0 -1.4 1.6 0 0 -0.8 1.6 0 0 2.4 1.6 0 0 -1.2 1.6 0 0 -5.6 1.6 0 0 2 1.6 0 0 4.8 1.6 0 0 -5.7 1.6 0 0 3.5 1.6 0 0 -4.5 1.6 0 0 5.5 1.6 0 0 0.1 1.6 0 0 -2.6 1.6 0 0 1.5 1.6 0 0 1.4 1.6 0 0 -1.6 1.6 0 0 -0.8 1.6 0 0 2.3 1.6 0 0 -3.9 1.6 0 0 0.7 1.6 0 0 0 1.6 0 0 0.8 1.6 0 0 3.1 1.6 0 0 -3.4 1.6 0 0 3.7 1.6 0 0 0.2 1.6 0 0 -2.2 1.6 0 0 2.1 1.6 0 0 0.3 1.6 0 0 -2.9 1.6 0 0 -3.4 1.6 0 0 6.7 1.6 0 0 -2.1 1.6 0 0 2 1.6 0 0 -2.7 1.6 0 0 -0.2 1.6 0 0 0.7 1.6 0 0 2.5 1.6 0 0 -4.2 1.6 0 0 1.6 1.6 0 0 -0.4 1.6 0 0 -0.8 1.6 0 0 -2.1 1.6 0 0 4 1.6 0 0 -4 1.6 0 0 5.6 1.6 0 0 -1.7 1.6 0 0 1.8 1.6 0 0 -1.1 1.6 0 0 -4.3 1.6 0 0 -0.7 1.6 0 0 3.8 1.6 0 0 120.3 1.6 0 0 158.8 1.6 0 0 -2.6 1.6 0 0 3.3 1.6 0 0 1.5 1.6 0 0 -3.1 1.6 0 0 2.1 1.6 0 0 0.6 1.6 0 0 -2.7 1.6 0 0 1.1 1.6 0 0 3.3 1.6 0 0 -4.7 1.6 0 0 3.2 1.6 0 0 1.2 1.6 0 0 -3.9 1.6 0 0 2.9 1.6 0 0 -1.5 1.6 0 0 -0.4 1.6 0 0 2.9 1.6 0 0 -4.4 1.6 0 0 2.7 1.6 0 0 2.1 1.6 0 0 -2 1.6 0 0 2.1 1.6 0 0 -4.9 1.6 0 0 2.1 1.6 0 0 1.5 1.6 0 0 -2.4 1.6 0 0 0.1 1.6 0 0 0.6 1.6 0 0 2.3 1.6 0 0 0.5 1.6 0 0 -3.8 1.6 0 0 -0.2 1.6 0 0 3.1 1.6 0 0 -0.2 1.6 0 0 -0.1 1.6 0 0 0.6 1.6 0 0 -3.8 1.6 0 0 2.5 1.6 0 0 -1 1.6 0 0 0.6 1.6 0 0 2.3 1.6 0 0 0.1 1.6 0 0 -0.2 1.6 0 0 -1.6 1.6 0 0 -0.7 1.6 0 0 -2.4 1.6 0 0 0.7 1.6 0 0 1 1.6 0 0 2 1.6 0 0 0.2 1.6 0 0 -1.9 1.6 0 0 1.9 1.6 0 0 -2.3 1.6 0 0 0.2 1.6 0 0 2.9 1.6 0 0 -3.4 1.6 0 0 3.5 1.6 0 0 -0.8 1.6 0 0 -3.8 1.6 0 0 2.1 1.6 0 0 -1.3 1.6 0 0 -0.5 1.6 0 0 3.7 1.6 0 0 -2.8 1.6 0 0 2.3 1.6 0 0 1.2 1.6 0 0 -0.1 1.6 0 0 -0.1 1.6 0 0 -2.3 1.6 0 0 -0.1 1.6 0 0 -1.3 1.6 0 0 3.1 1.6 0 0 -2.5 1.6 0 0 2.6 1.6 0 0 -0.2 1.6 0 0 -1.8 1.6 0 0 1.4 1.6 0 0 -3.6 1.6 0 0 4 1.6 0 0 0.3 1.6 0 0 -3.5 1.6 0 0 0.1 1.6 0 0 3.7 1.6 0 0 -0.7 1.6 0 0 -0.8 1.6 0 0 1.8 1.6 0 0 -1.1 1.6 0 0 -2.3 1.6 0 0 0 1.6 0 0 3.2 1.6 0 0 -0.6 1.6 0 0 0.1 1.6 0 0 -2.1 1.6 0 0 2.6 1.6 0 0 -4.6 1.6 0 0 4.7 1.6 0 0 -1.8 1.6 0 0 -1.1 1.6 0 0 -1.5 1.6 0 0 2.1 1.6 0 0 -1.5 1.6 0 0 1.9 1.6 0 0 1.5 1.6 0 0 -0.9 1.6 0 0 -1 1.6 0 0 0.4 1.6 0 0 -1.4 1.6 0 0 1.4 1.6 0 0 0.8 1.6 0 0 -0.7 1.6 0 0 0 1.6 0 0 2 1.6 0 0 6.5 -1.6 0 0 3.4 -1.6 0 0 -2.7 -1.6 0 0 0 -1.6 0 0 2.7 -1.6 0 0 -0.3 -1.6 0 0 0 -1.6 0 0 -0.2 -1.6 0 0 -2.1 -1.6 0 0 0.3 -1.6 0 0 -0.8 -1.6 0 0 0.2 -1.6 0 0 0.7 -1.6 0 0 1.4 -1.6 0 0 -1.7 -1.6 0 0 0.3 -1.6 0 0 2 -1.6 0 0 -1.3 -1.6 0 0 1.3 -1.6 0 0 -0.3 -1.6 0 0 1 -1.6 0 0 -0.4 -1.6 0 0 -3.9 -1.6 0 0 3.1 -1.6 0 0 -2.3 -1.6 0 0 -0.9 -1.6 0 0 3.1 -1.6 0 0 1.1 -1.6 0 0 -3.2 -1.6 0 0 4 -1.6 0 0 -3.3 -1.6 0 0 0 -1.6 0 0 3 -1.6 0 0 -1.5 -1.6 0 0 -2.7 -1.6 0 0 2.3 -1.6 0 0 -2.8 -1.6 0 0 1 -1.6 0 0 -0.8 -1.6 0 0 -0.2 -1.6 0 0 4.1 -1.6 0 0 -3.8 -1.6 0 0 2.6 -1.6 0 0 -2.8 -1.6 0 0 4.8 -1.6 0 0 -0.4 -1.6 0 0 -2.3 -1.6 0 0 -2.1 -1.6 0 0 1.6 -1.6 0 0 -1.4 -1.6 0 0 0.3 -1.6 0 0 -0.5 -1.6 0 0 3.4 -1.6 0 0 0.7 -1.6 0 0 -0.3 -1.6 0 0 -0.6 -1.6 0 0 0 -1.6 0 0 1.4 -1.6 0 0 -1 -1.6 0 0 -2.6 -1.6 0 0 2.7 -1.6 0 0 0.8 -1.6 0 0 -4.1 -1.6 0 0 3.7 -1.6 0 0 -0.2 -1.6 0 0 0.5 -1.6 0 0 -1.5 -1.6 0 0 -1.2 -1.6 0 0 -0.5 -1.6 0 0 3.4 -1.6 0 0 -3.2 -1.6 0 0 0.5 -1.6 0 0 0.1 -1.6 0 0 1.3 -1.6 0 0 -3.4 -1.6 0 0 0.2 -1.6 0 0 0.1 -1.6 0 0 0.5 -1.6 0 0 3.1 -1.6 0 0 -3.6 -1.6 0 0 0.9 -1.6 0 0 0.1 -1.6 0 0 -1.3 -1.6 0 0 1.8 -1.6 0 0 -0.6 -1.6 0 0 3.7 -1.6 0 0 -0.6 -1.6 0 0 0 -1.6 0 0 -2.5 -1.6 0 0 3.1 -1.6 0 0 -2.2 -1.6 0 0 -1.2 -1.6 0 0 -1 -1.6 0 0 0.1 -1.6 0 0 4.2 -1.6 0 0 -4.7 -1.6 0 0 4.5 -1.6 0 0 -4.3 -1.6 0 0 2 -1.6 0 0 -1.9 -1.6 0 0 -0.4 -1.6 0 0 3.7 -1.6 0 0 -1.5 -1.6 0 0 -0.5 -1.6 0 0 -0.5 -1.6 0 0 2.2 -1.6 0 0 0.4 -1.6 0 0 0.3 -1.6 0 0 -4.2 -1.6 0 0 -0.6 -1.6 0 0 -0.1 -1.6 0 0 -0.1 -1.6 0 0 2.5 -1.6 0 0 0.4 -1.6 0 0 1 -1.6 0 0 -272.3 -1.6 0 0 -2.3 -1.6 0 0 5.8 -1.6 0 0 -4.4 -1.6 0 0 1 -1.6 0 0 0.9 -1.6 0 0 -3.6 -1.6 0 0 5.8 -1.6 0 0 -2.8 -1.6 0 0 3.6 -1.6 0 0 -4.4 -1.6 0 0 2.9 -1.6 0 0 -2.9 -1.6 0 0 -2.3 -1.6 0 0 1.6 -1.6 0 0 2.5 -1.6 0 0 -1.9 -1.6 0 0 -1.9 -1.6 0 0 3.6 -1.6 0 0 -1.6 -1.6 0 0 3.5 -1.6 0 0 -5.7 -1.6 0 0 2.7 -1.6 0 0 -1.9 -1.6 0 0 2.3 -1.6 0 0 2.9 -1.6 0 0 -6.4 -1.6 0 0 1.4 -1.6 0 0 -1.6 -1.6 0 0 -0.2 -1.6 0 0 1.6 -1.6 0 0 0.6 -1.6 0 0 3.4 -1.6 0 0 -0.6 -1.6 0 0 -4.8 -1.6 0 0 2.4 -1.6 0 0 1.9 -1.6 0 0 -2.8 -1.6 0 0 -1.8 -1.6 0 0 1.3 -1.6 0 0 -0.4 -1.6 0 0 0.9 -1.6 0 0 -2.1 -1.6 0 0 4.9 -1.6 0 0 -4.8 -1.6 0 0 6.4 -1.6 0 0 -6.5 -1.6 0 0 -0.2 -1.6 0 0 1.8 -1.6 0 0 3.3 -1.6 0 0 -3.9 -1.6 0 0 2.1 -1.6 0 0 2.9 -1.6 0 0 -3.7 -1.6 0 0 -2.2 -1.6 0 0 2.5 -1.6 0 0 1.3 -1.6 0 0 -4.4 -1.6 0 0 1.2 -1.6 0 0 1.7 -1.6 0 0 2.9 -1.6 0 0 -2.3 -1.6 0 0 0.9 -1.6 0 0 -0.5 -1.6 0 0 -0.5 -1.6 0 0 -2.6 -1.6 0 0 -0.2 -1.6 0 0 -1.1 -1.6 0 0 1.8 -1.6 0 0 -0.1 -1.6 0 0 -0.1 -1.6 0 0 -0.8 -1.6 0 0 1.2 -1.6 0 0 -2.3 -1.6 0 0 4.8 -1.6 0 0 0.7 -1.6 0 0 -5.5 -1.6 0 0 6.4 -1.6 0 0 -1.6 -1.6 0 0 -5.1 -1.6 0 0 5.9 -1.6 0 0 -5.4 -1.6 0 0 1 -1.6 0 0 3.3 -1.6 0 0 -3.1 -1.6 0 0 3.3 -1.6 0 0 1.4 -1.6 0 0 -5.6 -1.6 0 0 -0.6 -1.6 0 0 0 -1.6 0 0 3.7 -1.6 0 0 -3.8 -1.6 0 0 2.1 -1.6 0 0 -2.3 -1.6 0 0 3.8 -1.6 0 0 0.5 -1.6 0 0 -4.8 -1.6 0 0 2.1 -1.6 0 0 -1.9 -1.6 0 0 2.1 -1.6 0 0 0.6 -1.6 0 0 2 -1.6 0 0 -4.6 -1.6 0 0 5.3 -1.6 0 0 -5.5 -1.6 0 0 1.5 -1.6 0 0 1.9 -1.6 0 0 2.9 -1.6 0 0 -5.4 -1.6 0 0 4.3 -1.6 0 0 -5.1 -1.6 0 0 0.9 -1.6 0 0 1.4 -1.6 0 0 -2.4 -1.6 0 0 0.7 -1.6 0 0 1.8 -1.6 0 0 -2.5 -1.6 0 0 5.7 -1.6 0 0 -5.7 -1.6 0 0 4.6 -1.6 0 0 -1.8 -1.6 0 0 -1.6 -1.6 0 0 1.9 -1.6 0 0 -3 -1.6 0 0 2.8 -1.6 0 0 -1.8 -1.6 0 0 3.1 -1.6 0 0 2.5 -1.6 0 0 0 -1.6 0 0 -1.3 -1.6 0 0 0.5 -1.6 0 0 -2 -1.6 0 0 -0.6 -1.6 0 0 -2.7 -1.6 0 0 1.5 -1.6 0 0 -0.2 -1.6 0 0 1.9 -1.6 0 0 -3.5 -1.6 0 0 3.5 -1.6 0 0 0 -1.6 0 0 -2.3 -1.6 0 0 6 -1.6 0 0 -3 -1.6 0 0 2.6 -1.6 0 0 -4.3 -1.6 0 0 0 -1.6 0 0 2.6 -1.6 0 0 0.1 -1.6 0 0 0.2 -1.6 0 0 4 -1.6 0 0 -6.5 -1.6 0 0 5.7 -1.6 0 0 0 -1.6 0 0 1 -1.6 0 0 -1.2 -1.6 0 0 0.8 -1.6 0 0 0.2 -1.6 0 0 -3.6 -1.6 0 0 2.5 -1.6 0 0 2.5 -1.6 0 0 -1.2 -1.6 0 0 1.9 -1.6 0 0 2.4 -1.6 0 0 -2.9 -1.6 0 0 -0.8 -1.6 0 0 0.2 -1.6 0 0 0.7 -1.6 0 0 3 -1.6 0 0 1.4 -1.6 0 0 1.9 -1.6 0 0 3.9 -1.6 0 0 1.8 -1.6 0 0 1.9 -1.6 0 0 -1 -1.6 0 0 4.8 -1.6 0 0 4.3 -1.6 0 0 1.2 -1.6 0 0 6.8 -1.6 0 0 0 -1.6 0 0 2.1 -1.6 0 0 4.4 -1.6 0 0 4.6 -1.6 0 0 9.6 -1.6 0 0 0.7 -1.6 0 0 8.6 -1.6 0 0 3.6 -1.6 0 0 11.2 -1.6 0 0 4.4 -1.6 0 0 130.5 -1.6 0 0 56.2 -1.6 0 0 2.5 -1.6 0 0 -1 -1.6 0 0 1.3 -1.6 0 0 -2.6 -1.6 0 0 -2.1 -1.6 0 0 2.5 -1.6 0 0 -2.4 -1.6 0 0 2.5 -1.6 0 0 -2 -1.6 0 0 0.7 -1.6 0 0 -0.7 -1.6 0 0 -0.5 -1.6 0 0 2.5 -1.6 0 0 -2.5 -1.6 0 0 0.3 -1.6 0 0 4.1 -1.6 0 0 -4.1 -1.6 0 0 1 -1.6 0 0 -0.4 -1.6 0 0 -1.1 -1.6 0 0 0.5 -1.6 0 0 3 -1.6 0 0 -2.9 -1.6 0 0 0.8 -1.6 0 0 1.8 -1.6 0 0 -1.2 -1.6 0 0 0.8 -1.6 0 0 -2.6 -1.6 0 0 -0.3 -1.6 0 0 1.8 -1.6 0 0 0.4 -1.6 0 0 -0.8 -1.6 0 0 -1.1 -1.6 0 0 0.4 -1.6 0 0 1.4 -1.6 0 0 0.9 -1.6 0 0 -3 -1.6 0 0 2.5 -1.6 0 0 1.5 -1.6 0 0 -2.3 -1.6 0 0 1.8 -1.6 0 0 -3.5 -1.6 0 0 4.5 -1.6 0 0 -2.6 -1.6 0 0 1.2 -1.6 0 0 -2.5 -1.6 0 0 2.6 -1.6 0 0 1.3 -1.6 0 0 -0.9 -1.6 0 0 -2.9 -1.6 0 0 0.5 -1.6 0 0 0.7 -1.6 0 0 1.4 -1.6 0 0 -1.8 -1.6 0 0 1.6 -1.6 0 0 -0.8 -1.6 0 0 -1.2 -1.6 0z" fill="#b4d7fb"/>
<path d="M930.1 472.8l1.6 0 0 1 1.6 0 0 -0.8 1.6 0 0 -0.2 1.6 0 0 0.2 1.6 0 0 2.1 1.6 0 0 0.7 1.6 0 0 -4.7 1.6 0 0 0.4 1.6 0 0 2.4 1.6 0 0 -0.9 1.6 0 0 2.6 1.6 0 0 -1.5 1.6 0 0 -0.7 1.6 0 0 -0.6 1.6 0 0 2.4 1.6 0 0 0.4 1.6 0 0 -4.5 1.6 0 0 0.7 1.6 0 0 3.6 1.6 0 0 -3.4 1.6 0 0 0.1 1.6 0 0 3.2 1.6 0 0 -3.2 1.6 0 0 2.4 1.6 0 0 0.2 1.6 0 0 0.7 1.6 0 0 -2 1.6 0 0 -0.1 1.6 0 0 0.5 1.6 0 0 1.8 1.6 0 0 -3.4 1.6 0 0 2.6 1.6 0 0 0.2 1.6 0 0 -1.9 1.6 0 0 2.2 1.6 0 0 -3.9 1.6 0 0 1.7 1.6 0 0 -0.9 1.6 0 0 2.5 1.6 0 0 -0.4 1.6 0 0 0.8 1.6 0 0 0 1.6 0 0 -0.8 1.6 0 0 -2.1 1.6 0 0 1.7 1.6 0 0 -2 1.6 0 0 3.7 1.6 0 0 -0.7 1.6 0 0 0.9 1.6 0 0 -4.4 1.6 0 0 4.3 1.6 0 0 -2 1.6 0 0 -0.8 1.6 0 0 2.4 1.6 0 0 -4.4 1.6 0 0 0 1.6 0 0 -166.7 1.6 0 0 -5.2 1.6 0 0 -11 1.6 0 0 -5.1 1.6 0 0 -5 1.6 0 0 -4.1 1.6 0 0 -7 1.6 0 0 -1.8 1.6 0 0 0.8 1.6 0 0 -5.4 1.6 0 0 0.5 1.6 0 0 -6.1 1.6 0 0 2.9 1.6 0 0 1.3 1.6 0 0 -7.2 1.6 0 0 4.2 1.6 0 0 -4.9 1.6 0 0 1.1 1.6 0 0 -1.6 1.6 0 0 -0.4 1.6 0 0 -1.8 1.6 0 0 0.3 1.6 0 0 1.4 1.6 0 0 2.1 1.6 0 0 -1.3 1.6 0 0 1.3 1.6 0 0 -0.5 1.6 0 0 -0.9 1.6 0 0 0.1 1.6 0 0 0.9 1.6 0 0 -0.1 1.6 0 0 -0.1 1.6 0 0 0.7 1.6 0 0 -2.5 1.6 0 0 3.1 1.6 0 0 -0.7 1.6 0 0 0.5 1.6 0 0 -3.7 1.6 0 0 3.3 1.6 0 0 1 1.6 0 0 -5 1.6 0 0 3.3 1.6 0 0 -2.9 1.6 0 0 3.9 1.6 0 0 0 1.6 0 0 -1.3 1.6 0 0 3.1 1.6 0 0 -6.3 1.6 0 0 6.6 1.6 0 0 -5.4 1.6 0 0 2.5 1.6 0 0 -0.5 1.6 0 0 4.3 1.6 0 0 -4.8 1.6 0 0 3.3 1.6 0 0 1.2 1.6 0 0 1.7 1.6 0 0 0.4 1.6 0 0 -4.8 1.6 0 0 -0.7 1.6 0 0 4.9 1.6 0 0 -2 1.6 0 0 0.5 1.6 0 0 1.9 1.6 0 0 0.4 1.6 0 0 -0.2 1.6 0 0 1.8 1.6 0 0 -2.7 1.6 0 0 2.9 1.6 0 0 -0.3 1.6 0 0 2.3 1.6 0 0 -5.7 1.6 0 0 6.9 1.6 0 0 -3.9 1.6 0 0 0.8 1.6 0 0 2.7 1.6 0 0 -4.9 1.6 0 0 7 1.6 0 0 -0.7 1.6 0 0 -0.1 1.6 0 0 -1.9 1.6 0 0 0.8 1.6 0 0 -0.7 1.6 0 0 -1 1.6 0 0 6 1.6 0 0 -2.8 1.6 0 0 1.5 1.6 0 0 -1.9 1.6 0 0 1.6 1.6 0 0 1.6 1.6 0 0 1.9 1.6 0 0 -1 1.6 0 0 -0.6 1.6 0 0 1 1.6 0 0 0 1.6 0 0 -1.7 1.6 0 0 2.6 1.6 0 0 -3.7 1.6 0 0 4.2 1.6 0 0 -0.2 1.6 0 0 0.4 1.6 0 0 -3.6 1.6 0 0 2.9 1.6 0 0 -2.8 1.6 0 0 6.9 1.6 0 0 -6.2 1.6 0 0 6.2 1.6 0 0 -5 1.6 0 0 6.2 1.6 0 0 -5.2 1.6 0 0 2.3 1.6 0 0 -0.2 1.6 0 0 2.6 1.6 0 0 0.3 1.6 0 0 1.6 1.6 0 0 0.4 1.6 0 0 -2.9 1.6 0 0 2.4 1.6 0 0 1.8 1.6 0 0 -0.3 1.6 0 0 0.3 1.6 0 0 0.1 1.6 0 0 -1.4 1.6 0 0 -3.6 1.6 0 0 3.1 1.6 0 0 -1.1 1.6 0 0 4.5 1.6 0 0 -3.6 1.6 0 0 -1.4 1.6 0 0 -1 1.6 0 0 2.8 1.6 0 0 1 1.6 0 0 -3 1.6 0 0 6.4 1.6 0 0 -4.5 1.6 0 0 0.8 1.6 0 0 0.1 1.6 0 0 3 1.6 0 0 1.6 1.6 0 0 -0.1 1.6 0 0 -3.5 1.6 0 0 2.9 1.6 0 0 -5 1.6 0 0 6.3 1.6 0 0 -4.8 1.6 0 0 2.9 1.6 0 0 1.4 1.6 0 0 0.3 1.6 0 0 -0.4 1.6 0 0 0 1.6 0 0 1 1.6 0 0 0.1 1.6 0 0 -5.7 1.6 0 0 4.7 1.6 0 0 -1.3 1.6 0 0 -0.6 1.6 0 0 2.9 1.6 0 0 -4.7 1.6 0 0 5.2 1.6 0 0 0.7 1.6 0 0 0.8 1.6 0 0 -0.9 1.6 0 0 1.1 1.6 0 0 -3.4 1.6 0 0 0.6 1.6 0 0 3.3 1.6 0 0 -6.3 1.6 0 0 2.2 1.6 0 0 1.6 1.6 0 0 -3.3 1.6 0 0 3.7 1.6 0 0 2.4 1.6 0 0 -4.2 1.6 0 0 -1.5 1.6 0 0 6.6 1.6 0 0 -2.4 1.6 0 0 2 1.6 0 0 -5.1 1.6 0 0 6 1.6 0 0 -4.8 1.6 0 0 4.5 1.6 0 0 -2.8 1.6 0 0 -0.3 1.6 0 0 -0.5 1.6 0 0 4.8 1.6 0 0 -2.2 1.6 0 0 2.3 1.6 0 0 0.1 1.6 0 0 0 1.6 0 0 0.2 1.6 0 0 -48.9 1.6 0 0 128.9 1.6 0 0 104.5 1.6 0 0 -0.4 1.6 0 0 2.3 1.6 0 0 -0.1 1.6 0 0 -1.7 1.6 0 0 -0.2 1.6 0 0 0.6 1.6 0 0 -2.3 1.6 0 0 0.1 1.6 0 0 1.1 1.6 0 0 2.2 1.6 0 0 -1.7 1.6 0 0 2.7 1.6 0 0 -3.3 1.6 0 0 3.4 1.6 0 0 -4.3 1.6 0 0 5 1.6 0 0 -3.6 1.6 0 0 1.7 1.6 0 0 -1.9 1.6 0 0 1.8 1.6 0 0 -1.9 1.6 0 0 0.8 1.6 0 0 0.4 1.6 0 0 -2 1.6 0 0 4.4 1.6 0 0 -4.2 1.6 0 0 2.5 1.6 0 0 -1.1 1.6 0 0 0.3 1.6 0 0 1.5 1.6 0 0 -0.7 1.6 0 0 -2.8 1.6 0 0 3 1.6 0 0 -2.6 1.6 0 0 4.4 1.6 0 0 -2.3 1.6 0 0 -0.7 1.6 0 0 1.6 1.6 0 0 1.3 1.6 0 0 -3.5 1.6 0 0 0.2 1.6 0 0 2.1 1.6 0 0 1.1 1.6 0 0 -3.7 1.6 0 0 0.4 1.6 0 0 -0.4 1.6 0 0 0.1 1.6 0 0 3 1.6 0 0 -1.8 1.6 0 0 0.9 1.6 0 0 0.4 1.6 0 0 -0.1 1.6 0 0 -1.5 1.6 0 0 -2.1 1.6 0 0 3.2 1.6 0 0 0.6 1.6 0 0 -1.4 1.6 0 0 0 1.6 0 0 1.2 1.6 0 0 -1.3 1.6 0 0 -0.1 1.6 0 0 -0.5 1.6 0 0 2.9 1.6 0 0 -2.4 1.6 0 0 1.3 1.6 0 0 -2.7 1.6 0 0 1.6 1.6 0 0 -1.1 1.6 0 0 0 1.6 0 0 3.1 1.6 0 0 0.5 1.6 0 0 -3.3 1.6 0 0 3.3 1.6 0 0 -4.5 1.6 0 0 1.6 1.6 0 0 1.5 1.6 0 0 -1.4 1.6 0 0 2.6 1.6 0 0 -2.4 1.6 0 0 -1.7 1.6 0 0 4.4 1.6 0 0 -4.6 1.6 0 0 3.6 1.6 0 0 -0.4 1.6 0 0 -3.2 1.6 0 0 1 1.6 0 0 2.3 1.6 0 0 -3.6 1.6 0 0 4.9 1.6 0 0 -2.8 1.6 0 0 0.9 1.6 0 0 -2.3 1.6 0 0 4.2 1.6 0 0 -1 1.6 0 0 -0.8 1.6 0 0 1.7 1.6 0 0 -2.6 1.6 0 0 -1.3 1.6 0 0 -0.4 1.6 0 0 4.1 1.6 0 0 -1.6 1.6 0 0 -3 1.6 0 0 4.8 1.6 0 0 -3 1.6 0 0 2.2 1.6 0 0 -3.5 1.6 0 0 1.9 1.6 0 0 -1.8 1.6 0 0 4.2 1.6 0 0 -2.4 1.6 0 0 1 1.6 0 0 1.3 1.6 0 0 9.9 -1.6 0 0 1.3 -1.6 0 0 -4.7 -1.6 0 0 2.8 -1.6 0 0 1.8 -1.6 0 0 -0.9 -1.6 0 0 -3.8 -1.6 0 0 4.3 -1.6 0 0 -2.8 -1.6 0 0 2.6 -1.6 0 0 -3.7 -1.6 0 0 3.7 -1.6 0 0 -4.2 -1.6 0 0 0.4 -1.6 0 0 0.6 -1.6 0 0 3.4 -1.6 0 0 -3.5 -1.6 0 0 2.1 -1.6 0 0 -0.9 -1.6 0 0 -1.8 -1.6 0 0 3.9 -1.6 0 0 -4.3 -1.6 0 0 0.4 -1.6 0 0 3.4 -1.6 0 0 -2.8 -1.6 0 0 0.7 -1.6 0 0 -1 -1.6 0 0 1.2 -1.6 0 0 -0.6 -1.6 0 0 2.8 -1.6 0 0 -1.9 -1.6 0 0 -1.7 -1.6 0 0 3.6 -1.6 0 0 -0.1 -1.6 0 0 -3.9 -1.6 0 0 1.1 -1.6 0 0 0 -1.6 0 0 -0.9 -1.6 0 0 0.6 -1.6 0 0 3.9 -1.6 0 0 -4.3 -1.6 0 0 3.3 -1.6 0 0 -0.6 -1.6 0 0 1.4 -1.6 0 0 -4.4 -1.6 0 0 -0.1 -1.6 0 0 2.8 -1.6 0 0 0 -1.6 0 0 -1.9 -1.6 0 0 1.1 -1.6 0 0 2.5 -1.6 0 0 -1.1 -1.6 0 0 1.2 -1.6 0 0 -2.9 -1.6 0 0 -0.7 -1.6 0 0 3.5 -1.6 0 0 -4.1 -1.6 0 0 4.3 -1.6 0 0 -3.5 -1.6 0 0 0.7 -1.6 0 0 -1.3 -1.6 0 0 0 -1.6 0 0 -0.2 -1.6 0 0 0.1 -1.6 0 0 0.4 -1.6 0 0 3.2 -1.6 0 0 -2.8 -1.6 0 0 1.3 -1.6 0 0 -2.4 -1.6 0 0 0.9 -1.6 0 0 1.8 -1.6 0 0 -1.2 -1.6 0 0 0.7 -1.6 0 0 -2.5 -1.6 0 0 1.1 -1.6 0 0 3.1 -1.6 0 0 -4.2 -1.6 0 0 0.5 -1.6 0 0 0.8 -1.6 0 0 -1.2 -1.6 0 0 0.5 -1.6 0 0 0.6 -1.6 0 0 0.2 -1.6 0 0 -0.9 -1.6 0 0 4.4 -1.6 0 0 -3.9 -1.6 0 0 1.5 -1.6 0 0 -1.5 -1.6 0 0 3.3 -1.6 0 0 -3.8 -1.6 0 0 -0.4 -1.6 0 0 -0.1 -1.6 0 0 0.7 -1.6 0 0 -0.6 -1.6 0 0 4.6 -1.6 0 0 -1.8 -1.6 0 0 -0.6 -1.6 0 0 -0.1 -1.6 0 0 0.1 -1.6 0 0 -0.2 -1.6 0 0 0 -1.6 0 0 2.3 -1.6 0 0 -1.8 -1.6 0 0 -2.7 -1.6 0 0 4.5 -1.6 0 0 0.1 -1.6 0 0 -4.5 -1.6 0 0 3.2 -1.6 0 0 -2.9 -1.6 0 0 -0.7 -1.6 0 0 3.7 -1.6 0 0 -4.3 -1.6 0 0 3.5 -1.6 0 0 -1 -1.6 0 0 13.5 -1.6 0 0 -192.6 -1.6 0 0 1.2 -1.6 0 0 -0.8 -1.6 0 0 -4 -1.6 0 0 0 -1.6 0 0 0.4 -1.6 0 0 -1.9 -1.6 0 0 1.1 -1.6 0 0 -1.6 -1.6 0 0 2.6 -1.6 0 0 2.5 -1.6 0 0 -3.9 -1.6 0 0 2.7 -1.6 0 0 -2.6 -1.6 0 0 -1.4 -1.6 0 0 4.6 -1.6 0 0 -3.7 -1.6 0 0 -0.1 -1.6 0 0 -0.7 -1.6 0 0 4.2 -1.6 0 0 -3 -1.6 0 0 -1.2 -1.6 0 0 1 -1.6 0 0 -0.6 -1.6 0 0 0.3 -1.6 0 0 1.5 -1.6 0 0 0.2 -1.6 0 0 -1.6 -1.6 0 0 -3.3 -1.6 0 0 5.4 -1.6 0 0 -0.2 -1.6 0 0 -3.3 -1.6 0 0 0.5 -1.6 0 0 -3.4 -1.6 0 0 -0.3 -1.6 0 0 2.9 -1.6 0 0 -3 -1.6 0 0 6.3 -1.6 0 0 -0.4 -1.6 0 0 -4.7 -1.6 0 0 -1.1 -1.6 0 0 -0.9 -1.6 0 0 1 -1.6 0 0 0.6 -1.6 0 0 4.2 -1.6 0 0 -6.1 -1.6 0 0 6.5 -1.6 0 0 -6.5 -1.6 0 0 4.3 -1.6 0 0 -5.1 -1.6 0 0 6.4 -1.6 0 0 -5.5 -1.6 0 0 2.8 -1.6 0 0 -2.1 -1.6 0 0 -2.1 -1.6 0 0 0.2 -1.6 0 0 0.2 -1.6 0 0 3 -1.6 0 0 1 -1.6 0 0 -3.9 -1.6 0 0 4 -1.6 0 0 -4.3 -1.6 0 0 -1.4 -1.6 0 0 0.9 -1.6 0 0 4.3 -1.6 0 0 -3.9 -1.6 0 0 2.3 -1.6 0 0 -3.7 -1.6 0 0 0.4 -1.6 0 0 -0.5 -1.6 0 0 -0.2 -1.6 0 0 -1.8 -1.6 0 0 1.5 -1.6 0 0 -2.4 -1.6 0 0 3 -1.6 0 0 0.1 -1.6 0 0 1.8 -1.6 0 0 -4.7 -1.6 0 0 -1.6 -1.6 0 0 2.2 -1.6 0 0 -1.7 -1.6 0 0 -1.4 -1.6 0 0 6.5 -1.6 0 0 -6.9 -1.6 0 0 0.9 -1.6 0 0 3.6 -1.6 0 0 -1.6 -1.6 0 0 -0.5 -1.6 0 0 0.2 -1.6 0 0 1.8 -1.6 0 0 -6.3 -1.6 0 0 2.3 -1.6 0 0 0.2 -1.6 0 0 2.5 -1.6 0 0 -0.9 -1.6 0 0 -1.1 -1.6 0 0 -5.4 -1.6 0 0 1.8 -1.6 0 0 0.9 -1.6 0 0 -3.4 -1.6 0 0 2 -1.6 0 0 3.8 -1.6 0 0 -4.2 -1.6 0 0 2.9 -1.6 0 0 -5.8 -1.6 0 0 4.7 -1.6 0 0 -5.5 -1.6 0 0 -0.7 -1.6 0 0 4.1 -1.6 0 0 0.6 -1.6 0 0 -5.8 -1.6 0 0 6.3 -1.6 0 0 -1.6 -1.6 0 0 -4.3 -1.6 0 0 -1.3 -1.6 0 0 0.4 -1.6 0 0 -0.8 -1.6 0 0 3.4 -1.6 0 0 -2.6 -1.6 0 0 0.5 -1.6 0 0 -2.1 -1.6 0 0 2.1 -1.6 0 0 -3.2 -1.6 0 0 5.2 -1.6 0 0 -6.6 -1.6 0 0 0.6 -1.6 0 0 -0.6 -1.6 0 0 0 -1.6 0 0 5 -1.6 0 0 -1.7 -1.6 0 0 1.2 -1.6 0 0 -1.1 -1.6 0 0 -4.4 -1.6 0 0 3.9 -1.6 0 0 -5.2 -1.6 0 0 -0.8 -1.6 0 0 -0.3 -1.6 0 0 1.2 -1.6 0 0 3.7 -1.6 0 0 -3.9 -1.6 0 0 -2.6 -1.6 0 0 -0.1 -1.6 0 0 5.2 -1.6 0 0 -2 -1.6 0 0 2 -1.6 0 0 -1.5 -1.6 0 0 -0.3 -1.6 0 0 -1.7 -1.6 0 0 -1.5 -1.6 0 0 -0.1 -1.6 0 0 -0.2 -1.6 0 0 -2 -1.6 0 0 0 -1.6 0 0 5.6 -1.6 0 0 -0.1 -1.6 0 0 0.3 -1.6 0 0 0.7 -1.6 0 0 -6.1 -1.6 0 0 3.9 -1.6 0 0 -4.8 -1.6 0 0 1.7 -1.6 0 0 3.8 -1.6 0 0 -5.1 -1.6 0 0 4.1 -1.6 0 0 -3.6 -1.6 0 0 -0.4 -1.6 0 0 4.3 -1.6 0 0 -1.5 -1.6 0 0 -0.2 -1.6 0 0 0.4 -1.6 0 0 -0.9 -1.6 0 0 3.9 -1.6 0 0 1.6 -1.6 0 0 -3.8 -1.6 0 0 5.6 -1.6 0 0 -3.3 -1.6 0 0 2.9 -1.6 0 0 -0.4 -1.6 0 0 3.3 -1.6 0 0 -0.5 -1.6 0 0 2.6 -1.6 0 0 3.2 -1.6 0 0 2.6 -1.6 0 0 7.5 -1.6 0 0 1.8 -1.6 0 0 4.1 -1.6 0 0 3.8 -1.6 0 0 9.1 -1.6 0 0 93.7 -1.6 0 0 86.4 -1.6 0 0 -6.2 -1.6 0 0 -2.6 -1.6 0 0 4.5 -1.6 0 0 0.1 -1.6 0 0 -4.6 -1.6 0 0 2.3 -1.6 0 0 2.3 -1.6 0 0 -0.4 -1.6 0 0 -2.4 -1.6 0 0 -1 -1.6 0 0 -0.3 -1.6 0 0 -0.4 -1.6 0 0 2.7 -1.6 0 0 1 -1.6 0 0 -4 -1.6 0 0 3.5 -1.6 0 0 -2.2 -1.6 0 0 2 -1.6 0 0 -2.3 -1.6 0 0 2.8 -1.6 0 0 0.2 -1.6 0 0 -1.1 -1.6 0 0 -0.7 -1.6 0 0 -0.9 -1.6 0 0 0.1 -1.6 0 0 2.7 -1.6 0 0 0.8 -1.6 0 0 -0.4 -1.6 0 0 -2.4 -1.6 0 0 2.2 -1.6 0 0 -3 -1.6 0 0 0 -1.6 0 0 -0.9 -1.6 0 0 0.8 -1.6 0 0 2.4 -1.6 0 0 1.2 -1.6 0 0 -3.5 -1.6 0 0 -0.3 -1.6 0 0 3.6 -1.6 0 0 -3.7 -1.6 0 0 -0.9 -1.6 0 0 1.5 -1.6 0 0 3.3 -1.6 0 0 -4.5 -1.6 0 0 2 -1.6 0 0 -1.4 -1.6 0 0 1 -1.6 0 0 -0.3 -1.6 0 0 2.6 -1.6 0 0 0.2 -1.6 0 0 -2.8 -1.6 0 0 0.3 -1.6 0 0 -1.1 -1.6 0 0 1.6 -1.6 0 0 -0.1 -1.6 0 0 1 -1.6 0 0 -1.9 -1.6 0z" fill="#1c63b3"/>
<path d="M1022.9 494V304" stroke="#1c63b3" stroke-width="2.6"/>
</g></g>
<path d="M931.6 36.8H1505.8V495.6H931.6Z M931.5 495.6v6 M1082.6 495.6v6 M1233.7 495.6v6 M1384.8 495.6v6 M1007 495.6v2.8 M1158.2 495.6v2.8 M1309.2 495.6v2.8 M1460.3 495.6v2.8 M931.6 480.5h-7.2 M931.6 332.6h-7.2 M931.6 184.7h-7.2 M931.6 36.8h-7.2 M931.6 406.6h-3.2 M931.6 258.6h-3.2 M931.6 110.8h-3.2" fill="none" stroke="#000" stroke-width="2.1" stroke-linecap="square"/>
<text transform="matrix(1 0 0 1.04 874.2 48.2)" font-size="32.4">0.3</text>
<text transform="matrix(1 0 0 1.04 874.3 196)" font-size="32.4">0.2</text>
<text transform="matrix(1 0 0 1.04 874.6 344)" font-size="32.4">0.1</text>
<text transform="matrix(1 0 0 1.04 874.3 492)" font-size="32.4">0.0</text>
<text transform="matrix(1 0 0 1.04 911.3 529.9)" font-size="32.4">0.5</text>
<text transform="matrix(1 0 0 1.04 1063.2 529.9)" font-size="32.4">1.0</text>
<text transform="matrix(1 0 0 1.04 1214.4 529.9)" font-size="32.4">1.5</text>
<text transform="matrix(1 0 0 1.04 1364 530.2)" font-size="32.4">2.0</text>
<text transform="matrix(1 0 0 1.04 1162.4 573.4)" font-size="32.4">Time (&#181;<tspan dx="2">s)</tspan></text>
<text transform="matrix(0 -0.9835 1.04 0 861.6 385.4)" font-size="32.4">EL intensity</text>
<text transform="matrix(0 -1 1.04 0 861.6 212.5)" font-size="32.4">(a.u.)</text>
<text transform="matrix(1 0 0 1 819.3 29.3)" font-size="42" font-weight="bold">b</text>
<text transform="matrix(0.983 0 0 1.04 1359.7 75)" font-size="32.4">J (A cm<tspan font-size="19.2" dy="-9.1">-2</tspan><tspan dy="9.1">)</tspan></text>
<path d="M1368.2 106.7H1408" stroke="#444444" stroke-width="2.3"/>
<text transform="matrix(1 0 0 1.04 1420.9 117)" font-size="32.4">165</text>
<path d="M1368.2 140.9H1408" stroke="#a26c9f" stroke-width="2.3"/>
<text transform="matrix(1 0 0 1.04 1421.5 151.2)" font-size="32.4">423</text>
<path d="M1368.2 176H1408" stroke="#cc562c" stroke-width="2.3"/>
<text transform="matrix(1 0 0 1.04 1420.6 186.3)" font-size="32.4">668</text>
<path d="M1368.2 211.2H1408" stroke="#eaa23a" stroke-width="2.3"/>
<text transform="matrix(1 0 0 1.04 1420.7 221.5)" font-size="32.4">940</text>
<path d="M1368.2 246H1408" stroke="#b0d4f4" stroke-width="2.3"/>
<text transform="matrix(1 0 0 1.04 1420.9 256.3)" font-size="32.4">1211</text>
<path d="M1368.2 280.7H1408" stroke="#2161aa" stroke-width="2.3"/>
<text transform="matrix(1 0 0 1.04 1420.9 291)" font-size="32.4">1478</text>
<defs><filter id="bl" x="-2%" y="-2%" width="104%" height="104%"><feGaussianBlur stdDeviation="0.45"/></filter><clipPath id="ca"><rect x="137.7" y="42.5" width="571.9" height="455.1"/></clipPath>
<clipPath id="cb"><rect x="931.6" y="36.8" width="574.2" height="460.8"/></clipPath></defs>
</svg>
</body></html>
